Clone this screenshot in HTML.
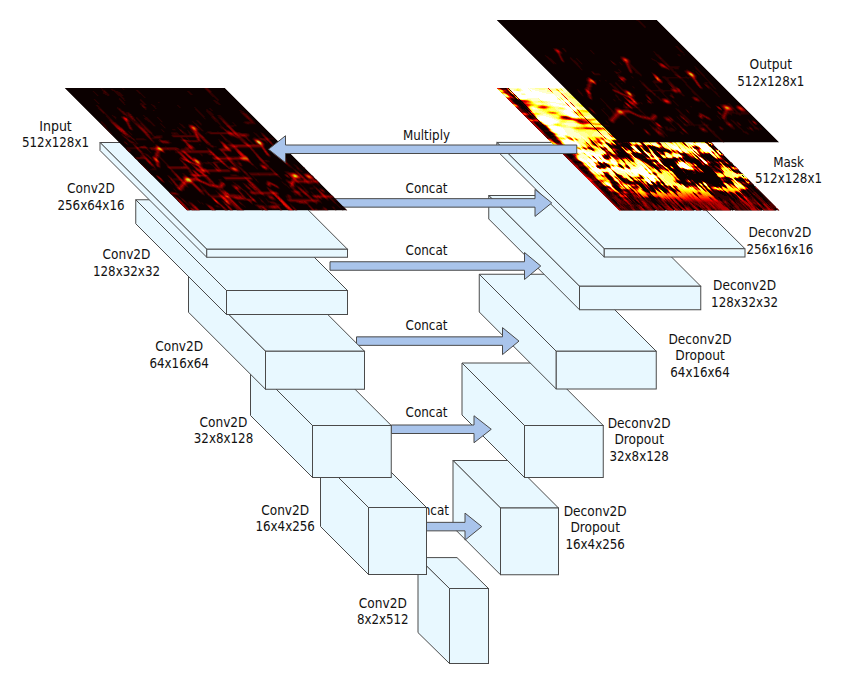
<!DOCTYPE html>
<html><head><meta charset="utf-8"><title>U-Net</title>
<style>
html,body{margin:0;padding:0;background:#fff;}
svg{display:block}
.t text{font-family:"DejaVu Sans Condensed","DejaVu Sans","Liberation Sans",sans-serif;font-size:14px;fill:#111;text-anchor:middle;}
</style></head><body>
<svg width="856" height="684" viewBox="0 0 856 684">
<defs><clipPath id="cp"><rect x="0" y="0" width="160" height="122"/></clipPath></defs>
<g fill="#e8f8ff" stroke="#4a4a4a" stroke-width="1" stroke-linejoin="miter">
<polygon points="453.0,460.5 511.0,460.5 558.5,508 500.5,508"/>
<polygon points="453.0,460.5 500.5,508 500.5,574.75 453.0,527.25"/>
<rect x="500.5" y="508" width="58.0" height="66.75"/>
<polygon points="462.0,363.0 540.75,363.0 603.25,425.5 524.5,425.5"/>
<polygon points="462.0,363.0 524.5,425.5 524.5,477.5 462.0,415.0"/>
<rect x="524.5" y="425.5" width="78.75" height="52.0"/>
<polygon points="479.25,274.25 579.25,274.25 656.25,351.25 556.25,351.25"/>
<polygon points="479.25,274.25 556.25,351.25 556.25,389 479.25,312"/>
<rect x="556.25" y="351.25" width="100.0" height="37.75"/>
<polygon points="488.75,195.5 610.0,195.5 700.75,286.25 579.5,286.25"/>
<polygon points="488.75,195.5 579.5,286.25 579.5,309.75 488.75,219.0"/>
<rect x="579.5" y="286.25" width="121.25" height="23.5"/>
<polygon points="496.85,142.4 637.6,142.4 745,248.75 604.25,248.75"/>
<polygon points="496.85,142.4 604.25,248.75 604.25,257 496.85,150.65"/>
<rect x="604.25" y="248.75" width="140.75" height="8.25"/>
</g>
<g transform="matrix(1.00313 0 1.00410 1.00410 496.5 88)" clip-path="url(#cp)"><rect x="0" y="0" width="160" height="122" fill="#0b0000"/><g fill="none" stroke-width="2" transform="scale(.5)" shape-rendering="crispEdges"><path stroke="#2c0000" d="M7 26V32M7 56V62M7 70V84M7 88V100M7 128V142M7 146V152M7 158V172M7 198V238M7 240V244M9 0V2M9 22V24M9 32V48M9 54V56M9 60V62M9 68V70M9 100V108M9 126V128M9 142V146M9 150V158M9 162V164M9 172V180M9 186V200M9 204V222M9 232V236M11 0V2M11 22V24M11 32V38M11 42V48M11 54V56M11 60V62M11 68V70M11 84V88M11 100V108M11 126V128M11 140V146M11 150V154M11 156V158M11 162V164M11 172V180M11 186V192M11 196V198M11 216V222M11 230V236M11 242V244M13 0V2M13 22V24M13 50V54M13 60V62M13 68V74M13 84V88M13 100V110M13 116V118M13 140V146M13 150V152M13 156V158M13 162V166M13 170V178M13 186V192M13 196V198M13 214V218M15 0V2M15 12V16M15 20V22M15 42V48M15 56V60M15 68V74M15 84V88M15 94V96M15 98V110M15 116V118M15 128V130M15 138V140M15 146V148M15 150V152M15 156V158M15 160V176M15 186V190M15 196V198M15 204V206M15 212V218M17 2V14M17 16V18M17 20V22M17 46V48M17 54V58M17 70V74M17 84V88M17 94V96M17 98V102M17 104V108M17 130V138M17 146V148M17 150V152M17 156V158M17 162V164M17 166V168M17 172V178M17 184V186M17 190V196M17 202V208M17 210V214M17 232V238M19 14V18M19 20V22M19 58V62M19 66V72M19 84V88M19 94V100M19 146V148M19 150V152M19 156V162M19 196V198M19 200V204M19 206V212M21 24V26M21 28V40M21 90V92M21 198V200M21 232V244M23 0V2M23 14V16M23 22V24M23 38V40M23 210V214M23 232V244M25 208V210M25 214V218M25 220V224M25 234V244M27 208V210M27 214V218M27 222V226M27 234V244M29 208V224M29 226V236M31 234V236M35 240V244M37 196V198M37 204V206M37 238V244M39 194V196M39 206V214M39 218V224M39 230V232M39 236V244M41 188V194M41 206V208M41 226V230M41 232V238M41 240V244M43 176V184M43 186V188M43 206V208M43 228V244M45 156V160M45 172V174M45 184V188M45 204V206M45 216V220M45 232V234M47 158V160M47 170V172M47 184V188M47 190V192M47 218V234M49 156V158M49 172V174M49 184V186M49 216V224M49 228V232M51 156V158M51 174V180M51 188V192M51 212V216M51 232V234M53 158V160M53 204V206M53 212V224M53 232V236M53 238V240M55 158V160M55 204V212M55 214V220M55 230V238M55 242V244M57 148V150M57 204V216M57 236V244M59 150V152M59 226V234M61 154V156M61 220V230M65 150V152M65 156V158M67 120V124M67 150V152M67 188V190M67 202V204M67 206V214M69 120V124M69 156V158M69 172V174M69 188V190M71 174V180M71 186V190M71 240V244M73 182V192M73 214V218M73 222V236M75 182V188M75 190V192M75 198V200M75 220V222M75 228V242M77 138V140M77 184V186M77 190V192M79 138V140M79 182V186M79 190V192M79 220V226M81 136V142M81 188V192M81 220V228M83 110V114M83 134V136M83 188V192M83 220V230M83 242V244M85 108V114M85 136V138M85 190V192M85 220V224M85 234V238M87 136V138M87 234V236M89 134V136M89 178V182M89 186V192M89 214V216M89 230V232M91 120V124M91 154V156M91 180V182M91 184V186M91 192V202M91 206V208M91 232V234M93 158V160M93 186V188M93 206V208M93 214V218M95 188V190M95 208V210M95 216V218M95 222V234M97 128V136M97 190V192M97 216V218M97 224V232M99 134V136M99 186V202M99 204V206M99 220V224M103 200V206M103 220V232M105 156V160M105 180V182M105 186V188M105 200V206M105 220V224M107 134V136M107 138V142M107 200V204M109 110V122M109 126V130M109 132V134M109 138V140M109 194V198M109 208V210M111 110V112M111 118V120M111 132V134M111 138V140M111 178V180M111 190V192M111 228V230M113 112V114M113 118V120M113 126V128M113 138V140M113 176V180M113 228V232M113 238V242M115 116V120M115 124V126M115 138V140M115 196V198M115 226V232M117 64V72M117 78V80M117 84V86M117 116V120M117 124V126M117 196V202M119 114V116M119 120V122M119 124V128M119 138V140M119 196V206M121 122V128M121 136V138M121 192V194M121 198V202M123 138V140M125 144V146M125 190V192M125 196V198M125 238V244M127 106V112M127 144V146M127 194V202M127 206V208M127 222V228M127 230V236M129 106V108M129 136V138M131 108V114M131 116V118M131 132V134M131 190V192M133 106V110M133 114V116M133 188V190M133 206V208M135 106V110M135 112V114M135 116V118M135 188V192M135 194V196M135 206V208M135 224V230M135 240V242M137 110V112M137 118V122M137 202V206M137 222V228M137 238V240M139 108V112M139 116V118M139 230V236M141 106V108M141 118V120M141 132V136M141 138V140M141 190V192M141 194V198M143 106V108M143 122V124M143 138V140M143 186V188M143 192V194M143 198V200M143 232V234M145 108V110M145 124V128M145 140V142M145 170V174M145 230V236M147 86V88M147 90V92M147 98V100M147 108V110M147 140V142M147 200V202M147 210V214M147 228V232M147 234V236M149 120V122M149 130V132M149 146V148M149 198V200M149 228V244M151 96V98M151 108V110M151 116V120M151 148V150M151 200V202M151 204V206M151 230V234M153 96V98M153 130V132M153 140V142M153 150V156M153 232V242M155 96V98M155 108V112M155 132V134M155 140V142M155 150V156M157 96V98M157 132V134M157 160V162M157 202V206M159 134V136M159 138V142M159 166V168M159 198V208M161 30V42M161 48V52M161 56V66M161 72V74M161 78V80M161 82V88M161 94V96M161 98V100M161 122V126M161 130V134M161 144V146M161 148V150M161 152V154M161 162V166M161 230V234M163 0V34M163 118V120M163 136V138M163 144V148M163 154V158M163 160V162M163 236V244M165 128V130M165 138V140M165 144V146M165 234V238M167 114V116M167 136V138M167 236V238M169 74V76M169 144V148M169 154V160M171 76V78M171 144V148M173 76V78M173 122V126M173 144V148M175 120V126M175 154V156M175 190V192M177 118V120M177 128V130M177 162V164M177 184V186M179 112V114M179 126V128M181 104V112M181 122V124M181 186V188M181 192V194M183 104V108M183 116V118M183 144V146M183 184V186M183 194V196M185 144V146M185 170V174M185 194V196M185 210V218M187 54V58M187 116V128M187 136V138M187 146V148M187 192V194M189 0V2M189 56V58M189 158V160M189 192V194M189 240V244M191 56V58M191 154V156M191 162V164M191 194V196M191 242V244M193 56V58M193 116V118M193 126V128M193 134V136M193 162V164M193 184V186M193 188V194M195 44V46M195 56V58M195 122V124M195 156V160M195 182V184M195 190V194M197 44V48M197 116V118M197 182V184M197 190V194M199 42V48M199 126V128M199 180V182M199 190V194M201 42V44M201 48V50M201 128V130M201 140V142M201 182V184M201 188V190M201 194V196M203 42V44M203 48V50M203 154V156M203 184V188M203 194V198M205 48V50M205 188V192M207 40V42M207 48V50M207 122V124M207 152V154M207 162V166M207 170V172M207 174V176M207 182V184M209 8V10M209 32V36M209 38V40M209 52V58M209 120V122M209 146V148M209 162V168M209 190V192M211 6V8M211 40V42M211 48V50M211 98V100M211 122V124M211 144V146M211 162V164M211 196V200M213 10V12M213 32V34M213 38V40M213 50V58M213 120V124M213 126V128M213 140V142M213 146V148M215 6V8M215 42V50M215 100V102M215 110V112M215 120V122M215 144V146M217 8V10M217 40V50M217 52V58M217 100V102M217 128V130M217 204V212M219 8V10M219 40V44M219 52V58M219 90V92M219 128V130M219 140V142M219 190V196M219 198V202M219 214V222M221 40V44M221 50V54M221 58V60M221 90V92M221 126V128M221 190V198M221 204V206M221 216V224M223 40V44M223 50V54M223 58V60M223 90V92M223 100V102M223 168V172M223 210V226M223 232V238M225 40V44M225 50V52M225 58V60M225 90V92M225 142V144M225 170V172M225 184V186M225 212V218M225 226V242M227 40V44M227 50V52M227 58V60M227 90V92M227 146V148M227 168V172M227 202V218M227 224V226M227 240V244M229 40V44M229 66V72M229 86V88M229 140V146M229 168V170M229 188V190M229 194V196M229 198V200M229 202V224M229 236V242M231 0V2M231 10V16M231 22V24M231 40V44M231 58V60M231 66V70M231 166V168M231 188V190M231 206V222M231 232V236M233 22V26M233 42V44M233 52V54M233 58V60M233 66V70M233 140V146M233 190V196M233 206V224M233 234V244M235 22V28M235 52V54M235 58V60M235 66V70M235 100V104M235 138V140M235 166V168M235 192V196M235 206V238M237 22V28M237 52V56M237 58V60M237 66V70M237 100V104M237 130V134M237 138V140M237 192V196M237 212V226M237 236V244M239 22V24M239 26V28M239 52V60M239 66V72M239 132V138M239 148V150M239 168V170M239 206V208M239 214V236M241 22V24M241 26V28M241 68V70M241 158V160M241 168V170M241 196V198M241 206V208M241 216V228M243 22V24M243 28V30M243 148V150M243 168V170M243 206V208M243 216V222M245 22V24M245 28V30M245 130V132M245 148V150M245 196V198M245 216V220M247 2V10M247 22V24M247 28V34M247 134V136M247 152V154M247 164V168M247 210V224M247 238V244M249 22V24M249 28V34M249 140V142M249 206V208M249 230V244M251 22V24M251 28V36M251 140V142M251 226V228M253 22V24M253 28V36M253 140V142M253 214V220M253 224V230M255 22V24M255 28V36M255 140V142M255 190V194M255 216V232M257 22V24M257 28V36M257 140V142M257 210V214M257 224V244M259 44V46M259 144V150M259 154V156M259 208V210M259 222V228M261 0V8M261 10V12M261 22V24M261 28V36M261 210V224M263 6V12M263 22V24M263 28V36M263 134V144M263 146V148M263 152V154M263 188V190M263 212V222M263 236V244M265 6V16M265 22V24M265 28V36M265 78V80M265 152V154M265 174V178M265 182V184M267 4V8M267 10V16M267 22V24M267 30V32M267 38V44M267 168V172M269 4V6M269 10V16M269 22V24M269 28V36M269 158V164M269 186V188M269 210V216M271 4V6M271 10V18M271 22V24M271 28V30M271 32V36M271 158V160M271 184V186M271 208V210M271 220V224M273 2V6M273 10V18M273 22V24M273 32V36M273 92V94M273 138V144M273 152V156M273 158V160M273 190V192M273 208V210M273 224V228M275 2V6M275 8V18M275 22V24M275 26V28M275 34V36M275 88V94M275 132V134M275 144V146M275 160V166M275 180V182M275 184V186M275 210V214M277 2V16M277 22V24M277 26V28M277 34V36M277 86V96M277 118V122M277 132V134M277 138V142M277 164V166M277 184V186M279 2V16M279 22V28M279 70V72M279 86V94M279 144V146M279 156V164M279 178V180M279 192V194M281 4V6M281 12V16M281 22V26M281 56V58M281 68V72M281 80V82M281 86V94M281 120V122M281 132V134M281 146V150M281 154V156M281 162V164M281 192V194M283 12V14M283 24V26M283 56V58M283 66V72M283 80V92M283 118V120M283 132V134M283 146V152M283 154V156M283 166V168M283 188V190M283 208V216M283 232V242M285 12V14M285 54V58M285 66V72M285 78V92M285 104V106M285 158V160M285 180V182M285 210V222M285 234V236M285 242V244M287 54V58M287 66V72M287 78V92M287 102V104M287 180V182M287 204V206M287 218V224M287 234V238M289 2V4M289 12V16M289 22V26M289 54V58M289 68V72M289 78V84M289 88V92M289 146V150M289 156V158M289 218V222M289 234V240M289 242V244M291 4V6M291 12V14M291 54V56M291 66V70M291 76V84M291 88V92M291 132V134M291 140V142M291 144V146M291 152V154M291 214V220M293 0V2M293 36V38M293 54V56M293 66V70M293 74V82M293 204V216M295 34V38M295 54V56M295 66V70M295 72V82M295 96V98M295 132V134M295 150V154M295 182V184M295 206V212M295 214V232M297 34V38M297 54V56M297 66V70M297 72V76M297 78V82M297 96V100M297 146V148M297 184V186M297 238V240M299 34V40M299 54V56M299 68V74M299 78V80M299 94V96M299 98V100M299 144V146M299 180V182M299 186V188M299 202V204M299 236V240M301 8V16M301 18V26M301 28V30M301 38V40M301 54V56M301 68V74M301 78V80M301 94V96M301 100V102M301 142V146M301 186V190M301 192V196M301 204V210M301 214V230M303 32V34M303 36V40M303 54V56M303 68V72M303 78V80M303 94V96M303 100V102M303 148V152M303 154V158M303 194V210M305 30V32M305 36V40M305 54V56M305 58V60M305 68V72M305 78V80M305 102V104M305 144V148M305 150V152M305 154V156M305 180V182M305 186V188M305 194V196M305 208V214M307 30V32M307 36V42M307 58V60M307 68V72M307 78V80M307 102V106M307 144V150M307 158V160M307 162V166M307 188V190M307 194V208M309 30V32M309 36V44M309 58V60M309 68V72M309 78V82M309 158V160M309 162V164M309 188V194M309 198V208M311 30V32M311 34V44M311 54V56M311 58V60M311 68V72M311 80V82M311 92V94M311 110V114M311 118V128M311 154V156M311 168V170M311 180V182M311 184V186M311 192V194M311 218V236M313 2V6M313 30V32M313 34V36M313 38V46M313 54V56M313 58V60M313 68V72M313 80V82M313 92V94M313 108V110M313 124V126M313 136V142M313 146V148M313 152V156M313 166V168M313 228V232M313 242V244M315 2V6M315 14V20M315 24V36M315 38V42M315 44V48M315 54V60M315 68V70M315 80V82M315 92V94M315 104V106M315 116V120M315 136V138M315 156V158M315 164V166M315 168V170M315 192V194M315 228V232M315 238V242M317 8V12M317 22V34M317 44V48M317 54V60M317 68V70M317 80V82M317 88V94M317 106V108M317 118V122M317 164V166M317 192V194M317 196V198M317 204V230M317 240V242M319 0V2M319 20V26M319 28V34M319 46V48M319 54V60M319 68V70M319 80V82M319 86V92M319 108V110M319 112V114M319 124V126M319 132V134M319 148V152M319 156V158M319 184V186M319 190V194M319 196V198M319 202V216"/>
<path stroke="#4e0000" d="M3 98V100M5 46V48M5 56V60M5 90V100M5 128V142M5 160V170M5 214V244M7 0V2M7 22V26M7 38V48M7 68V70M7 84V88M7 100V102M7 142V146M7 152V154M7 156V158M7 172V178M7 188V198M7 238V240M9 2V4M9 20V22M9 48V50M9 108V110M9 180V184M9 236V238M9 240V244M11 2V4M11 20V22M11 48V50M11 108V110M11 116V120M11 154V156M11 180V184M11 192V196M11 236V242M13 2V4M13 114V116M13 118V120M13 126V128M13 152V156M13 178V182M13 192V196M13 218V228M13 240V244M15 2V4M15 6V12M15 16V20M15 54V56M15 60V62M15 114V116M15 118V120M15 126V128M15 140V146M15 152V154M15 176V180M15 190V196M15 218V236M15 242V244M17 18V20M17 48V54M17 58V60M17 68V70M17 102V104M17 108V110M17 114V118M17 128V130M17 138V140M17 144V146M17 152V156M17 164V166M17 168V172M17 178V184M17 214V218M17 228V232M17 238V244M19 0V2M19 12V14M19 18V20M19 62V66M19 106V108M19 132V138M19 152V156M19 162V164M19 172V174M19 186V190M19 194V196M19 204V206M19 212V218M19 230V244M21 40V42M21 76V82M21 88V90M21 92V94M21 148V150M21 196V198M21 208V216M21 228V232M23 2V6M23 12V14M23 16V18M23 40V42M23 208V210M23 214V222M23 226V232M25 198V200M25 224V234M27 226V234M29 224V226M29 236V240M31 210V212M31 218V222M31 228V234M31 236V238M35 236V240M37 206V208M37 220V224M37 228V238M39 224V230M39 232V236M41 220V226M43 174V176M43 184V186M43 208V210M43 226V228M45 170V172M45 206V208M45 212V216M45 234V240M47 192V198M47 202V206M47 214V218M47 234V238M49 158V160M49 170V172M49 192V194M49 212V216M49 224V228M49 232V234M51 158V160M51 172V174M51 180V182M51 204V206M53 154V156M53 206V208M53 210V212M53 236V238M53 240V244M55 148V150M55 220V224M55 226V230M57 158V160M57 202V204M57 216V218M57 230V236M59 204V208M59 210V212M59 220V226M59 234V244M61 152V154M61 156V158M61 230V232M63 152V156M63 218V226M65 120V122M65 176V184M67 118V120M67 168V172M67 200V202M67 214V216M69 152V154M69 232V244M71 120V122M71 220V240M73 180V182M73 212V214M75 196V198M75 200V202M75 218V220M75 222V228M77 58V60M77 136V138M77 140V142M77 182V184M77 222V236M79 58V60M79 136V138M79 140V142M79 226V232M81 58V60M81 186V188M81 198V200M81 228V230M83 108V110M83 114V116M83 140V142M83 192V194M83 196V198M83 230V242M85 106V108M85 114V116M85 134V136M85 188V190M85 192V194M85 196V198M85 238V244M87 134V136M87 188V192M87 216V218M87 236V244M89 120V122M89 132V134M89 136V138M89 232V234M91 124V126M91 158V160M91 178V180M91 214V216M91 234V236M93 122V124M93 152V154M95 134V136M95 156V158M95 210V216M97 120V124M97 126V128M97 136V138M97 188V190M97 210V216M97 232V244M99 132V134M99 136V138M99 206V208M99 218V220M99 224V232M101 220V236M103 66V68M103 156V160M103 198V200M103 206V208M103 232V236M105 136V138M105 154V156M105 184V186M105 198V200M105 206V208M105 218V220M105 224V232M107 132V134M107 142V148M107 208V210M107 218V222M109 124V126M109 130V132M109 140V142M109 228V240M111 206V208M111 226V228M113 190V192M113 202V204M113 226V228M113 242V244M115 114V116M115 194V196M115 198V200M115 222V226M115 232V236M117 62V64M117 72V74M117 76V78M117 86V88M117 120V122M117 138V140M117 194V196M117 202V204M117 228V232M119 122V124M119 140V142M119 194V196M119 206V208M119 228V240M121 112V114M121 190V192M121 202V206M121 232V244M123 114V116M123 140V142M123 238V240M125 114V116M125 188V190M125 232V238M127 228V230M129 138V142M129 192V194M129 210V212M131 134V136M131 208V210M133 112V114M133 232V238M135 110V112M135 192V194M135 222V224M135 242V244M137 104V106M137 122V124M137 200V202M137 240V242M139 134V138M139 228V230M139 236V238M141 188V190M141 192V194M141 198V200M143 94V98M143 124V126M143 128V130M143 184V186M143 230V232M143 234V238M145 94V96M145 142V144M145 202V204M145 228V230M145 236V238M147 88V90M147 122V124M147 128V130M147 142V146M147 198V200M147 214V216M147 222V224M147 226V228M147 236V238M149 94V98M149 108V110M149 196V198M149 208V210M149 226V228M151 94V96M151 120V122M151 150V152M151 198V200M151 206V208M151 228V230M153 94V96M153 98V100M153 110V114M153 204V206M153 228V232M155 94V96M155 98V100M155 106V108M155 112V114M155 228V236M155 242V244M157 200V202M159 96V98M159 132V134M159 196V198M161 28V30M161 42V48M161 80V82M161 88V94M161 120V122M161 126V128M161 134V138M161 150V152M161 166V168M161 228V230M161 234V238M163 96V98M163 116V118M163 152V154M163 230V236M165 76V78M165 96V98M165 114V116M165 158V160M165 232V234M167 76V78M167 126V128M167 134V136M167 144V146M167 234V236M169 14V16M169 52V54M169 78V80M169 96V98M169 152V154M169 160V162M169 228V230M169 240V244M171 74V76M171 154V156M171 228V232M173 74V76M173 120V122M173 154V156M173 228V234M173 240V244M175 76V78M175 118V120M175 126V128M175 144V148M175 156V162M175 184V186M177 116V118M177 160V162M177 164V166M177 190V192M177 240V242M179 52V54M179 104V110M179 234V242M181 52V54M181 152V156M181 194V196M183 50V58M183 114V116M183 118V120M183 196V198M185 50V58M185 132V136M185 166V168M185 196V198M187 52V54M187 144V146M187 194V196M187 242V244M189 2V16M189 52V56M189 232V240M191 52V56M191 238V242M193 44V48M193 54V56M193 136V140M193 154V156M193 186V188M193 242V244M195 46V48M195 54V56M195 116V118M195 124V126M195 194V196M197 42V44M197 48V50M197 56V58M197 64V66M197 126V128M197 194V196M199 48V50M199 56V58M199 64V68M199 242V244M201 56V58M201 64V68M201 118V120M201 132V134M201 184V186M203 64V68M203 132V134M203 140V142M205 40V42M205 120V122M205 184V188M205 192V194M207 6V8M207 126V128M207 160V162M207 168V170M207 188V190M209 10V12M209 14V18M209 30V32M209 36V38M209 58V64M209 126V128M209 192V194M211 4V6M211 50V52M211 88V92M211 96V98M211 100V102M211 120V122M211 200V204M213 14V18M213 34V38M213 58V60M213 88V90M213 98V100M213 190V192M215 4V6M215 8V10M215 38V40M215 50V58M215 88V92M215 98V100M215 108V110M215 112V114M215 128V130M215 162V164M215 188V190M217 4V8M217 38V40M217 50V52M217 88V92M217 98V100M217 102V104M217 122V124M217 188V190M217 202V204M217 212V214M219 6V8M219 38V40M219 44V52M219 58V60M219 88V90M219 144V146M219 164V166M219 222V224M221 8V12M221 38V40M221 44V50M221 88V90M221 124V126M221 164V166M221 232V234M223 8V12M223 22V24M223 38V40M223 44V50M223 88V90M223 164V166M223 208V210M223 226V232M223 238V244M225 10V12M225 14V18M225 20V24M225 38V40M225 44V50M225 88V90M225 100V102M225 140V142M225 164V166M225 208V212M227 14V16M227 20V24M227 38V40M227 44V46M227 88V90M227 166V168M227 186V188M227 198V200M227 226V228M227 230V240M229 14V16M229 20V26M229 38V40M229 44V46M229 50V52M229 82V86M229 92V94M229 166V168M229 190V194M229 200V202M229 224V226M229 232V236M231 2V4M231 8V10M231 16V22M231 24V26M231 38V40M231 44V46M231 50V52M231 88V92M231 190V198M231 204V206M231 222V226M231 230V232M233 18V22M233 26V28M233 38V42M233 44V46M233 50V52M233 60V62M233 64V66M233 70V72M233 88V92M233 204V206M233 224V234M235 20V22M235 38V46M235 50V52M235 60V62M235 64V66M235 70V72M235 90V92M235 130V132M235 146V148M235 164V166M235 204V206M235 238V244M237 20V22M237 28V30M237 38V44M237 60V66M237 70V72M237 98V100M237 104V106M237 146V148M237 168V170M237 204V206M239 20V22M239 28V34M239 38V44M239 60V62M239 64V66M239 102V104M239 158V160M239 166V168M239 236V244M241 20V22M241 28V34M241 36V44M241 52V62M241 66V68M241 70V72M241 150V152M241 156V158M241 228V236M243 20V22M243 30V34M243 36V44M243 52V56M243 66V72M243 130V132M243 222V226M245 20V22M245 30V44M245 52V54M245 68V72M245 90V92M245 206V208M245 220V222M245 240V244M247 0V2M247 34V44M247 90V92M247 130V132M247 196V198M247 208V210M247 224V238M249 34V38M249 40V44M249 88V92M249 138V140M249 198V200M251 36V38M251 40V44M251 88V92M251 138V140M251 198V200M251 206V208M251 228V244M253 8V10M253 36V38M253 40V44M253 54V56M253 88V92M253 196V198M253 212V214M253 230V244M255 8V10M255 36V38M255 40V44M255 54V56M255 88V94M255 194V196M255 214V216M255 232V244M257 8V10M257 36V38M257 40V44M257 54V56M257 90V94M257 196V198M259 46V48M259 52V56M259 150V152M259 198V200M259 228V244M261 36V38M261 40V44M261 54V56M261 78V80M261 154V156M261 198V200M261 208V210M261 224V226M263 12V14M263 36V38M263 40V42M263 78V80M263 148V152M263 210V212M263 222V226M263 228V236M265 0V6M265 36V42M265 80V82M265 84V88M265 94V96M265 110V114M265 184V188M265 214V216M265 232V244M267 0V4M267 16V18M267 52V58M267 78V80M267 86V88M267 92V98M267 154V156M267 172V174M267 180V182M269 0V4M269 16V18M269 36V42M269 78V80M269 86V90M269 92V98M269 156V158M269 216V218M271 0V4M271 30V32M271 36V40M271 78V80M271 86V96M271 154V158M271 160V166M271 180V184M271 190V192M271 224V226M273 0V2M273 18V22M273 28V32M273 36V40M273 70V72M273 80V82M273 86V92M273 94V96M273 134V136M273 144V146M273 156V158M273 160V166M273 180V182M273 184V186M273 228V230M275 0V2M275 18V22M275 28V34M275 36V38M275 70V72M275 80V82M275 84V88M275 94V96M275 150V152M275 182V184M275 214V224M277 0V2M277 16V22M277 32V34M277 36V38M277 56V58M277 70V72M277 80V82M277 84V86M277 96V98M277 130V132M277 142V144M277 150V152M277 166V168M277 190V192M277 212V216M279 0V2M279 16V22M279 32V36M279 56V58M279 68V70M279 80V86M279 94V96M279 118V122M279 130V132M279 146V150M279 168V170M279 238V244M281 0V4M281 6V8M281 10V12M281 16V22M281 26V28M281 34V36M281 66V68M281 78V80M281 82V86M281 160V162M281 170V172M281 208V216M281 232V238M283 0V4M283 14V16M283 22V24M283 34V36M283 54V56M283 72V74M283 78V80M283 92V94M283 120V122M283 164V166M283 178V180M283 206V208M283 216V232M283 242V244M285 0V4M285 14V16M285 22V26M285 34V36M285 64V66M285 72V74M285 92V94M285 102V104M285 182V184M285 204V206M285 222V228M285 232V234M287 0V2M287 12V16M287 22V26M287 34V36M287 64V66M287 72V74M287 76V78M287 92V94M287 96V102M287 106V108M287 130V132M287 160V162M287 182V184M287 224V228M287 232V234M289 10V12M289 16V22M289 34V38M289 52V54M289 64V66M289 72V78M289 84V88M289 98V100M289 104V106M289 222V234M291 6V8M291 10V12M291 34V38M291 52V54M291 64V66M291 70V76M291 84V88M291 146V148M291 150V152M291 154V156M291 220V224M293 2V4M293 34V36M293 52V54M293 64V66M293 70V74M293 82V84M293 88V92M293 146V148M293 216V222M293 238V240M295 58V60M295 70V72M295 82V84M295 88V92M295 98V100M295 148V150M295 184V186M295 204V206M295 212V214M295 232V242M297 38V40M297 58V60M297 70V72M297 82V84M297 90V92M297 94V96M297 140V142M297 180V182M297 202V204M297 240V242M299 32V34M299 58V60M299 66V68M299 80V82M299 92V94M299 100V102M299 188V190M299 192V194M299 240V242M301 16V18M301 26V28M301 40V42M301 58V60M301 66V68M301 80V82M301 92V94M301 146V148M301 152V154M301 180V182M301 190V192M301 202V204M301 210V214M301 230V232M303 30V32M303 40V42M303 58V60M303 66V68M303 80V84M303 92V94M303 140V142M303 180V182M303 186V188M303 192V194M303 210V212M303 214V230M305 40V42M305 66V68M305 80V84M305 92V94M305 104V106M305 148V150M305 192V194M305 214V220M307 42V44M307 52V54M307 66V68M307 80V84M307 92V94M307 192V194M307 208V232M307 234V242M309 2V6M309 44V46M309 52V54M309 66V68M309 82V84M309 92V94M309 108V110M309 144V146M309 150V152M309 160V162M309 168V170M309 178V180M309 208V230M311 2V6M311 44V48M311 52V54M311 60V62M311 82V84M311 128V130M311 134V138M311 140V144M311 152V154M311 236V244M313 24V30M313 36V38M313 46V50M313 52V54M313 60V62M313 82V84M313 90V92M313 110V114M313 164V166M313 168V170M313 192V194M313 232V242M315 0V2M315 20V24M315 36V38M315 48V54M315 60V62M315 66V68M315 82V84M315 86V92M315 120V122M315 232V238M317 34V36M317 38V40M317 48V54M317 60V62M317 66V68M317 86V88M317 114V116M317 134V136M317 148V152M317 156V158M317 190V192M317 202V204M317 230V240M319 6V8M319 12V14M319 34V36M319 38V40M319 48V54M319 60V62M319 66V68M319 110V112M319 126V132M319 170V172M319 186V190M319 216V232"/>
<path stroke="#6f0000" d="M1 40V48M1 54V58M1 68V82M1 94V102M1 138V142M3 40V48M3 94V98M3 100V102M3 128V140M3 214V232M5 26V32M5 40V46M5 60V62M5 86V90M5 100V102M5 142V144M5 146V154M5 158V160M5 170V178M5 210V214M7 32V34M7 48V50M7 54V56M7 126V128M7 154V156M7 178V180M7 186V188M9 8V10M9 62V64M9 66V68M9 116V120M9 184V186M9 238V240M11 8V10M11 66V68M11 184V186M13 8V10M13 20V22M13 110V112M13 182V186M13 228V240M15 4V6M15 48V50M15 110V114M15 154V156M15 180V186M15 236V242M17 60V62M17 110V112M17 140V144M17 218V228M19 100V102M19 104V106M19 114V118M19 130V132M19 164V172M19 174V176M19 184V186M19 190V194M19 218V230M21 42V44M21 74V76M21 82V84M21 150V152M21 200V202M21 206V208M21 216V228M23 6V8M23 42V44M23 198V200M23 222V226M25 26V28M25 196V198M27 198V200M29 240V244M31 212V214M31 222V224M31 226V228M31 238V242M33 236V244M35 232V236M37 194V196M37 208V212M37 218V220M37 224V228M39 192V194M39 214V216M41 208V212M43 210V212M43 220V226M45 210V212M45 240V244M47 154V156M47 212V214M47 238V242M49 234V238M51 170V172M51 186V188M51 192V194M51 210V212M51 234V236M53 202V204M53 208V210M55 120V122M55 224V226M57 138V140M57 218V224M57 228V230M59 158V160M59 202V204M59 208V210M59 212V214M59 218V220M61 218V220M61 232V234M61 238V244M63 210V218M63 226V230M63 240V244M65 174V176M65 184V186M65 210V214M65 220V226M65 240V242M67 158V160M67 216V226M67 234V244M69 170V172M69 220V232M71 122V124M71 190V192M71 218V220M73 174V178M75 58V60M75 180V182M75 192V194M75 216V218M77 198V200M77 220V222M77 236V244M79 60V62M79 198V200M79 218V220M79 232V234M79 238V244M81 60V62M81 196V198M81 218V220M81 230V232M81 240V244M83 58V62M83 106V108M83 194V196M85 104V106M85 138V140M85 194V196M87 138V140M89 176V178M89 184V186M89 204V206M89 234V236M89 240V244M91 118V120M91 126V134M91 182V184M91 236V244M93 120V122M93 128V130M93 208V210M93 212V214M95 130V134M95 154V156M95 186V188M97 108V110M99 64V68M99 138V140M99 232V244M101 64V68M101 134V140M101 204V206M101 236V240M103 64V66M103 68V70M103 136V138M103 218V220M103 236V240M105 66V68M105 134V136M105 178V180M105 182V184M105 188V190M105 192V198M105 232V236M107 128V132M107 156V158M107 198V200M107 222V224M109 122V124M109 226V228M109 240V242M111 120V122M111 130V132M111 176V178M111 180V182M111 224V226M113 110V112M113 124V126M113 174V176M115 120V122M115 236V238M117 74V76M117 114V116M117 122V124M117 224V228M117 232V234M119 112V114M119 144V146M119 226V228M119 240V242M121 138V140M121 206V208M121 222V232M123 186V188M123 198V200M123 232V238M123 240V244M125 198V200M125 226V232M127 146V148M127 208V210M127 220V222M129 142V144M129 234V244M131 104V106M131 130V132M133 104V106M133 110V112M133 228V232M133 238V240M135 104V106M135 118V122M135 208V210M137 198V200M137 206V208M137 220V222M139 96V98M139 104V106M139 132V134M139 226V228M141 96V98M141 120V122M141 130V132M141 232V238M143 170V172M143 182V184M143 200V202M143 228V230M143 238V240M145 96V98M145 144V146M145 180V182M145 188V190M145 196V198M145 200V202M145 204V206M145 226V228M145 238V244M147 84V86M147 106V108M147 170V172M147 220V222M147 224V226M147 238V244M149 148V150M149 210V212M149 222V226M151 128V130M151 196V198M151 226V228M153 108V110M153 156V158M153 202V204M153 226V228M155 130V132M155 226V228M155 236V242M157 94V96M157 98V100M159 98V100M159 168V170M159 228V230M161 66V68M161 70V72M161 128V130M161 226V228M161 238V244M163 34V36M163 98V100M163 148V150M163 228V230M165 74V76M165 146V148M165 160V162M165 228V232M167 74V76M167 132V134M167 226V234M169 16V18M169 54V56M169 94V96M169 148V150M169 226V228M169 230V240M171 148V150M171 152V154M171 156V158M171 226V228M171 232V236M171 238V244M173 126V128M173 152V154M173 226V228M173 234V240M175 52V54M175 74V76M175 136V138M175 152V154M175 162V164M175 240V244M177 52V54M177 76V78M177 130V132M177 232V240M177 242V244M179 54V56M179 110V112M179 128V130M179 184V186M179 190V192M179 230V234M179 242V244M181 50V52M181 54V58M181 102V104M183 102V104M183 108V110M183 158V160M183 162V164M183 178V180M185 130V132M185 136V138M185 142V144M185 168V170M185 218V220M185 228V234M187 50V52M187 58V60M187 138V140M187 228V242M189 24V26M189 50V52M189 58V60M189 194V196M189 228V232M191 44V48M191 50V52M191 58V60M191 114V116M191 234V238M193 48V50M193 52V54M193 58V60M193 234V242M195 42V44M195 48V50M195 58V60M195 64V66M195 140V142M195 184V186M195 188V190M195 210V212M197 54V56M197 58V60M197 66V68M197 188V190M197 242V244M199 30V32M199 54V56M199 58V60M199 62V64M199 116V118M199 128V132M199 140V142M199 194V196M199 232V242M201 54V56M201 58V60M201 62V64M201 186V188M201 196V198M201 234V244M203 0V2M203 40V42M203 56V58M203 62V64M203 198V202M203 242V244M205 0V2M205 50V52M205 62V68M205 128V130M205 242V244M207 0V2M207 4V6M207 50V52M207 54V56M207 120V122M207 154V156M207 166V168M207 186V188M207 220V222M209 64V66M209 88V90M209 148V150M211 0V4M211 8V10M211 38V40M211 52V56M211 86V88M211 126V128M211 140V142M211 146V148M213 12V14M213 18V22M213 60V62M213 86V88M213 90V92M213 100V102M213 118V120M213 148V150M213 196V198M215 86V88M215 102V104M215 118V120M215 138V140M217 58V60M217 86V88M219 4V6M219 10V12M219 16V18M219 100V102M219 224V226M219 230V236M221 6V8M221 14V18M221 20V24M221 92V94M221 100V102M221 142V144M221 198V200M221 202V204M221 224V226M221 230V232M221 234V238M223 12V18M223 20V22M223 92V94M223 102V104M223 188V190M223 206V208M225 8V10M225 12V14M225 18V20M225 92V94M225 102V104M225 144V146M225 206V208M227 10V14M227 16V20M227 24V26M227 46V50M227 68V70M227 92V94M227 102V104M227 126V128M227 138V140M227 196V198M227 200V202M227 228V230M229 10V14M229 16V20M229 46V50M229 60V62M229 64V66M229 78V82M229 146V148M229 226V228M229 230V232M231 4V6M231 26V28M231 32V34M231 46V48M231 60V62M231 64V66M231 70V72M231 228V230M233 14V18M233 32V34M233 100V104M233 162V164M233 196V198M235 18V20M235 28V34M235 62V64M235 88V90M235 98V100M235 104V106M235 128V130M235 132V134M237 18V20M237 30V34M237 36V38M237 44V46M237 50V52M237 88V92M237 128V130M237 134V138M239 34V38M239 44V46M239 50V52M239 62V64M239 88V92M239 100V102M239 104V106M239 130V132M239 150V152M239 156V158M239 160V166M239 196V198M241 34V36M241 44V46M241 62V66M241 72V74M241 88V92M241 130V132M241 160V164M241 166V168M241 236V244M243 34V36M243 56V62M243 72V74M243 88V92M243 226V244M245 54V56M245 66V68M245 72V74M245 82V84M245 88V90M245 158V160M245 168V170M245 222V226M245 230V240M247 10V12M247 20V22M247 52V56M247 66V76M247 82V84M247 88V90M249 6V10M249 20V22M249 38V40M249 52V56M249 68V76M249 82V84M249 86V88M249 136V138M251 6V10M251 20V22M251 38V40M251 52V56M251 72V76M251 86V88M251 92V94M251 136V138M253 6V8M253 38V40M253 52V54M253 72V76M253 86V88M253 92V94M253 138V140M253 210V212M255 6V8M255 52V54M255 72V74M255 76V78M255 84V88M255 212V214M257 6V8M257 52V54M257 72V74M257 76V80M257 84V90M257 208V210M259 50V52M259 70V74M259 76V80M259 84V94M261 12V14M261 38V40M261 52V54M261 70V74M261 76V78M261 84V90M261 92V94M261 226V232M261 234V244M263 0V6M263 14V16M263 38V40M263 42V44M263 52V56M263 70V74M263 76V78M263 84V90M263 92V94M263 132V134M263 226V228M265 16V18M265 42V44M265 54V56M265 70V74M265 76V78M265 88V90M265 92V94M265 96V98M265 104V110M265 136V138M265 150V152M265 212V214M265 216V218M265 228V232M267 20V22M267 44V46M267 50V52M267 58V60M267 70V74M267 80V82M267 84V86M267 88V90M267 98V100M267 236V240M269 20V22M269 70V72M269 80V82M269 84V86M269 90V92M269 164V166M269 188V190M269 218V220M271 18V22M271 40V42M271 70V72M271 80V82M271 84V86M271 96V98M271 134V138M273 56V58M273 78V80M273 82V86M273 96V98M273 150V152M273 166V168M273 182V184M273 192V194M273 230V236M275 38V40M275 56V60M275 78V80M275 82V84M275 96V98M275 118V120M275 166V168M275 190V192M275 208V210M275 224V226M277 28V32M277 58V60M277 68V70M277 78V80M277 82V84M277 128V130M277 178V180M277 210V212M277 240V244M279 28V30M279 36V38M279 58V60M279 66V68M279 72V74M279 78V80M279 96V98M279 128V130M279 234V238M281 8V10M281 32V34M281 36V38M281 54V56M281 58V60M281 72V74M281 116V118M281 122V124M281 156V160M281 194V196M281 206V208M281 216V218M281 222V232M281 238V240M283 4V6M283 10V12M283 16V22M283 26V28M283 36V38M283 58V60M283 64V66M283 116V118M283 156V158M283 168V170M285 16V22M285 26V28M285 36V38M285 58V60M285 76V78M285 96V100M285 130V132M285 160V162M285 228V232M287 2V4M287 20V22M287 36V38M287 52V54M287 58V60M287 74V76M287 162V164M287 228V232M289 4V6M289 26V28M289 58V60M289 92V94M289 96V98M289 102V104M291 8V10M291 14V16M291 22V26M291 58V60M291 96V98M291 202V204M291 224V230M291 236V242M293 38V40M293 58V60M293 84V88M293 96V98M293 130V132M293 152V154M293 222V228M293 236V238M293 240V242M295 0V2M295 38V40M295 52V54M295 64V66M295 84V86M295 92V96M295 180V182M295 242V244M297 0V2M297 32V34M297 52V54M297 88V90M297 92V94M297 242V244M299 52V54M299 82V84M299 90V92M299 142V144M299 190V192M299 242V244M301 52V54M301 82V84M301 90V92M301 102V106M301 150V152M301 196V198M301 232V240M303 2V4M303 52V54M303 90V92M303 102V104M303 212V214M303 230V232M305 2V6M305 42V44M305 52V54M305 90V92M305 142V144M305 156V158M305 220V230M307 2V6M307 44V50M307 84V86M307 90V92M307 106V108M307 142V144M307 160V162M307 166V168M307 178V180M307 190V192M307 232V234M309 46V52M309 60V62M309 84V86M309 90V92M309 142V144M309 146V148M309 230V242M311 0V2M311 24V30M311 48V52M311 62V64M311 66V68M311 84V86M311 88V92M311 130V132M311 138V140M311 144V146M311 156V158M311 162V164M311 186V188M311 190V192M313 0V2M313 12V20M313 22V24M313 50V52M313 62V68M313 84V90M313 134V136M313 148V152M315 6V8M315 12V14M315 62V66M315 84V86M315 106V108M315 182V186M315 190V192M317 36V38M317 62V66M317 82V86M317 108V110M317 170V172M319 82V86M319 158V160M319 162V164M319 182V184M319 200V202M319 232V236M319 240V244"/>
<path stroke="#910000" d="M1 48V50M1 58V62M1 66V68M1 82V84M1 92V94M1 128V138M1 142V144M1 146V150M1 212V214M3 48V50M3 54V60M3 90V94M3 140V144M3 146V154M3 210V214M3 232V238M5 22V26M5 38V40M5 48V50M5 54V56M5 68V86M5 126V128M5 144V146M5 154V158M5 186V210M7 20V22M7 36V38M7 102V108M7 180V182M9 10V12M9 50V54M9 120V122M11 6V8M11 10V12M11 50V54M11 62V64M11 110V112M11 114V116M11 120V122M13 6V8M13 10V16M13 62V64M13 66V68M13 112V114M13 120V122M15 50V54M15 66V68M17 66V68M17 112V114M17 118V120M17 126V128M19 2V4M19 102V104M19 108V110M19 128V130M19 138V140M19 144V146M21 44V46M21 94V98M21 134V136M21 146V148M21 158V162M21 202V204M23 18V22M23 44V46M23 90V92M25 28V30M25 32V34M25 206V208M27 206V208M29 206V208M31 224V226M31 242V244M33 232V236M35 220V222M35 228V232M37 212V214M39 216V218M41 186V188M41 212V214M41 218V220M45 208V210M47 168V170M47 198V202M47 242V244M49 154V156M49 194V196M49 204V206M49 210V212M49 238V242M51 182V184M51 202V204M51 206V208M51 236V238M55 202V204M57 120V122M57 224V228M59 214V218M61 212V214M61 216V218M61 234V238M63 120V122M63 150V152M63 230V234M63 236V240M65 118V120M65 186V188M65 204V206M65 214V216M65 236V240M65 242V244M67 166V168M67 190V192M67 198V200M67 226V228M67 232V234M69 118V120M69 124V126M69 190V192M71 110V112M71 118V120M73 192V194M73 198V200M73 210V212M75 212V216M77 60V62M79 234V238M81 110V114M81 232V240M83 132V134M83 198V200M83 218V220M85 60V62M85 218V220M89 118V120M89 122V124M89 182V184M89 212V214M89 236V240M91 208V210M91 212V214M93 130V132M93 184V186M95 128V130M95 136V138M95 158V160M97 64V68M97 118V120M97 124V126M97 138V140M97 186V188M99 68V70M99 128V132M99 140V142M99 184V186M101 68V70M101 140V142M101 202V204M101 218V220M101 240V244M103 134V136M103 196V198M103 240V244M105 64V66M105 68V70M105 138V140M105 190V192M105 236V244M107 66V70M107 154V156M107 224V236M109 68V70M109 224V226M109 242V244M111 108V110M111 126V130M111 188V190M113 120V122M113 140V142M113 180V182M113 224V226M115 122V124M115 200V202M115 238V242M117 60V62M117 88V90M117 204V206M117 222V224M117 234V238M119 142V144M119 224V226M119 242V244M121 188V190M123 226V232M125 146V148M125 224V226M129 104V106M129 222V224M129 230V234M131 122V124M131 136V138M131 188V190M131 232V238M133 116V118M133 134V136M133 208V210M133 222V228M133 240V242M135 122V124M135 186V188M137 96V98M137 188V190M137 242V244M139 94V96M139 118V120M139 224V226M139 238V240M141 94V96M141 104V106M141 228V232M141 238V240M143 104V106M143 126V128M143 140V142M143 172V174M143 180V182M143 202V204M143 226V228M143 240V244M145 106V108M145 182V184M145 186V188M145 198V200M149 92V94M151 98V100M151 152V154M151 224V226M153 106V108M155 156V158M157 198V200M157 226V244M159 94V96M159 226V228M159 230V236M161 118V120M161 142V144M163 36V40M163 76V78M163 138V140M163 150V152M163 226V228M165 98V100M165 142V144M165 156V158M165 226V228M167 138V140M167 146V148M167 158V160M167 224V226M169 0V4M169 72V74M169 84V88M169 114V118M169 224V226M171 158V160M171 224V226M171 236V238M173 52V54M173 116V120M173 148V150M173 156V158M173 186V188M173 224V226M175 116V118M175 226V240M177 54V56M177 104V106M177 182V184M177 228V232M179 50V52M179 102V104M179 228V230M181 150V152M181 196V198M181 228V242M183 58V60M183 160V162M183 180V184M183 212V214M183 228V236M185 58V60M185 104V106M185 208V210M185 220V222M185 226V228M185 234V244M187 104V106M187 142V144M187 226V228M189 16V18M189 22V24M189 44V48M189 114V116M189 226V228M191 48V50M191 228V234M193 42V44M193 50V52M193 64V66M193 194V196M193 228V234M195 50V54M195 66V68M195 240V244M197 30V32M197 50V52M197 62V64M197 140V142M197 196V198M197 210V212M197 240V242M199 50V52M199 60V62M199 68V70M199 182V184M199 228V232M201 0V2M201 30V32M201 40V42M201 50V52M201 60V62M201 68V70M201 98V102M201 228V234M203 30V32M203 50V52M203 54V56M203 58V62M203 68V70M203 98V100M203 118V120M203 232V242M205 6V8M205 54V58M205 60V62M205 68V70M205 140V142M205 230V242M207 52V54M207 56V58M207 62V68M207 88V90M207 140V142M207 184V186M207 218V220M207 222V224M207 240V244M209 12V14M209 66V68M209 86V88M209 98V100M209 194V196M209 220V224M211 56V58M211 92V96M211 204V206M211 228V232M213 22V24M213 30V32M213 84V86M213 110V112M213 160V162M215 2V4M215 58V60M215 146V148M217 2V4M217 10V12M217 16V18M217 92V94M217 130V132M217 138V140M217 144V146M217 162V164M217 218V222M219 14V16M219 20V24M219 86V88M219 92V94M219 122V124M219 226V230M219 236V238M221 4V6M221 12V14M221 18V20M221 86V88M221 226V230M221 238V240M223 6V8M223 18V20M225 34V36M225 68V70M225 186V188M227 8V10M227 32V36M227 66V68M227 100V102M227 124V126M227 164V166M229 32V36M229 62V64M229 72V74M229 76V78M229 126V128M229 228V230M231 6V8M231 34V36M231 48V50M231 92V94M231 164V166M231 202V204M231 226V228M233 12V14M233 28V32M233 34V38M233 46V50M233 62V64M233 92V94M233 146V148M235 12V18M235 34V38M235 92V94M235 162V164M235 196V198M237 34V36M237 72V74M237 92V94M237 96V98M239 18V20M239 72V74M239 98V100M241 50V52M241 82V84M241 152V154M241 164V166M243 44V46M243 50V52M243 64V66M243 74V76M243 80V84M245 6V10M245 44V46M245 56V60M245 74V76M245 80V82M245 84V88M245 128V130M245 150V152M245 156V158M245 226V230M247 44V46M247 80V82M247 84V88M249 4V6M249 66V68M249 76V78M249 80V82M249 84V86M249 92V94M249 132V136M251 4V6M251 68V72M251 76V78M251 80V86M253 4V6M253 20V22M253 68V72M253 76V86M255 20V22M255 38V40M255 70V72M255 74V76M255 78V84M255 138V140M255 210V212M257 2V4M257 10V12M257 20V22M257 38V40M257 70V72M257 74V76M257 80V82M257 94V96M257 138V140M259 48V50M259 74V76M259 80V82M259 142V144M259 152V154M261 14V16M261 20V22M261 80V82M261 90V92M261 232V234M263 20V22M263 56V58M263 80V82M263 90V92M263 94V96M263 110V114M265 20V22M265 52V54M265 56V58M265 82V84M265 90V92M265 98V100M265 114V116M265 138V140M265 142V146M265 218V220M265 224V228M267 46V50M267 76V78M267 90V92M267 178V180M267 186V188M267 234V236M267 240V242M269 18V20M269 56V60M269 72V74M269 82V84M269 126V130M269 184V186M269 208V210M269 220V222M271 56V60M271 72V74M271 82V84M271 152V154M271 166V168M271 226V228M271 236V240M273 40V42M273 58V60M273 72V74M273 194V196M273 236V240M275 68V70M275 72V74M275 130V132M275 226V228M277 38V40M277 72V74M277 122V124M277 126V128M277 216V218M277 234V240M279 30V32M279 54V56M279 194V196M279 232V234M281 64V66M281 94V96M281 104V106M281 130V132M281 176V178M281 220V222M281 240V242M283 6V10M283 32V34M283 76V78M283 158V160M283 162V164M285 4V6M285 10V12M285 48V50M285 52V54M285 74V76M285 94V96M285 100V102M285 118V120M285 178V180M287 16V20M287 26V28M287 48V52M287 94V96M287 164V166M287 202V204M289 48V52M289 100V102M289 106V108M289 130V132M289 182V184M289 202V204M291 48V52M291 92V94M291 98V100M291 148V150M291 156V158M291 230V236M291 242V244M293 12V14M293 22V26M293 48V52M293 92V94M293 98V100M293 150V152M293 228V230M293 234V236M293 242V244M295 2V4M295 32V34M295 48V52M295 86V88M295 154V156M297 2V4M297 48V50M297 64V66M297 84V86M297 186V188M299 0V4M299 30V32M299 40V42M299 88V90M299 194V196M301 48V50M301 240V242M303 0V2M303 4V6M303 42V44M303 46V50M303 84V86M303 104V106M303 188V192M305 0V2M305 44V52M305 84V86M305 188V192M305 230V240M307 0V2M307 50V52M307 60V62M307 242V244M309 0V2M309 24V26M309 28V30M309 62V66M309 88V90M309 148V150M309 242V244M311 6V8M311 12V14M311 64V66M311 86V88M311 132V134M313 6V8M313 20V22M313 126V128M315 134V136M317 122V124M317 184V190M317 198V202M319 36V38M319 62V66M319 198V200M319 236V240"/>
<path stroke="#b20000" d="M1 20V30M1 38V40M1 84V92M1 126V128M1 144V146M1 150V168M1 206V212M1 214V224M1 226V238M3 28V32M3 38V40M3 60V62M3 66V90M3 126V128M3 144V146M3 154V178M3 206V210M3 238V242M5 0V2M5 20V22M5 66V68M5 178V180M7 34V36M7 66V68M7 182V186M9 6V8M9 18V20M9 110V112M11 12V14M13 4V6M13 122V126M15 62V64M15 120V122M19 10V12M19 176V178M21 22V24M21 86V88M21 98V100M21 132V134M21 156V158M21 204V206M23 8V10M23 92V94M23 132V134M23 196V198M25 24V26M25 30V32M25 34V36M25 200V202M27 26V28M27 196V198M27 200V202M29 26V28M31 208V210M31 214V218M33 218V222M33 226V232M35 218V220M35 222V224M35 226V228M39 190V192M41 180V184M43 158V160M43 212V214M43 218V220M45 168V170M47 206V208M47 210V212M49 242V244M51 154V156M51 238V244M53 150V152M53 188V192M57 140V142M57 200V202M61 180V182M61 204V206M61 210V212M61 214V216M63 156V158M63 234V236M65 206V208M65 216V220M65 226V236M67 228V232M69 204V208M69 210V214M69 218V220M71 112V114M71 154V156M71 216V218M73 58V60M73 178V180M73 196V198M75 60V62M75 194V196M75 202V204M77 56V58M77 196V198M77 200V202M79 56V58M79 180V182M79 196V198M79 200V202M81 56V58M81 134V136M81 200V202M83 186V188M85 58V60M85 198V200M87 60V62M87 214V216M89 202V204M91 152V154M93 124V128M93 132V134M93 210V212M95 64V66M95 120V124M97 106V108M97 110V112M97 140V142M99 108V110M101 190V196M103 62V64M103 138V140M103 194V196M107 64V66M107 126V128M107 148V150M107 178V182M107 196V198M107 216V218M107 236V244M109 48V52M109 66V68M109 142V144M109 178V180M109 192V194M109 210V212M109 220V224M111 66V70M111 140V142M111 222V224M113 188V190M113 204V206M115 112V114M115 220V222M115 242V244M117 238V244M119 30V34M119 146V148M119 222V224M121 110V112M121 220V222M123 142V144M123 224V226M125 200V202M125 222V224M127 104V106M127 192V194M129 144V146M129 224V230M131 118V122M131 124V126M131 226V232M131 238V244M133 132V134M133 242V244M135 220V222M137 196V198M139 130V132M139 196V204M139 222V224M139 240V244M141 0V2M141 226V228M141 240V244M145 92V94M145 168V170M145 174V176M145 206V208M145 224V226M147 146V148M147 172V174M147 196V198M149 122V124M149 212V214M149 220V222M151 92V94M151 106V108M151 122V124M153 128V130M153 158V160M153 206V208M153 224V226M155 100V102M155 104V106M155 224V226M157 162V164M157 206V208M157 224V226M159 208V210M159 224V226M159 236V244M161 68V70M161 116V118M161 168V170M161 224V226M163 74V76M163 94V96M163 114V116M163 142V144M163 224V226M165 224V226M167 130V132M167 160V162M167 222V224M169 4V8M169 12V14M169 50V52M169 88V94M169 98V100M169 150V152M169 222V224M171 52V54M171 78V80M171 160V162M173 78V80M173 136V138M173 158V160M173 188V190M173 222V224M175 54V56M175 224V226M177 50V52M177 74V76M177 106V108M177 114V116M177 132V136M177 158V160M177 226V228M179 56V58M179 76V78M179 226V228M181 184V186M181 226V228M181 242V244M183 112V114M183 214V216M183 226V228M183 236V244M185 48V50M185 222V226M187 48V50M187 224V226M189 48V50M189 224V226M191 226V228M193 66V68M193 210V212M193 226V228M195 30V32M195 62V64M195 186V188M195 212V214M195 226V240M197 52V54M197 60V62M197 68V70M197 128V132M197 184V186M197 208V210M197 226V240M199 0V2M199 52V54M199 76V78M199 226V228M201 52V54M201 76V80M201 102V104M201 138V140M201 226V228M203 32V34M203 52V54M203 76V80M203 100V102M203 228V232M205 4V6M205 30V34M205 52V54M205 58V60M205 88V90M205 98V100M205 194V196M205 228V230M207 2V4M207 8V10M207 32V34M207 38V40M207 60V62M207 68V70M207 86V88M207 156V160M207 190V192M207 224V240M209 20V22M209 68V70M209 84V86M209 90V92M209 118V120M209 140V142M209 218V220M209 224V244M211 32V34M211 84V86M211 118V120M211 160V162M211 226V228M211 232V244M213 194V196M213 198V204M213 228V244M215 10V12M215 16V18M215 32V34M215 84V86M215 92V94M215 114V118M215 228V244M217 14V16M217 20V24M217 32V34M217 84V86M217 110V112M217 200V202M217 214V216M217 222V224M217 226V244M219 2V4M219 18V20M219 32V36M219 84V86M219 238V244M221 32V36M221 128V130M221 140V142M221 200V202M221 240V244M223 4V6M223 32V36M223 86V88M225 24V26M225 32V34M225 86V88M225 204V206M227 36V38M227 60V62M227 86V88M229 26V28M229 36V38M229 74V76M231 30V32M231 36V38M231 62V64M231 86V88M233 10V12M233 86V88M235 46V50M235 86V88M235 96V98M235 126V128M237 12V18M237 86V88M237 166V168M237 196V198M239 12V14M239 82V88M239 92V94M239 204V206M241 18V20M241 74V76M241 80V82M241 84V88M241 92V94M241 154V156M243 8V10M243 62V64M243 84V88M243 92V94M243 198V200M243 204V206M245 4V6M245 50V52M245 60V62M245 64V66M247 56V58M247 76V78M247 92V94M249 2V4M249 44V46M249 78V80M249 204V206M251 2V4M251 44V46M251 66V68M251 78V80M251 134V136M253 2V4M253 10V12M255 2V6M255 10V12M255 68V70M255 94V96M257 0V2M257 4V6M257 56V58M257 68V70M257 82V84M259 56V58M259 68V70M259 82V84M259 94V96M261 56V58M261 74V76M261 82V84M261 94V96M261 144V148M263 16V18M263 74V76M263 82V84M263 108V110M263 190V192M263 194V196M265 74V76M265 102V104M265 140V142M265 220V224M267 18V20M267 82V84M267 102V106M267 182V184M267 226V234M267 242V244M269 42V44M269 76V78M269 98V100M269 130V136M269 166V168M269 180V182M269 222V244M271 228V236M271 240V244M273 68V70M273 206V208M273 240V244M275 40V42M275 146V150M275 178V180M275 228V244M277 54V56M277 66V68M277 98V100M277 124V126M277 144V146M277 226V234M279 38V40M279 98V100M279 102V104M279 122V124M279 126V128M279 214V216M279 226V232M281 28V30M281 48V50M281 96V98M281 102V104M281 218V220M281 242V244M283 48V50M283 52V54M283 74V76M283 94V98M283 102V106M283 160V162M283 190V192M285 32V34M285 50V52M285 106V108M287 10V12M289 6V10M289 32V34M289 94V96M289 158V160M291 20V22M291 38V40M291 94V96M293 14V16M293 94V96M293 230V234M295 22V26M295 130V132M297 50V52M297 148V154M299 48V52M299 84V86M299 146V148M301 46V48M301 50V52M301 84V86M301 88V90M301 106V108M301 148V150M301 154V156M301 242V244M303 50V52M303 88V90M303 158V160M303 232V244M305 60V62M305 88V90M305 106V108M305 240V244M307 6V8M307 28V30M307 62V66M307 88V90M309 6V8M309 26V28M309 86V88M311 14V16M311 18V20M311 22V24M311 170V172M311 188V190M313 156V158M313 182V184M315 114V116M315 122V124M315 162V164M315 170V172M317 162V164"/>
<path stroke="#d30000" d="M1 30V32M1 52V54M1 62V64M1 168V176M1 188V206M1 224V226M1 238V244M3 20V28M3 186V206M3 242V244M5 102V104M5 180V182M7 2V4M7 8V10M7 62V64M9 4V6M9 64V66M9 114V116M9 122V126M11 4V6M11 14V16M11 18V20M11 112V114M11 122V126M13 16V20M15 122V126M17 62V64M17 120V122M19 4V10M19 110V114M19 118V120M19 140V144M19 182V184M21 0V2M21 72V74M21 84V86M23 10V12M23 76V78M23 80V82M23 134V136M23 206V208M27 32V34M29 204V206M31 26V28M33 210V212M33 222V226M35 196V200M35 224V226M37 174V176M41 176V180M49 196V198M49 202V204M51 168V170M51 194V196M51 208V210M53 38V40M53 152V154M53 178V180M55 38V40M55 118V120M55 160V162M57 38V40M57 136V138M57 146V148M57 196V198M59 148V150M61 150V152M61 178V180M61 186V188M61 206V208M63 204V210M65 148V150M65 188V190M65 208V210M67 148V150M69 150V152M69 214V218M71 114V116M71 172V174M73 60V62M75 56V58M77 180V182M77 192V194M77 218V220M79 134V136M79 192V194M81 192V194M85 102V104M85 116V118M89 138V140M89 192V194M89 206V208M91 62V64M91 134V136M91 210V212M93 62V64M95 62V64M97 62V64M97 68V70M99 62V64M99 102V108M99 180V182M101 62V64M101 70V72M101 80V82M101 196V198M103 70V72M103 80V82M103 178V182M103 192V194M105 80V82M105 160V162M107 80V82M107 158V160M107 210V212M109 64V66M109 108V110M109 144V146M109 180V182M109 218V220M113 66V70M113 122V124M113 222V224M115 80V82M117 52V56M117 98V100M117 220V222M119 18V22M119 34V36M119 44V46M119 80V82M121 80V82M123 80V82M123 222V224M125 80V82M127 218V220M129 190V192M129 220V222M131 222V226M133 80V82M133 136V138M133 220V222M137 94V96M137 208V210M139 120V122M141 122V124M141 140V142M141 200V202M141 224V226M143 92V94M143 98V100M143 224V226M145 146V148M145 178V180M145 184V186M145 190V192M145 222V224M147 216V220M149 86V88M151 84V88M151 154V156M151 222V224M153 84V88M153 92V94M153 222V224M155 84V88M155 204V206M155 222V224M157 110V114M159 130V132M159 222V224M161 26V28M161 100V102M161 138V140M161 222V224M163 162V164M163 222V224M165 140V142M165 154V156M165 222V224M167 78V80M167 96V98M167 128V130M167 156V158M167 218V222M169 18V20M169 24V26M169 56V58M169 80V82M169 218V222M171 150V152M171 222V224M173 54V56M173 150V152M173 160V162M175 50V52M175 78V80M175 134V136M175 222V224M177 156V158M177 180V182M177 224V226M179 224V226M181 58V60M181 124V126M181 224V226M183 48V50M183 110V112M183 120V122M183 142V144M183 164V166M183 176V178M183 210V212M183 224V226M185 106V108M187 44V48M187 102V104M187 114V116M187 140V142M187 196V198M187 212V216M187 222V224M189 102V106M191 42V44M191 64V66M191 104V106M191 196V198M191 224V226M193 114V116M193 160V162M193 224V226M195 28V30M195 60V62M195 68V70M195 196V198M195 208V210M195 224V226M197 0V2M197 28V30M197 76V78M197 200V204M197 212V214M197 224V226M199 28V30M199 40V42M199 78V80M199 132V134M199 188V190M199 224V226M201 32V34M201 198V200M201 224V226M203 6V8M203 96V98M203 202V204M203 226V228M205 78V80M205 86V88M205 226V228M207 30V32M207 58V60M207 84V86M207 98V100M209 18V20M209 96V98M211 58V62M211 222V226M213 96V98M213 112V114M213 204V206M213 226V228M215 0V2M215 34V36M215 96V98M215 226V228M217 18V20M217 34V36M217 108V110M217 196V198M217 216V218M217 224V226M219 12V14M221 2V4M221 36V38M221 84V86M223 36V38M223 60V62M223 98V100M223 142V144M223 204V206M225 6V8M225 36V38M225 60V62M227 70V72M227 148V150M229 8V10M229 128V130M231 28V30M231 100V102M231 142V144M231 198V200M233 98V100M233 202V204M235 10V12M235 72V74M235 84V86M237 10V12M237 46V48M237 82V86M237 94V96M237 126V128M237 158V160M239 10V12M239 74V76M239 80V82M239 152V154M241 8V14M241 102V104M243 4V8M243 10V12M243 18V20M243 150V152M243 166V168M245 2V4M245 10V12M245 76V80M245 92V94M245 198V200M247 50V52M247 78V80M249 10V12M249 56V58M251 10V12M251 56V58M251 132V134M253 44V46M253 56V58M253 136V138M255 0V2M255 44V46M255 56V58M257 44V46M257 136V138M261 44V46M261 68V70M263 68V70M263 96V98M263 104V108M263 130V132M263 208V210M265 18V20M265 58V60M265 68V70M265 100V102M265 116V118M265 146V148M265 210V212M267 60V62M267 68V70M267 100V102M267 184V186M267 224V226M269 52V56M269 68V70M269 154V156M269 182V184M271 54V56M271 68V70M271 76V78M271 98V100M271 138V140M273 146V148M273 178V180M273 196V198M275 54V56M275 120V122M277 116V118M277 208V210M277 224V226M279 48V50M279 64V66M279 104V106M279 124V126M279 212V214M279 222V226M281 30V32M281 38V40M281 74V78M281 172V174M283 28V30M283 50V52M285 6V8M285 120V122M285 162V168M287 4V6M287 32V34M289 38V40M291 26V28M291 104V106M291 130V132M293 4V6M293 20V22M293 32V34M293 148V150M295 12V14M295 156V158M297 22V26M297 40V42M297 46V48M297 86V88M297 100V102M297 138V140M299 4V6M299 46V48M299 64V66M299 196V198M299 200V202M301 42V44M301 64V66M301 198V200M303 44V46M303 60V62M303 64V66M303 106V108M303 138V140M305 6V8M305 24V26M305 64V66M305 86V88M305 128V130M307 24V26M307 86V88M309 12V14M309 22V24M309 140V142M311 16V18M311 20V22M311 146V148M311 178V180M315 158V160M315 186V190M319 160V162"/>
<path stroke="#f50000" d="M1 50V52M1 176V178M1 182V184M1 186V188M3 0V2M3 62V64M3 102V104M3 178V184M5 32V34M5 36V38M5 104V106M5 182V186M7 50V54M7 108V110M9 12V14M11 16V18M11 64V66M19 126V128M19 178V180M21 46V48M21 50V54M21 100V102M21 116V118M21 130V132M21 136V138M21 152V156M21 162V164M21 186V188M21 194V196M23 74V76M23 78V80M23 88V90M23 200V202M25 36V38M25 184V188M27 24V26M27 28V30M27 34V36M27 202V206M29 28V30M29 32V34M29 198V200M33 26V28M33 212V214M35 174V176M35 200V204M37 176V178M37 214V218M39 188V190M41 214V218M43 156V158M45 160V162M47 100V104M47 160V162M49 102V104M49 206V208M51 38V40M51 184V186M53 176V178M55 36V38M57 36V38M57 192V194M57 198V200M59 36V40M59 188V192M61 184V186M61 208V210M65 202V204M67 124V126M69 168V170M69 202V204M69 208V210M71 58V60M71 108V110M71 116V118M71 152V154M71 214V216M73 200V202M75 174V178M75 204V206M75 210V212M77 134V136M81 108V110M81 142V144M83 56V58M83 62V64M83 104V106M83 116V118M85 62V64M87 58V60M87 62V64M87 186V188M87 192V194M89 60V64M89 130V132M89 156V158M91 176V178M93 64V66M93 134V136M93 160V162M95 66V68M95 108V110M95 126V128M95 138V140M97 80V82M99 70V72M99 80V82M99 110V112M99 120V122M99 178V180M99 216V218M101 102V104M101 132V134M101 188V190M101 198V202M103 0V4M103 140V142M103 186V188M105 62V64M105 70V72M105 140V142M105 216V218M107 62V64M107 70V72M107 194V196M109 80V82M109 100V102M109 146V148M111 64V66M111 80V82M111 100V104M111 124V126M111 174V176M111 220V222M113 80V82M115 68V70M115 140V142M117 50V52M117 90V92M117 100V102M119 16V18M119 46V48M119 110V112M119 208V210M121 140V142M121 218V220M127 80V82M129 212V214M131 126V130M133 82V84M133 186V188M137 72V74M137 218V220M139 138V140M139 220V222M141 2V4M141 8V10M141 92V94M141 186V188M141 222V224M143 222V224M145 160V162M145 194V196M145 220V222M147 100V102M147 124V126M147 168V170M149 84V86M149 218V220M151 208V210M151 220V222M153 100V102M153 114V116M155 92V94M155 158V160M155 202V204M157 84V88M157 108V110M157 130V132M157 196V198M157 222V224M159 220V222M161 114V116M161 196V198M161 220V222M163 196V198M163 220V222M165 94V96M165 220V222M167 52V54M167 112V114M167 154V156M167 216V218M169 32V34M169 38V40M169 82V84M169 216V218M171 54V56M171 220V222M173 142V144M173 220V222M175 148V152M175 192V194M175 216V222M177 56V58M177 102V104M177 136V138M177 154V156M177 222V224M179 74V76M179 222V224M181 48V50M181 222V224M183 216V218M183 220V224M185 44V48M185 102V104M185 116V118M185 128V130M187 106V108M187 216V218M187 220V222M189 26V28M189 42V44M189 222V224M191 66V68M191 102V104M191 160V162M191 222V224M193 28V32M193 60V64M193 68V70M193 102V106M193 212V214M193 222V224M195 0V2M195 130V132M195 222V224M197 78V80M197 104V106M197 114V116M197 198V200M197 222V224M199 32V34M199 196V198M199 222V224M201 28V30M201 96V98M201 104V106M201 200V202M201 222V224M203 88V90M203 222V226M205 2V4M205 8V10M205 76V78M205 84V86M205 96V98M205 100V102M205 130V132M205 222V226M207 90V92M209 22V24M209 100V102M209 150V152M209 160V162M211 34V36M211 102V104M211 220V222M213 62V64M213 92V94M213 192V194M213 224V226M215 14V16M215 20V24M215 36V38M215 60V62M215 82V84M215 224V226M217 36V38M217 60V62M217 82V84M217 198V200M219 36V38M219 60V62M219 82V84M219 98V100M219 138V140M221 60V62M221 82V84M221 98V100M221 102V104M223 2V4M223 24V26M223 68V70M223 84V86M223 140V142M225 2V6M225 66V68M225 84V86M227 128V130M229 30V32M229 94V96M229 100V104M229 124V126M229 138V140M229 164V166M231 84V86M231 102V104M231 140V142M231 200V202M233 72V74M233 82V86M233 94V96M233 138V140M235 82V84M235 94V96M235 136V138M235 148V150M235 156V160M235 202V204M237 48V50M237 80V82M237 148V150M237 156V158M237 164V166M239 14V16M239 46V48M239 96V98M239 106V108M239 154V156M241 100V102M241 104V106M243 2V4M243 12V14M243 76V80M243 158V160M245 62V64M245 160V162M247 12V14M247 58V60M247 64V66M247 206V208M249 50V52M249 200V202M253 0V2M253 66V68M257 12V14M257 96V98M257 130V132M259 206V208M261 16V18M261 50V52M261 148V150M263 18V20M263 44V46M263 50V52M263 58V60M263 114V116M263 192V194M265 50V52M265 134V136M265 148V150M265 188V190M267 74V76M267 152V154M267 212V216M267 222V224M269 50V52M269 60V62M269 74V76M271 42V44M271 60V62M271 132V134M271 192V194M271 206V208M273 54V56M273 60V62M273 76V78M273 148V150M273 168V170M275 48V50M275 76V78M275 98V100M277 40V42M277 48V50M277 76V78M277 168V170M277 192V194M277 218V224M279 74V78M279 100V102M279 176V178M281 50V54M281 98V100M281 196V200M281 204V206M283 38V40M283 98V100M283 130V132M283 204V206M285 8V10M285 38V40M287 38V40M287 62V64M287 128V130M287 166V168M289 62V64M289 180V182M291 16V20M291 32V34M291 62V64M293 26V28M293 46V48M293 62V64M293 154V156M295 14V16M295 40V42M295 46V48M295 186V188M297 30V32M299 22V26M299 86V88M299 102V106M301 44V46M301 86V88M301 140V142M301 156V158M301 200V202M303 6V8M303 22V26M303 86V88M303 128V130M305 28V30M305 62V64M307 22V24M307 140V142M311 158V160M313 128V130M317 112V114M317 158V160M317 182V184"/>
<path stroke="#ff1700" d="M1 64V66M1 178V182M1 184V186M3 50V54M3 184V186M5 62V64M9 14V16M9 112V114M13 64V66M15 64V66M17 64V66M17 122V126M19 120V122M19 180V182M21 14V16M21 54V56M21 104V108M21 114V116M21 128V130M21 172V174M21 188V190M23 46V48M23 82V84M23 130V132M23 148V150M25 132V134M25 202V206M27 30V32M29 24V26M29 34V36M29 200V204M31 24V26M31 28V30M31 32V34M33 216V218M35 26V28M35 176V178M35 210V212M35 216V218M41 184V186M43 214V218M47 208V210M49 38V40M49 100V102M49 168V170M49 208V210M51 196V198M53 36V38M53 160V162M53 168V172M53 192V194M57 102V104M57 194V196M59 178V180M59 186V188M59 192V194M61 182V184M61 188V190M65 122V124M67 116V118M67 164V166M67 192V194M71 60V62M71 212V214M73 56V58M73 194V196M75 138V142M77 154V156M79 142V144M79 216V218M81 62V64M81 114V116M81 184V186M81 194V196M81 216V218M85 100V102M85 132V134M87 132V134M87 140V142M87 212V214M89 116V118M89 174V176M89 210V212M91 106V110M93 180V182M95 68V70M95 106V108M95 140V142M95 152V154M97 70V72M97 104V106M97 142V144M99 100V102M99 142V144M101 104V106M101 108V110M101 186V188M101 206V208M103 4V6M103 154V156M103 160V162M103 216V218M105 132V134M105 208V210M109 32V36M109 46V48M109 52V54M109 62V64M109 70V72M109 102V104M111 62V64M111 122V124M111 208V210M113 64V66M113 220V222M115 66V68M117 48V50M117 140V142M119 12V16M119 28V30M119 220V222M121 208V210M121 216V218M123 112V114M123 200V202M123 220V222M125 202V204M125 220V222M127 210V212M127 216V218M129 80V82M129 218V220M131 138V140M131 220V222M133 92V98M133 218V220M135 210V212M135 218V220M137 124V126M137 186V188M137 210V212M139 98V100M139 122V124M139 204V206M139 218V220M141 6V8M141 10V12M141 98V100M141 220V222M143 142V144M143 204V206M143 220V222M145 208V212M147 126V128M149 98V100M149 106V108M149 128V130M149 150V152M149 214V216M153 220V222M155 114V116M155 220V222M157 166V168M157 220V222M159 84V88M159 218V220M161 198V200M161 204V206M161 218V220M163 40V42M163 54V56M163 218V220M165 52V56M165 78V80M165 218V220M167 54V56M167 98V100M169 8V10M169 22V24M169 26V28M169 34V38M169 142V144M169 162V164M169 214V216M171 72V74M171 218V220M173 50V52M173 72V74M173 114V116M173 218V220M175 128V130M175 138V140M175 164V166M175 182V184M175 214V216M177 78V80M177 166V168M177 178V180M177 212V222M179 48V50M179 58V60M179 162V166M179 220V222M181 76V78M181 148V150M181 220V222M183 46V48M183 198V200M183 218V220M185 118V120M185 138V140M187 24V26M187 210V212M187 218V220M189 220V222M191 24V26M191 68V70M191 156V158M191 220V222M193 0V2M193 220V222M195 76V78M195 126V128M195 220V222M197 32V34M197 40V42M197 102V104M197 186V188M197 220V222M199 100V104M199 220V222M201 134V136M201 220V222M203 2V6M203 84V88M203 102V104M203 220V222M205 38V40M205 90V92M205 220V222M207 34V36M207 76V80M207 96V98M207 216V218M209 28V30M211 16V18M211 36V38M211 62V64M211 148V150M211 206V208M211 218V220M213 82V84M213 108V110M213 116V118M213 220V224M215 18V20M215 94V96M215 104V108M215 130V132M215 220V224M217 0V2M217 12V14M217 96V98M217 120V122M219 102V104M219 130V132M219 146V148M221 144V146M223 82V84M223 126V128M225 70V72M225 82V84M225 98V100M227 2V4M227 26V28M227 64V66M227 82V86M229 2V4M231 82V84M231 144V146M233 0V2M233 96V98M233 104V106M235 0V2M235 80V82M235 160V162M237 74V76M237 106V108M237 162V164M237 202V204M239 8V10M239 16V18M239 48V50M239 78V80M241 2V8M241 46V48M241 76V80M241 204V206M245 18V20M247 60V62M247 128V130M251 0V2M251 50V52M253 50V52M253 94V96M253 208V210M255 50V52M255 66V68M255 136V138M255 196V198M255 208V210M257 50V52M257 98V100M257 132V136M259 96V98M261 142V144M261 152V154M265 44V46M267 188V190M267 216V222M269 48V50M269 102V104M269 136V138M271 48V54M271 74V76M271 178V180M273 48V52M273 98V100M273 198V200M275 50V52M275 60V62M275 66V68M275 116V118M275 128V130M275 192V194M275 206V208M277 50V52M277 60V62M277 64V66M277 74V76M277 148V150M279 50V52M279 170V172M279 196V198M279 216V222M281 46V48M281 100V102M281 124V126M281 128V130M283 30V32M283 46V48M283 62V64M283 122V124M285 28V30M285 46V48M285 62V64M287 46V48M287 178V180M289 28V30M289 46V48M291 46V48M291 100V102M291 106V108M293 40V42M293 104V106M293 202V204M295 20V22M295 62V64M295 100V102M295 202V204M297 4V6M297 12V14M299 42V44M299 178V180M299 198V200M301 60V62M303 28V30M303 130V132M305 22V24M305 140V142M305 178V180M307 12V14M307 26V28M309 14V16M309 18V22M311 150V152M311 160V162M313 132V134M313 184V186M313 190V192M315 10V12"/>
<path stroke="#ff3900" d="M1 0V2M1 102V104M1 122V124M3 36V38M3 64V66M5 8V10M5 50V54M5 106V108M7 10V12M7 18V20M7 118V122M9 16V18M19 122V124M21 102V104M21 170V172M21 174V176M21 184V186M23 98V100M25 90V92M29 30V32M31 34V36M33 24V26M33 32V34M33 214V216M35 212V216M37 26V28M43 172V174M45 100V102M45 154V156M47 38V40M51 36V38M53 174V176M53 180V182M55 138V140M57 118V120M57 122V124M57 142V144M57 190V192M59 120V122M59 180V182M59 200V202M61 36V40M61 202V204M63 48V50M63 118V120M63 202V204M65 172V174M65 190V192M67 196V198M69 158V160M73 208V210M75 178V180M75 206V210M77 62V64M77 142V144M77 202V204M79 62V64M79 202V204M83 216V218M85 140V142M85 216V218M87 196V198M87 204V206M89 208V210M91 60V62M91 64V66M93 118V120M93 150V152M95 80V82M95 124V126M95 146V148M99 118V120M99 126V128M99 182V184M101 78V80M101 100V102M101 142V144M101 216V218M103 132V134M103 188V192M103 208V210M105 152V154M107 150V154M107 212V216M109 216V218M111 70V72M111 218V220M113 62V64M113 82V84M115 64V66M115 82V84M115 202V204M115 218V220M117 56V60M117 92V94M117 112V114M117 206V208M117 218V220M119 48V50M119 82V84M119 218V220M121 82V84M123 144V146M123 218V220M125 218V220M129 214V218M131 140V142M131 210V212M131 218V220M135 96V98M135 134V136M135 170V172M135 216V218M137 70V72M137 98V100M137 190V192M137 212V214M137 216V218M139 92V94M139 188V190M139 194V196M141 4V6M141 202V204M141 218V220M143 178V180M143 218V220M145 98V100M145 148V150M145 158V160M145 176V178M145 212V214M145 218V220M149 216V218M151 218V220M153 104V106M153 200V202M153 218V220M155 102V104M155 218V220M157 92V94M157 106V108M157 164V166M157 218V220M159 194V196M159 210V212M159 216V218M161 24V26M161 206V208M161 216V218M163 52V54M163 216V218M165 112V114M165 162V164M165 216V218M167 72V74M167 142V144M167 214V216M169 10V12M169 30V32M169 58V60M169 112V114M169 118V120M169 186V188M169 212V214M171 142V144M171 162V164M171 216V218M173 162V164M173 216V218M175 56V58M175 72V74M175 114V116M175 212V214M177 172V174M179 100V102M179 178V180M179 182V184M179 218V220M181 100V102M181 156V158M181 218V220M183 44V46M183 100V102M185 24V26M185 140V142M185 198V200M187 42V44M189 64V70M189 218V220M191 26V28M191 30V32M191 60V62M191 218V220M193 24V28M193 214V220M195 26V28M195 32V34M195 78V80M195 102V106M195 128V130M195 214V220M197 74V76M197 106V108M197 214V220M199 70V72M199 74V76M199 98V100M199 200V202M199 218V220M201 6V8M201 70V72M201 74V76M201 84V86M201 88V90M201 202V204M201 218V220M203 8V10M203 28V30M203 70V72M203 90V92M203 218V220M205 34V36M205 70V72M205 218V220M207 70V72M207 100V102M209 70V72M209 82V84M209 196V198M209 216V218M211 10V12M211 14V16M211 30V32M211 68V70M211 82V84M211 110V112M213 94V96M213 128V130M213 138V140M213 218V220M215 218V220M217 104V106M219 0V2M221 122V124M227 0V2M227 4V8M227 30V32M227 194V196M229 0V2M229 28V30M229 148V150M231 72V74M231 94V96M233 2V4M233 8V10M233 160V162M233 198V200M235 74V76M235 134V136M237 0V4M237 8V10M237 78V80M237 160V162M239 0V6M239 76V78M239 94V96M241 0V2M241 48V50M241 98V100M241 106V108M241 198V200M243 156V158M245 0V2M245 12V14M245 166V168M249 0V2M249 58V60M249 64V66M249 130V132M249 202V204M251 200V202M253 134V136M255 12V14M255 96V100M257 66V68M257 198V200M259 200V202M261 18V20M261 58V60M261 96V98M261 150V152M261 200V202M261 206V208M263 196V198M265 60V62M267 106V108M267 210V212M269 100V102M269 104V106M269 120V122M271 102V104M271 168V170M271 194V196M273 42V44M273 52V54M273 74V76M273 132V134M275 74V76M275 102V104M275 168V170M277 46V48M277 52V54M277 102V104M279 40V42M279 46V48M279 52V54M279 60V62M279 116V118M279 210V212M281 60V64M281 174V176M281 200V202M283 100V102M285 60V62M285 184V186M285 202V204M287 6V10M287 60V62M287 108V110M287 118V120M289 60V62M289 184V186M291 60V62M291 102V104M293 10V12M293 16V20M293 60V62M293 106V108M295 4V6M295 26V28M295 30V32M295 60V62M297 14V16M297 20V22M297 60V64M297 188V190M299 44V46M299 60V62M299 106V108M303 62V64M303 136V138M303 164V166M305 26V28M305 158V160M309 170V172M311 10V12M313 10V12M313 130V132M313 162V164M315 8V10M315 180V182M317 110V112M317 132V134M319 8V12"/>
<path stroke="#ff5a00" d="M1 18V20M1 36V38M1 120V122M1 124V126M3 32V34M3 104V106M5 2V4M5 34V36M7 6V8M7 64V66M7 116V118M7 124V126M19 124V126M21 48V50M21 56V58M21 68V72M21 138V140M21 164V170M21 190V192M23 50V52M23 94V98M23 100V102M23 128V130M23 150V152M23 184V188M23 202V206M25 38V40M25 194V196M27 184V186M29 130V134M31 30V32M31 206V208M33 28V30M33 208V210M35 24V26M35 28V30M35 204V206M37 192V194M41 174V176M45 98V100M45 120V122M47 150V154M49 150V154M53 40V42M53 120V122M53 186V188M53 200V202M55 40V42M55 122V124M55 136V138M59 48V50M61 48V50M63 36V38M63 186V188M65 48V50M65 158V160M69 60V62M69 200V202M71 124V126M71 192V194M71 210V212M73 120V124M75 62V64M77 194V196M77 216V218M79 112V114M79 214V216M85 56V58M85 186V188M87 156V158M87 202V204M89 106V110M91 116V118M93 60V62M93 66V68M93 80V82M93 182V184M95 142V144M97 78V80M97 102V104M97 112V114M99 78V80M99 122V124M99 208V210M99 214V216M101 106V108M101 156V160M103 6V8M103 78V80M103 184V186M103 214V216M105 78V80M105 214V216M107 192V194M109 30V32M109 212V216M111 82V84M111 186V188M111 216V218M113 70V72M113 172V174M113 218V220M115 62V64M115 70V72M115 192V194M117 96V98M117 216V218M119 22V24M119 36V38M119 216V218M121 108V110M121 214V216M123 78V80M123 82V84M123 216V218M125 78V80M125 82V84M125 112V114M125 216V218M127 190V192M127 212V216M131 80V82M131 216V218M133 90V92M133 130V132M133 138V140M133 210V212M133 216V218M135 124V126M135 132V134M135 136V138M135 212V216M137 194V196M137 214V216M139 216V218M145 86V88M145 156V158M145 162V164M145 214V218M147 148V150M149 90V92M151 90V92M151 126V128M151 156V158M151 216V218M153 160V162M153 208V210M153 216V218M155 216V218M157 100V102M157 168V170M157 214V218M159 54V56M159 74V76M159 212V216M161 200V204M161 214V216M163 78V80M163 198V200M163 214V216M165 72V74M165 214V216M167 212V214M169 20V22M169 28V30M169 40V42M169 188V190M169 210V212M171 50V52M171 116V118M171 186V188M171 214V216M173 96V98M173 134V136M173 138V140M173 184V186M173 214V216M175 142V144M177 58V60M177 72V74M177 108V110M177 170V172M179 78V80M179 86V88M179 96V100M179 180V182M179 214V218M181 46V48M181 74V76M181 86V88M181 216V218M183 24V26M183 86V88M183 174V176M187 68V70M189 20V22M189 60V62M189 196V198M189 216V218M191 0V2M191 28V30M191 62V64M191 210V218M193 76V78M193 100V102M193 156V158M193 196V198M193 208V210M195 24V26M195 40V42M195 74V76M195 132V134M195 198V202M197 26V28M197 70V72M197 204V208M199 104V106M199 198V200M199 202V204M199 216V218M201 2V4M201 80V82M201 86V88M201 90V92M201 116V118M201 216V218M203 34V36M203 38V40M203 80V82M203 216V218M205 14V16M205 82V84M205 118V120M205 216V218M207 14V16M207 36V38M207 82V84M209 78V80M209 92V96M211 64V68M211 216V218M213 102V104M213 114V116M213 150V152M213 206V208M215 12V14M215 216V218M217 94V96M217 112V114M221 0V2M221 24V26M221 68V70M223 0V2M223 66V68M223 70V72M223 94V96M225 0V2M225 94V96M225 126V128M225 146V148M225 202V204M227 62V64M227 104V106M227 122V124M227 188V190M229 4V6M231 80V82M231 126V130M233 80V82M233 126V132M233 148V150M233 156V160M235 2V4M235 8V10M235 78V80M235 124V126M237 76V78M237 150V152M239 6V8M239 108V110M241 14V18M241 108V110M243 0V2M243 46V48M243 160V162M243 164V166M245 126V128M245 162V164M245 204V206M247 18V20M247 62V64M249 104V106M251 94V96M251 204V206M253 132V134M255 100V102M257 100V106M257 206V208M259 66V68M259 98V100M263 98V100M263 102V104M265 48V50M265 118V120M265 208V210M267 62V64M267 174V176M269 44V48M269 118V120M269 124V126M269 168V170M271 46V48M271 100V102M271 104V106M273 46V48M273 66V68M273 102V106M275 46V48M275 52V54M275 64V66M277 100V102M277 146V148M279 62V64M279 198V200M281 40V42M281 126V128M283 60V62M285 30V32M285 116V118M287 28V30M287 120V122M289 30V32M291 40V42M291 158V160M293 6V8M293 100V102M295 104V108M297 26V28M297 42V46M297 104V106M297 200V202M299 6V8M299 12V14M299 20V22M299 28V30M299 62V64M299 140V142M301 62V64M303 26V28M303 132V136M303 162V164M305 12V14M305 130V132M307 20V22M307 168V170M309 10V12M309 16V18M309 110V112M309 138V140M311 8V10M313 8V10M315 108V110M319 180V182"/>
<path stroke="#ff7c00" d="M3 2V4M3 8V10M3 18V20M3 106V108M3 120V126M5 18V20M5 64V66M5 120V122M7 110V112M7 122V124M21 2V4M21 12V14M21 108V110M21 122V124M21 126V128M21 144V146M21 176V178M21 192V194M23 52V54M23 114V116M23 136V138M23 158V162M25 92V94M25 134V136M25 188V190M27 36V38M27 132V134M29 184V186M29 196V198M31 130V132M33 30V32M33 34V36M33 184V186M35 32V34M35 208V210M37 24V26M37 28V30M37 178V180M39 26V28M39 176V178M43 98V102M43 120V122M45 38V40M45 102V104M47 98V100M47 138V140M49 36V38M51 40V42M53 148V150M53 172V174M53 194V198M57 40V42M57 48V50M59 194V200M61 50V52M61 120V122M61 158V160M61 176V178M63 38V40M63 50V52M63 122V124M63 188V190M65 50V52M65 116V118M67 48V52M67 160V162M69 58V60M69 116V118M69 166V168M71 56V58M71 156V158M73 62V64M73 202V208M77 214V216M79 154V156M79 194V196M81 80V82M81 202V204M81 214V216M83 80V82M83 102V104M83 200V202M83 214V216M85 118V120M85 214V216M87 194V196M87 198V200M87 210V212M89 58V60M89 80V82M89 110V112M89 124V126M89 154V156M89 194V198M89 200V202M91 80V82M91 104V106M91 110V112M93 68V70M93 106V108M93 178V180M95 60V62M95 70V72M95 78V80M95 118V120M95 144V146M95 184V186M97 144V146M97 184V186M99 212V214M101 72V74M101 110V112M101 214V216M103 60V62M103 100V104M105 212V214M107 78V80M107 100V102M107 124V126M107 186V188M109 54V56M109 60V62M109 78V80M109 82V84M109 190V192M111 98V100M111 104V108M111 214V216M113 108V110M113 216V218M115 110V112M115 216V218M117 46V48M117 214V216M119 4V6M119 10V12M119 62V72M119 78V80M119 148V150M119 154V156M119 210V216M121 62V64M121 78V80M121 142V146M121 154V156M121 210V214M123 214V216M125 186V188M125 214V216M127 78V80M127 82V84M127 148V150M131 142V144M131 212V216M133 72V74M133 78V80M133 84V86M133 212V216M137 92V94M137 162V164M137 170V172M139 214V216M141 216V218M143 144V146M143 168V170M143 174V176M143 214V218M145 84V86M145 90V92M145 150V152M145 154V156M147 82V84M147 104V106M149 88V90M149 170V172M151 88V90M151 124V126M151 210V216M153 88V92M153 212V216M155 206V208M155 212V216M157 208V210M157 212V214M159 52V54M159 92V94M159 100V102M159 170V172M161 16V18M161 112V114M161 140V142M161 208V214M163 72V74M163 84V86M163 100V102M163 140V142M163 212V214M165 152V154M165 212V214M167 94V96M169 48V50M169 120V124M169 208V210M171 114V116M171 122V124M171 188V190M171 212V214M173 56V58M173 128V130M173 212V214M175 96V98M175 210V212M177 48V50M177 86V88M177 96V100M177 174V178M177 192V194M177 210V212M179 72V74M179 84V86M179 172V174M179 176V178M179 192V194M179 212V214M181 24V26M181 84V86M181 146V148M181 198V200M181 214V216M183 76V78M183 84V86M183 172V174M183 208V210M185 42V44M185 70V72M185 86V88M185 120V122M187 26V28M187 60V62M187 64V68M187 70V72M189 18V20M189 28V30M189 70V72M189 100V102M189 106V108M189 212V216M191 70V76M191 100V102M191 106V108M193 32V34M193 70V76M193 78V80M195 70V74M195 100V102M195 202V204M197 72V74M197 100V102M197 132V134M199 72V74M199 80V82M199 84V92M199 208V216M201 4V6M201 8V10M201 14V16M201 34V36M201 72V74M201 82V84M201 214V216M203 14V16M203 74V76M203 82V84M203 94V96M203 104V106M203 214V216M205 80V82M205 102V104M205 196V198M207 16V18M207 128V130M207 214V216M209 76V78M209 214V216M211 108V110M211 214V216M213 64V70M213 216V218M215 30V32M215 204V206M215 214V216M217 106V108M217 132V134M217 190V192M221 70V72M221 94V96M221 162V164M223 128V130M223 196V198M223 202V204M225 30V32M225 162V164M227 80V82M229 6V8M231 78V80M231 98V100M233 74V80M233 200V202M235 76V78M235 106V108M235 150V152M235 154V156M235 198V200M237 4V6M241 94V96M243 48V50M243 102V104M243 162V164M245 46V48M245 152V156M247 198V200M249 12V14M249 102V104M251 12V14M251 58V60M251 64V66M251 130V132M253 12V14M255 102V104M257 14V16M257 18V20M259 58V60M259 104V106M261 66V68M263 46V50M263 60V62M263 66V68M263 128V130M265 46V48M267 176V178M267 208V210M269 62V64M269 178V180M269 206V208M271 62V64M271 66V68M271 140V142M271 196V198M273 62V64M275 42V44M275 62V64M275 100V102M275 104V106M277 62V64M277 194V196M277 206V208M279 208V210M281 114V116M281 202V204M283 40V42M283 170V172M285 128V130M285 168V170M285 186V188M287 184V186M289 40V42M289 186V190M291 28V30M293 28V32M293 156V158M295 16V20M295 28V30M295 158V160M297 6V8M297 28V30M297 102V104M297 106V108M297 136V138M297 154V156M299 26V28M303 12V14M303 20V22M305 20V22M305 126V128M307 14V16M307 18V20M309 8V10M309 114V116M309 136V138M309 176V178M311 148V150M313 170V172M313 180V182M315 160V162M317 160V162"/>
<path stroke="#ff9d00" d="M1 8V10M1 32V34M1 104V106M3 34V36M5 108V110M5 122V126M7 4V6M21 16V18M21 112V114M21 118V122M21 124V126M23 48V50M23 84V88M23 102V106M23 116V118M23 146V148M23 156V158M25 40V42M25 182V184M27 156V160M27 186V188M29 174V176M31 132V134M31 184V186M33 182V184M35 30V32M35 206V208M37 32V34M37 180V182M39 28V30M39 174V176M39 186V188M43 118V120M47 36V38M47 148V150M49 40V42M49 98V100M49 198V200M51 160V162M51 198V202M53 118V120M53 198V200M55 34V36M57 34V36M57 100V102M57 160V162M59 40V42M59 50V52M59 176V178M59 184V186M61 190V192M63 180V182M63 184V186M65 36V40M65 200V202M67 60V62M67 114V116M67 140V142M67 162V164M67 194V196M69 48V50M69 110V112M71 62V64M71 198V200M71 208V210M73 172V174M75 136V138M77 204V206M77 212V214M79 80V82M79 110V112M79 212V214M81 106V108M81 182V184M81 212V214M83 118V120M83 142V144M83 212V214M85 80V82M85 200V202M85 212V214M87 80V82M87 108V112M87 206V208M89 64V66M89 112V116M89 128V130M89 198V200M91 78V80M93 78V80M93 108V110M95 104V106M95 110V112M95 148V150M97 60V62M97 116V118M97 146V148M97 178V180M99 72V74M99 98V100M99 144V146M99 210V212M101 130V132M101 178V180M101 212V214M103 72V74M103 182V184M103 210V214M105 82V84M105 100V102M105 142V144M105 210V212M107 82V84M107 182V186M109 36V38M109 98V100M109 104V106M109 176V178M111 78V80M111 142V144M111 210V214M113 78V80M113 214V216M115 78V80M115 176V178M115 214V216M117 94V96M117 192V194M117 212V214M119 42V44M119 50V52M119 192V194M121 64V66M121 70V72M123 62V66M123 70V72M123 180V182M123 212V214M125 62V64M125 72V74M127 62V64M127 72V74M129 62V64M129 72V74M129 78V80M129 82V84M129 146V148M129 188V190M131 62V64M131 72V74M135 72V74M135 94V96M135 138V140M137 62V64M137 80V82M137 102V104M137 160V162M139 190V192M139 206V208M139 212V214M141 128V130M141 142V144M141 212V216M143 90V92M143 212V214M145 152V154M145 166V168M145 192V194M147 160V162M149 152V154M149 194V196M151 100V102M151 158V160M151 194V196M153 102V104M153 210V212M155 88V92M155 210V212M157 52V56M157 104V106M157 114V116M157 210V212M159 76V78M161 22V24M161 102V104M163 86V88M163 164V166M163 210V212M165 100V102M165 210V212M167 140V142M167 210V212M169 60V62M169 70V72M169 108V110M171 56V58M171 210V212M173 98V100M173 210V212M175 58V60M175 132V134M177 84V86M177 100V102M177 112V114M177 168V170M179 14V16M179 46V48M179 174V176M179 210V212M181 14V16M181 44V46M181 72V74M181 78V80M181 96V100M181 210V214M183 14V16M183 70V76M183 98V100M185 22V24M185 60V62M185 66V70M185 72V74M185 84V86M185 206V208M187 22V24M187 72V74M187 84V88M187 100V102M189 30V32M189 62V64M189 72V76M189 210V212M191 22V24M191 76V78M193 22V24M193 40V42M195 84V86M195 206V208M197 24V26M197 80V82M197 84V92M197 108V110M199 2V4M199 6V8M199 14V16M199 26V28M199 34V36M199 82V84M199 96V98M199 184V186M201 38V40M201 94V96M201 106V108M201 136V138M201 212V214M203 16V18M203 72V74M203 134V136M203 138V140M203 204V206M203 212V214M205 16V18M205 28V30M205 36V38M205 74V76M205 94V96M205 214V216M207 10V12M207 80V82M207 92V96M207 118V120M207 212V214M209 80V82M209 212V214M211 20V22M211 70V72M211 78V80M211 116V118M211 212V214M213 28V30M213 214V216M215 160V162M215 190V192M215 196V198M215 202V204M215 206V208M215 212V214M217 30V32M217 194V196M219 30V32M219 80V82M219 94V96M219 120V122M219 162V164M221 30V32M221 80V82M221 146V148M223 30V32M223 80V82M223 144V146M223 190V192M225 26V28M225 62V66M225 80V82M225 104V106M225 138V140M227 28V30M227 72V74M227 78V80M227 94V96M227 98V100M229 130V132M229 150V154M231 74V78M231 96V98M231 146V148M231 162V164M233 4V6M235 4V6M235 152V154M237 6V8M237 124V126M237 154V156M241 96V98M243 14V16M243 98V102M243 104V106M243 202V204M245 48V50M245 164V166M247 46V48M247 104V106M247 118V120M249 18V20M249 60V62M249 106V108M251 18V20M251 202V204M253 58V60M253 206V208M255 18V20M255 58V60M255 104V106M255 134V136M257 58V60M257 128V130M259 100V104M259 140V142M259 204V206M261 46V50M261 98V100M263 100V102M263 116V118M263 206V208M265 62V64M265 66V68M267 66V68M269 66V68M269 190V192M271 44V46M271 130V132M271 150V152M273 64V66M273 100V102M273 200V202M273 204V206M275 126V128M275 194V196M281 106V108M283 106V108M283 114V116M285 40V42M287 30V32M287 40V42M287 200V202M289 160V162M289 190V192M289 200V202M291 30V32M291 200V202M293 8V10M295 6V8M295 10V12M295 42V46M295 102V104M295 188V190M297 190V192M299 14V16M303 160V162M305 8V10M305 164V166M307 8V12M309 116V118M311 176V178M317 124V126"/>
<path stroke="#ffbf00" d="M1 2V4M1 106V112M3 108V110M5 10V12M21 110V112M21 140V142M23 72V74M23 106V108M23 122V124M23 126V128M23 174V176M25 74V78M25 130V132M29 36V38M29 122V124M31 204V206M33 206V208M35 34V36M35 172V174M35 178V184M37 30V32M37 34V36M37 172V174M37 182V184M39 24V26M39 32V34M39 178V184M41 26V28M45 96V98M45 130V132M47 40V42M47 104V106M49 104V106M49 148V150M49 160V162M49 200V202M51 150V154M53 34V36M55 48V50M55 102V104M55 116V118M55 146V148M55 168V170M55 200V202M57 50V52M57 104V106M57 144V146M57 188V190M59 34V36M59 102V104M59 182V184M63 178V180M63 182V184M63 190V192M65 60V62M65 114V116M65 192V194M67 58V60M67 112V114M69 50V52M69 62V64M69 112V116M69 192V194M69 198V200M71 200V208M75 54V56M75 122V124M77 80V82M77 112V114M77 156V158M77 208V212M79 114V116M79 204V206M79 210V212M81 78V80M81 210V212M83 78V80M83 100V102M83 210V212M85 78V80M85 98V100M85 210V212M87 56V58M87 78V80M87 106V108M87 112V114M87 180V182M87 200V202M87 208V210M89 78V80M89 104V106M89 172V174M91 66V68M93 104V106M93 136V138M95 150V152M97 82V84M97 100V102M97 180V182M99 60V62M99 82V84M99 112V114M99 124V126M101 60V62M101 82V84M101 98V100M101 128V130M101 180V182M101 184V186M101 208V212M103 82V84M103 142V144M105 60V62M105 72V74M105 102V104M107 60V62M107 102V104M107 110V112M107 118V120M107 188V192M109 28V30M109 44V46M109 106V108M109 148V150M109 188V190M111 60V62M111 182V184M113 50V52M113 100V102M113 142V144M113 186V188M113 206V208M113 210V214M115 52V54M115 174V176M115 212V214M117 44V46M117 102V104M117 142V146M117 208V212M119 2V4M119 52V54M119 152V154M121 66V70M121 72V74M121 106V108M123 72V74M123 184V186M123 202V204M123 210V212M125 64V66M125 70V72M125 204V206M125 210V214M127 70V72M131 46V48M131 82V84M133 46V48M133 62V64M133 86V90M133 102V104M133 140V142M135 130V132M135 162V164M135 184V186M137 82V84M139 72V74M139 102V104M139 210V212M141 12V14M141 90V92M141 124V126M141 204V206M141 210V212M143 36V38M143 84V88M143 102V104M143 206V208M143 210V212M145 36V38M145 164V166M147 36V38M147 162V164M147 166V168M147 174V176M149 36V38M149 168V170M151 36V38M151 104V106M151 160V162M153 36V38M155 52V54M155 160V162M155 200V202M155 208V210M157 74V76M157 88V90M159 112V114M161 104V106M163 56V58M163 112V114M163 166V168M163 194V196M163 206V210M165 56V58M165 84V86M165 148V150M165 164V168M165 208V210M167 50V52M167 56V58M167 152V154M167 162V164M167 208V210M169 100V102M169 106V108M169 110V112M169 184V186M169 206V208M171 120V122M171 124V126M171 164V166M171 208V210M173 164V166M173 190V192M173 208V210M175 48V50M175 84V88M175 98V100M175 104V106M175 180V182M175 194V196M175 208V210M177 14V16M177 208V210M179 24V26M179 130V132M179 170V172M181 70V72M181 126V128M181 162V164M181 178V180M181 182V184M183 22V24M183 42V44M183 60V62M183 68V70M183 96V98M185 14V16M185 26V28M185 64V66M185 74V78M185 100V102M185 108V110M185 114V116M185 126V128M187 0V2M187 14V16M187 74V78M187 108V110M187 208V210M189 76V78M189 84V88M191 32V34M191 40V42M191 78V80M191 84V88M191 208V210M193 84V88M193 90V92M193 98V100M193 106V108M195 22V24M195 80V82M195 86V92M195 114V116M195 204V206M197 2V4M197 14V16M197 34V36M197 82V84M199 8V10M199 186V188M199 204V208M201 16V18M201 92V94M201 204V206M201 208V212M203 36V38M203 92V94M203 210V212M205 10V12M205 72V74M205 92V94M205 210V214M207 74V76M207 192V194M207 210V212M209 128V130M209 210V212M211 12V14M211 18V20M211 22V24M211 76V78M211 80V82M211 112V114M211 208V212M213 24V26M213 70V72M213 80V82M213 208V214M215 62V64M215 68V72M215 80V82M215 136V138M215 198V200M215 208V212M217 70V72M217 80V82M217 136V138M219 24V26M219 68V72M223 96V98M223 104V106M223 124V126M223 162V164M225 72V74M225 78V80M225 124V126M227 76V78M229 98V100M233 6V8M233 150V152M233 154V156M235 6V8M235 200V202M237 108V110M237 152V154M243 16V18M243 94V96M243 128V130M243 152V154M243 200V202M247 48V50M247 102V104M247 106V108M247 120V122M247 204V206M249 46V48M249 62V64M249 94V96M249 108V110M253 18V20M253 64V66M253 96V98M253 130V132M253 198V200M255 132V134M255 206V208M257 46V50M257 204V206M259 106V114M259 130V132M259 202V204M261 60V62M261 104V108M261 130V138M261 202V206M265 132V134M265 206V208M267 206V208M269 152V154M269 170V172M271 64V66M271 118V120M271 142V144M271 204V206M273 44V46M273 170V172M275 196V200M275 204V206M277 42V44M277 104V106M277 196V200M279 206V208M283 176V178M293 42V46M293 102V104M297 10V12M297 18V20M297 178V180M297 192V194M299 148V150M301 158V160M303 8V10M303 14V16M303 126V128M305 10V12M305 14V16M305 18V20M307 16V18M309 134V136M313 158V160M313 186V188"/>
<path stroke="#ffe000" d="M1 10V12M1 34V36M3 10V12M3 110V112M5 6V8M5 110V112M5 118V120M7 12V14M7 112V116M21 4V6M21 20V22M21 66V68M21 142V144M21 178V180M21 182V184M23 124V126M23 152V156M23 172V174M23 176V178M23 182V184M23 188V190M23 194V196M25 22V24M25 42V44M25 80V84M25 88V90M25 98V102M25 156V160M25 190V194M27 130V132M27 154V156M27 160V162M27 182V184M27 194V196M29 100V102M29 120V122M29 128V130M29 172V174M29 176V178M29 182V184M29 186V188M31 174V176M31 182V184M33 100V102M33 174V176M33 186V188M35 184V186M35 194V196M37 186V192M39 30V32M39 34V36M41 28V30M41 32V34M43 38V40M43 96V98M43 102V104M45 36V38M45 118V120M45 122V124M47 140V142M49 34V36M49 72V74M51 34V36M51 120V122M53 48V50M53 182V184M55 50V52M55 140V142M57 46V48M59 46V48M59 118V120M61 34V36M61 40V42M61 46V48M63 200V202M65 110V114M65 170V172M65 198V200M67 36V40M67 62V64M67 110V112M67 138V140M69 56V58M69 126V128M71 48V52M71 54V56M71 106V108M71 150V152M73 54V56M73 118V120M73 152V156M75 80V82M75 120V122M75 154V156M77 54V56M77 78V80M77 110V112M77 114V116M77 152V154M77 206V208M79 54V56M79 78V80M79 206V210M81 82V84M81 144V146M81 180V182M81 208V210M83 82V84M83 208V210M85 82V84M85 208V210M87 64V66M87 82V84M87 104V106M87 114V120M87 154V156M87 178V180M89 82V84M89 126V128M89 140V142M89 158V160M91 68V70M91 82V84M91 112V114M91 136V138M91 160V162M93 70V72M93 82V84M95 82V84M95 102V104M95 160V162M95 178V180M97 72V74M97 76V78M99 76V78M99 146V148M99 156V158M101 74V78M101 144V146M103 8V10M103 76V78M103 98V100M103 104V106M103 108V110M103 130V132M105 98V100M105 130V132M105 176V178M107 72V74M107 98V100M107 112V114M111 48V52M111 144V146M113 48V50M113 52V54M113 60V62M113 208V210M115 48V52M115 54V56M115 60V62M115 84V86M115 142V144M115 178V180M115 204V206M115 208V212M117 2V6M117 110V112M117 146V148M119 72V74M119 84V86M119 108V110M119 150V152M121 84V86M121 104V106M121 146V148M121 152V154M123 110V112M123 146V148M123 208V210M125 44V46M125 106V108M125 148V150M125 208V210M127 44V48M127 64V66M127 150V152M127 188V190M129 44V48M129 64V66M129 70V72M131 44V46M131 70V72M131 78V80M133 70V72M133 98V100M133 118V120M135 46V48M135 62V64M135 70V72M135 80V82M135 92V94M135 98V100M135 102V104M135 140V142M135 168V170M135 172V174M137 60V62M137 74V76M137 84V86M137 180V182M137 184V186M137 192V194M139 36V38M139 70V72M139 124V126M139 128V130M139 208V210M141 36V38M141 70V74M141 102V104M141 208V210M143 72V74M143 100V102M143 176V178M143 208V210M145 88V90M145 104V106M147 150V152M147 158V160M147 164V166M149 154V156M149 160V162M153 126V128M153 198V200M155 30V32M155 36V38M155 54V56M155 128V130M157 30V32M157 38V40M157 90V92M159 30V32M159 38V40M159 50V52M159 56V58M159 72V74M159 88V90M159 114V116M161 14V16M161 18V20M161 106V108M161 194V196M163 50V52M163 92V94M163 200V202M163 204V206M165 50V52M165 86V88M165 206V208M167 84V86M167 110V112M167 206V208M169 62V66M169 164V166M169 204V206M171 84V86M171 96V98M171 118V120M171 184V186M171 206V208M173 58V60M173 84V88M173 206V208M175 14V18M175 106V108M175 130V132M175 206V208M177 16V18M177 24V26M177 46V48M177 110V112M177 152V154M177 206V208M179 16V18M179 44V46M179 70V72M179 88V90M179 94V96M179 160V162M179 208V210M181 16V18M181 22V24M181 60V62M181 88V90M181 94V96M181 164V166M181 180V182M181 206V210M183 26V28M183 66V68M183 78V80M183 88V90M183 94V96M183 122V124M183 170V172M183 200V202M183 206V208M185 0V2M185 88V90M185 92V94M187 28V32M187 40V42M187 62V64M187 88V90M187 92V94M187 98V100M187 206V208M189 40V42M189 78V80M189 88V94M189 98V100M189 208V210M191 88V94M191 112V114M191 158V160M191 198V200M191 206V208M193 80V82M193 88V90M193 92V94M193 158V160M193 206V208M195 2V4M195 14V16M195 34V36M195 82V84M195 92V94M195 98V100M195 106V108M197 22V24M197 92V94M197 98V100M197 110V112M199 4V6M199 16V18M199 24V26M199 38V40M199 92V96M199 106V108M201 10V14M201 26V28M201 36V38M201 206V208M203 10V14M203 206V210M205 12V14M205 104V106M205 208V210M207 12V14M207 28V30M207 72V74M207 102V104M207 208V210M209 24V26M209 72V74M209 102V104M209 208V210M211 104V106M211 128V130M213 78V80M215 132V134M215 200V202M217 62V64M217 68V70M217 118V120M217 146V148M219 96V98M221 66V68M221 78V80M221 96V98M223 62V64M223 72V74M223 78V80M223 198V200M225 76V78M225 96V98M225 128V130M227 74V76M227 110V112M227 150V152M227 162V164M229 96V98M229 154V156M231 124V126M231 130V132M233 124V126M233 152V154M237 198V200M239 128V130M239 202V204M241 110V112M243 96V98M245 14V16M245 94V96M245 102V104M245 200V202M247 108V110M247 116V118M249 48V50M249 100V102M249 110V112M251 46V50M251 60V62M251 102V104M253 46V50M253 98V102M253 204V206M255 14V16M255 46V50M255 64V66M255 130V132M255 204V206M257 16V18M257 106V108M257 200V204M259 60V62M261 108V112M261 140V142M263 62V64M263 202V206M265 204V206M267 64V66M267 108V110M267 204V206M269 64V66M269 122V124M269 204V206M271 128V130M271 170V172M271 198V200M273 202V204M275 44V46M275 200V204M277 44V46M277 176V178M277 204V206M279 42V44M279 172V176M279 200V202M279 204V206M283 192V194M283 202V204M285 122V124M285 176V178M285 188V190M285 200V202M287 44V46M287 116V118M287 168V170M287 186V188M289 44V46M291 42V46M293 128V130M293 158V160M295 8V10M295 164V166M297 8V10M297 16V18M297 134V136M297 156V158M299 8V12M299 18V20M299 150V154M301 178V180M303 10V12M303 18V20M305 162V164M307 108V110M307 138V140M309 112V114M309 128V130M313 188V190M315 124V126"/>
<path stroke="#ffff04" d="M1 6V8M3 6V8M3 118V120M5 4V6M7 16V18M21 58V60M21 180V182M23 54V56M23 108V110M23 112V114M23 120V122M23 138V140M23 162V164M23 178V180M25 44V46M25 50V54M25 78V80M25 160V162M25 174V178M27 38V40M27 50V52M27 90V94M27 100V102M27 134V136M27 150V154M27 174V176M29 50V52M29 116V118M31 36V38M31 50V52M31 100V102M31 176V178M31 202V204M33 176V178M33 180V182M33 204V206M35 156V158M35 186V188M37 116V118M37 184V186M39 184V186M41 24V26M41 30V32M41 34V36M41 120V122M43 26V30M43 32V38M45 34V36M45 40V42M45 72V74M45 132V134M45 166V168M47 34V36M47 72V76M47 96V98M47 120V122M47 136V138M49 74V76M51 42V44M51 72V76M51 118V120M53 42V44M53 50V52M53 184V186M55 42V44M55 46V48M55 100V102M55 198V200M57 42V44M61 192V194M61 200V202M63 26V28M63 34V36M63 40V42M63 46V48M63 52V54M63 60V62M63 116V118M63 148V150M63 176V178M63 192V194M65 46V48M65 52V54M65 58V60M65 168V170M67 46V48M67 52V54M67 142V144M69 36V40M69 52V56M69 108V110M69 164V166M71 52V54M71 170V172M71 194V198M73 48V50M73 110V114M73 124V126M75 78V80M75 142V144M77 82V84M77 120V124M77 132V134M77 178V180M79 82V84M79 108V110M79 132V134M79 144V146M79 152V154M79 178V180M81 54V56M81 104V106M81 116V118M81 154V156M81 204V208M83 120V122M83 130V132M83 184V186M83 206V208M85 64V66M85 120V122M85 156V158M85 202V208M87 100V102M87 176V178M87 184V186M91 58V60M91 100V104M91 114V116M91 174V176M93 76V78M93 98V104M93 148V150M95 76V78M95 100V102M95 180V182M97 98V100M97 114V116M97 156V158M99 74V76M101 154V156M103 74V76M103 110V112M103 176V178M105 76V78M105 144V152M107 116V118M107 120V124M107 160V162M107 176V178M109 20V24M109 56V60M109 72V74M109 182V184M109 186V188M111 52V54M111 84V86M111 172V174M113 54V56M113 84V86M113 98V100M113 102V104M113 182V184M115 72V74M115 206V208M117 176V178M119 6V10M119 26V28M119 54V56M121 156V158M121 186V188M123 44V48M123 66V70M123 84V86M123 178V180M123 204V208M125 46V48M125 84V86M125 104V106M125 108V112M125 206V208M127 2V4M127 102V104M127 152V154M131 48V50M131 64V66M131 102V104M131 144V146M133 44V46M133 48V50M133 74V76M133 120V124M133 142V144M135 34V36M135 44V46M135 82V84M135 164V166M137 34V38M137 46V48M137 64V66M137 68V70M137 78V80M137 100V102M137 164V166M137 168V170M137 182V184M139 34V36M139 62V64M139 90V92M139 100V102M139 140V142M139 192V194M141 18V22M141 34V36M141 84V88M141 170V172M141 184V186M141 206V208M143 34V36M143 70V72M143 88V90M143 146V148M145 34V36M145 72V74M147 34V36M147 72V74M147 102V104M147 180V182M149 34V36M149 124V126M149 158V160M149 162V164M149 166V168M153 30V32M153 38V40M153 52V56M153 82V84M155 38V40M155 50V52M155 74V76M155 82V84M157 36V38M157 50V52M157 56V58M157 62V64M157 82V84M157 102V104M157 170V172M159 36V38M159 58V64M159 82V84M159 90V92M159 106V108M159 110V112M161 20V22M161 108V112M161 170V172M163 42V44M163 58V64M163 168V170M163 202V204M165 38V40M165 58V60M165 92V94M165 168V170M165 202V206M167 38V40M167 58V60M167 80V82M167 86V88M167 148V150M167 202V206M169 42V44M169 46V48M169 104V106M169 124V126M169 190V192M169 202V204M171 14V18M171 58V60M171 80V82M171 86V88M171 166V168M171 170V176M171 204V206M173 14V18M173 48V50M173 80V82M173 94V96M173 104V108M173 132V134M173 140V142M173 182V184M173 204V206M175 24V26M175 70V72M175 94V96M175 102V104M175 140V142M175 166V168M175 178V180M175 204V206M177 70V72M177 88V90M177 94V96M177 204V206M179 60V62M179 166V168M179 204V208M181 12V14M181 26V28M181 42V44M181 66V70M181 92V94M181 144V146M181 160V162M181 176V178M181 204V206M183 12V14M183 16V18M183 40V42M183 64V66M183 92V94M183 140V142M183 166V168M183 204V206M185 12V14M185 16V18M185 28V30M185 40V42M185 62V64M185 78V80M185 90V92M185 94V100M185 122V124M185 200V206M187 12V14M187 78V80M187 90V92M187 94V98M187 112V114M187 198V200M187 204V206M189 32V34M189 206V208M191 14V16M191 80V84M191 98V100M191 204V206M193 2V4M193 14V16M193 34V36M193 82V84M193 96V98M193 204V206M195 16V18M195 96V98M195 138V140M197 6V10M197 12V14M197 16V18M197 38V40M197 96V98M197 112V114M199 10V14M199 22V24M199 36V38M199 114V116M199 138V140M203 26V28M203 106V108M203 116V118M205 132V134M205 198V204M205 206V208M207 206V208M209 26V28M209 74V76M209 116V118M209 198V200M209 204V208M211 72V74M211 106V108M211 114V116M211 150V152M213 76V78M213 106V108M215 66V68M215 78V80M215 194V196M217 24V26M217 78V80M217 134V136M219 62V64M219 66V68M219 72V74M219 78V80M221 62V64M221 72V74M221 130V132M223 26V28M223 64V66M223 76V78M223 194V196M223 200V202M225 28V30M225 74V76M225 188V190M225 200V202M227 112V114M227 130V132M229 104V106M229 122V124M229 162V164M231 104V106M237 200V202M239 110V112M239 198V200M241 202V204M243 106V108M243 154V156M245 100V102M245 104V106M245 202V204M247 14V16M247 94V96M247 126V128M247 200V204M251 96V102M251 104V106M253 14V16M253 102V104M253 200V204M255 106V108M255 198V204M257 64V66M257 108V112M257 126V128M259 64V66M259 114V116M259 128V130M259 132V134M261 62V66M261 100V104M261 112V114M261 128V130M261 138V140M263 64V66M263 126V128M263 198V202M265 64V66M265 190V192M265 200V204M267 110V112M267 200V204M269 116V118M269 202V204M271 116V118M271 200V204M275 114V116M275 122V124M275 170V172M275 176V178M277 170V172M277 200V204M279 44V46M279 106V108M279 202V204M281 42V46M283 42V46M283 124V126M283 128V130M285 42V46M285 108V110M287 42V44M287 126V128M287 188V190M289 42V44M289 108V110M289 128V130M289 162V164M289 192V194M291 160V162M293 200V202M295 128V130M295 160V164M295 178V180M295 190V192M295 200V202M297 194V196M297 198V200M299 16V18M301 164V166M303 16V18M303 166V168M303 178V180M305 16V18M305 132V134M305 138V140M305 160V162M307 176V178M313 160V162M315 112V114M315 132V134M315 178V180M317 180V182M319 172V174M319 178V180"/>
<path stroke="#ffff36" d="M1 4V6M1 112V114M1 118V120M3 4V6M5 116V118M7 14V16M21 6V8M21 18V20M23 70V72M23 110V112M23 118V120M23 170V172M23 180V182M25 94V98M25 102V104M25 136V138M25 148V152M25 172V174M25 178V182M27 22V24M27 52V54M27 74V76M27 98V100M27 162V164M27 172V174M27 176V178M29 52V54M29 98V100M29 118V120M29 124V126M29 168V172M29 178V182M31 52V54M31 128V130M31 180V182M31 186V188M33 36V38M33 50V52M33 178V180M33 202V204M35 100V102M35 150V152M37 4V6M37 118V120M39 2V6M39 36V38M41 36V40M41 98V100M41 118V120M43 30V32M43 40V42M43 72V74M43 116V118M43 170V172M45 32V34M45 74V76M45 138V140M47 166V168M49 42V46M49 96V98M51 44V52M51 100V104M53 44V48M53 72V76M53 166V168M55 44V46M55 72V76M55 104V106M55 114V116M55 170V172M55 190V192M55 196V198M57 44V46M57 52V54M57 116V118M57 134V136M57 178V180M59 42V46M59 52V54M59 100V102M59 104V106M59 122V124M59 160V162M61 42V46M61 52V54M61 58V62M61 118V120M61 122V124M61 174V176M61 198V200M63 28V30M63 58V60M63 66V68M63 198V200M65 34V36M65 40V42M65 62V64M65 66V68M65 194V198M67 40V42M67 54V58M67 64V68M69 46V48M69 64V68M71 36V40M71 46V48M71 64V66M71 104V106M73 38V40M73 50V54M73 64V66M73 78V82M73 114V118M73 150V152M75 48V50M75 52V54M75 64V66M75 82V84M75 118V120M75 124V126M75 152V154M75 172V174M77 64V66M77 116V120M79 64V66M79 84V86M79 116V118M79 120V124M79 146V148M81 64V66M81 84V86M81 132V134M83 54V56M83 64V66M83 84V86M83 98V100M83 122V124M83 202V206M85 84V86M85 154V156M87 40V42M87 84V86M87 98V100M87 102V104M87 120V122M87 158V160M87 182V184M89 40V42M89 66V70M89 76V78M89 84V86M89 98V104M89 170V172M91 40V42M91 70V72M91 76V78M91 84V86M91 98V100M91 150V152M93 84V86M93 110V112M93 146V148M95 72V76M95 98V100M95 182V184M97 74V76M97 148V150M97 154V156M97 182V184M99 96V98M99 116V118M99 148V150M99 154V156M99 176V178M101 126V128M101 146V148M101 182V184M103 22V24M103 106V108M103 128V130M103 144V146M103 152V154M105 74V76M105 128V130M107 48V50M107 74V78M107 84V86M107 114V116M109 38V40M109 76V78M109 84V86M109 184V186M111 54V56M111 72V74M111 146V148M111 184V186M113 72V74M113 144V146M115 144V146M117 148V150M117 178V180M119 24V26M119 38V40M119 60V62M119 100V108M119 156V158M121 44V56M121 102V104M121 148V152M123 48V50M123 74V78M123 106V110M123 182V184M125 48V50M125 66V70M125 74V78M125 150V152M127 4V6M127 48V50M127 68V70M127 74V78M127 84V86M129 48V50M129 60V62M129 74V76M129 84V86M129 102V104M131 34V36M131 60V62M131 74V76M131 84V86M133 18V20M133 34V38M133 60V62M133 64V66M133 76V78M135 18V22M135 36V38M135 48V50M135 60V62M135 78V80M135 90V92M135 126V128M135 142V144M135 160V162M135 180V184M137 18V22M137 44V46M137 48V50M137 86V88M137 90V92M137 126V128M137 130V132M137 154V156M137 158V160M137 172V174M139 20V22M139 46V48M139 60V62M139 84V88M139 186V188M141 14V18M141 22V24M141 46V48M141 60V64M141 88V90M141 100V102M141 126V128M141 144V146M141 172V174M143 8V10M143 60V62M145 8V10M145 60V62M145 70V72M147 8V10M147 152V158M147 178V180M147 182V184M147 194V196M149 8V10M149 30V32M149 38V40M149 72V74M149 82V84M149 126V128M149 156V158M149 164V166M149 172V174M151 8V10M151 30V36M151 38V40M151 50V56M151 60V62M151 72V74M151 82V84M151 162V164M151 170V172M151 186V190M153 8V10M153 32V36M153 48V52M153 60V64M153 72V74M153 116V118M153 122V124M153 162V164M153 170V172M155 32V36M155 48V50M155 56V58M155 60V64M155 72V74M155 168V172M155 198V200M157 32V36M157 48V50M157 58V62M157 72V74M157 76V78M157 194V196M159 32V36M159 40V42M159 48V50M159 78V80M159 102V106M159 108V110M159 192V194M161 12V14M163 48V50M163 80V84M163 88V90M163 192V194M165 30V34M165 36V38M165 40V42M165 60V64M165 80V84M165 150V152M165 200V202M167 36V38M167 40V42M167 60V62M167 164V166M167 186V188M167 200V202M169 44V46M169 136V140M169 182V184M169 198V202M171 36V40M171 48V50M171 70V72M171 112V114M171 168V170M171 176V178M171 182V184M171 190V192M171 198V204M173 24V26M173 36V40M173 70V72M173 100V102M173 112V114M173 130V132M173 166V168M173 170V176M173 180V182M173 202V204M175 36V40M175 46V48M175 60V62M175 80V82M175 88V90M175 100V102M175 172V174M175 176V178M175 196V198M175 202V204M177 36V40M177 44V46M177 60V62M177 80V82M177 138V140M177 202V204M179 6V8M179 12V14M179 22V24M179 26V28M179 36V44M179 66V70M179 90V94M179 168V170M179 194V196M179 202V204M181 0V2M181 6V8M181 36V42M181 64V66M181 90V92M181 158V160M181 172V176M181 200V204M183 0V2M183 6V8M183 28V30M183 36V40M183 62V64M183 90V92M183 168V170M183 202V204M185 30V34M185 36V40M185 124V126M187 2V4M187 16V18M187 20V22M187 32V40M187 82V84M187 202V204M189 34V40M189 80V84M189 94V98M189 112V114M189 204V206M191 2V4M191 8V14M191 16V18M191 20V22M191 34V40M191 94V98M191 108V110M191 202V204M193 8V10M193 12V14M193 16V18M193 20V22M193 36V40M193 94V96M193 198V204M195 6V14M195 20V22M195 36V40M195 94V96M195 134V136M197 4V6M197 10V12M197 36V38M197 94V96M197 138V140M199 134V136M201 22V26M201 108V110M203 22V24M205 106V108M205 204V206M207 18V20M207 204V206M209 152V154M209 200V204M211 74V76M213 72V74M213 104V106M213 130V132M213 158V160M215 64V66M215 72V74M215 76V78M215 134V136M215 148V150M217 66V68M217 72V74M217 76V78M217 114V118M217 192V194M219 76V78M219 132V134M221 76V78M221 120V122M223 28V30M223 74V76M223 146V148M225 196V200M227 96V98M227 108V110M227 114V118M227 120V122M227 136V138M227 192V194M229 156V158M231 138V140M231 154V158M233 106V108M233 132V134M235 108V110M241 128V130M241 200V202M245 16V18M245 98V100M245 124V126M247 100V102M247 110V116M249 14V16M249 98V100M249 112V114M251 14V16M251 62V64M253 60V62M253 104V106M255 16V18M255 60V62M257 60V62M257 112V116M257 118V122M259 62V64M259 116V118M259 126V128M259 134V138M263 118V120M265 120V122M265 198V200M267 112V114M267 190V192M267 198V200M269 106V108M269 172V174M269 176V178M269 192V196M269 198V202M271 106V108M271 120V122M271 126V128M271 172V174M271 176V178M273 172V174M273 176V178M281 112V114M283 172V176M283 200V202M285 170V172M287 122V124M287 176V178M287 198V200M289 164V166M289 178V180M289 198V200M291 162V164M291 198V200M293 160V166M293 182V184M295 166V168M297 158V160M297 196V198M299 154V156M301 108V110M301 138V140M301 160V164M303 108V110M305 108V110M305 134V136M305 166V168M307 136V138M309 122V124M309 126V128M309 130V134M311 172V174M313 178V180M315 172V174M317 130V132M317 172V174"/>
<path stroke="#ffff68" d="M1 16V18M3 16V18M3 112V114M5 12V14M5 16V18M5 112V116M21 8V12M21 64V66M23 56V58M23 68V70M23 168V170M23 190V194M25 0V2M25 46V50M25 72V74M25 84V88M25 104V106M25 114V116M25 128V130M25 152V156M27 40V46M27 102V104M27 128V130M27 148V150M27 168V172M27 178V182M27 188V190M29 22V24M29 38V40M29 48V50M29 90V94M29 102V104M29 114V116M29 126V128M29 134V136M31 22V24M31 48V50M31 98V100M31 172V174M31 178V180M31 200V202M33 22V24M33 52V54M33 98V100M33 102V104M33 130V134M33 200V202M35 4V6M35 22V24M35 36V38M35 50V52M35 116V118M35 148V150M35 158V160M35 170V172M35 188V190M37 2V4M37 22V24M37 36V38M37 50V52M39 22V24M39 38V40M41 2V6M41 40V42M41 44V46M41 96V98M41 100V102M41 172V174M43 2V4M43 24V26M43 44V46M43 74V76M43 94V96M43 122V124M43 130V132M43 160V162M45 26V32M45 42V48M45 94V96M45 104V106M45 136V138M47 32V34M47 42V50M47 118V120M47 142V144M49 46V52M51 70V72M51 148V150M51 166V168M53 52V54M53 70V72M53 76V78M53 116V118M53 122V124M55 52V54M55 70V72M55 76V78M55 134V136M55 162V164M55 166V168M55 188V190M55 192V196M57 26V28M57 54V60M57 70V78M57 98V100M57 106V108M57 176V178M57 186V188M59 26V30M59 32V34M59 54V62M59 68V72M59 74V78M59 174V176M61 26V30M61 32V34M61 54V58M61 62V64M61 66V70M61 74V78M61 102V104M63 24V26M63 42V46M63 54V58M63 62V66M63 68V70M63 74V76M63 108V116M63 158V160M63 174V176M63 194V198M65 26V30M65 42V46M65 54V58M65 64V66M65 68V70M65 108V110M65 124V126M65 166V168M67 26V30M67 34V36M67 42V46M67 68V70M67 108V110M67 126V128M67 146V148M69 40V46M69 68V70M69 78V80M69 106V108M69 196V198M71 40V46M71 66V68M71 78V82M71 102V104M71 126V128M73 36V38M73 40V48M73 66V68M73 82V84M73 108V110M75 38V48M75 50V52M75 84V86M75 110V118M77 38V40M77 46V54M77 84V88M77 108V110M77 124V126M77 144V146M77 174V178M79 52V54M79 86V88M79 106V108M79 118V120M79 156V158M79 174V178M81 86V88M81 100V104M81 118V120M81 146V148M81 178V180M83 40V42M83 76V78M83 86V88M83 180V184M85 40V42M85 54V56M85 76V78M85 86V88M85 96V98M85 122V124M85 130V132M85 184V186M87 38V40M87 66V70M87 76V78M87 86V88M87 96V98M87 122V124M87 130V132M87 174V176M89 38V40M89 56V58M89 86V90M89 96V98M91 86V98M93 40V42M93 58V60M93 72V76M93 86V98M93 116V118M93 138V140M93 162V164M93 176V178M95 84V98M95 112V114M95 116V118M97 84V94M97 96V98M97 158V160M97 176V178M99 84V92M99 114V116M99 158V160M101 84V92M101 96V98M101 112V114M101 120V122M101 124V126M101 148V150M101 160V162M101 170V172M101 176V178M103 20V22M103 84V90M103 96V98M103 124V128M103 146V150M103 162V164M105 84V90M105 96V98M105 104V106M105 110V112M105 124V128M105 162V164M107 50V52M107 86V88M107 96V98M107 104V106M107 108V110M109 18V20M109 24V26M109 42V44M109 74V76M109 86V88M109 96V98M109 150V158M109 174V176M111 58V60M111 74V78M111 86V88M111 96V98M111 148V152M113 46V48M113 56V60M113 76V78M113 86V88M113 104V108M113 146V152M115 4V6M115 46V48M115 56V58M115 74V78M115 86V88M115 100V102M115 146V152M117 6V8M117 12V14M117 18V20M117 104V106M117 150V154M117 174V176M119 40V42M119 74V78M119 86V88M119 98V100M121 60V62M121 74V78M121 86V88M121 100V102M123 50V56M123 60V62M123 86V88M123 104V106M123 148V156M125 50V56M125 60V62M125 152V154M127 0V2M127 10V20M127 32V36M127 50V54M127 60V62M127 66V68M129 16V20M129 32V38M129 42V44M129 50V54M129 66V70M129 76V78M129 92V94M129 148V150M131 16V22M131 30V34M131 36V38M131 50V54M131 66V70M131 76V78M131 90V98M131 186V188M133 14V18M133 20V22M133 30V34M133 50V54M133 68V70M133 100V102M133 124V126M133 128V130M135 10V12M135 14V18M135 22V24M135 32V34M135 50V52M135 64V66M135 68V70M135 74V76M135 84V86M135 128V130M135 166V168M137 10V14M137 16V18M137 22V24M137 32V34M137 50V52M137 66V68M137 76V78M137 88V90M137 132V136M137 152V154M137 156V158M137 166V168M139 8V14M139 16V20M139 22V24M139 32V34M139 44V46M139 48V52M139 68V70M139 80V84M139 88V90M139 126V128M141 32V34M141 38V40M141 44V46M141 48V52M141 82V84M141 180V184M143 0V2M143 6V8M143 10V12M143 20V24M143 32V34M143 38V40M143 44V50M143 62V64M143 82V84M143 148V150M143 160V164M143 166V168M145 0V2M145 6V8M145 10V12M145 30V34M145 38V40M145 46V50M145 62V64M145 82V84M145 100V102M147 0V2M147 6V8M147 10V12M147 30V34M147 38V40M147 46V54M147 60V64M147 70V72M147 176V178M147 184V190M149 0V2M149 6V8M149 10V12M149 32V34M149 46V56M149 60V64M149 100V102M149 104V106M149 186V190M151 0V2M151 6V8M151 10V12M151 46V50M151 56V60M151 62V64M151 102V104M151 164V170M151 182V186M151 190V194M153 6V8M153 10V12M153 28V30M153 40V42M153 44V48M153 56V60M153 74V76M153 120V122M153 124V126M153 168V170M153 172V174M153 196V198M155 8V12M155 28V30M155 40V42M155 44V48M155 58V60M155 162V164M155 166V168M155 172V174M155 180V186M155 196V198M157 8V10M157 28V30M157 40V42M157 44V48M157 64V66M157 172V174M157 178V190M159 28V30M159 42V48M159 64V66M159 122V124M159 128V130M159 172V192M161 172V194M163 44V48M163 64V66M163 90V92M163 102V104M163 170V192M165 14V16M165 34V36M165 42V44M165 48V50M165 64V66M165 70V72M165 88V90M165 110V112M165 170V192M165 196V200M167 14V18M167 30V36M167 42V44M167 48V50M167 62V66M167 70V72M167 82V84M167 88V90M167 92V94M167 100V102M167 108V110M167 150V152M167 166V186M167 188V192M167 198V200M169 66V70M169 102V104M169 140V142M169 166V182M169 192V198M171 24V26M171 32V36M171 40V42M171 46V48M171 60V62M171 82V84M171 88V90M171 94V96M171 98V100M171 106V110M171 136V138M171 140V142M171 178V182M171 192V194M171 196V198M173 34V36M173 40V48M173 60V62M173 82V84M173 88V90M173 102V104M173 108V110M173 168V170M173 176V180M173 192V194M173 198V202M175 4V6M175 12V14M175 22V24M175 26V28M175 34V36M175 40V46M175 82V84M175 108V110M175 112V114M175 168V172M175 174V176M175 198V202M177 2V8M177 12V14M177 22V24M177 26V28M177 34V36M177 40V44M177 64V70M177 82V84M177 90V94M177 194V196M177 200V202M179 0V6M179 34V36M179 62V66M179 80V84M179 132V134M179 154V160M179 200V202M181 2V6M181 8V10M181 28V36M181 62V64M181 80V84M181 128V130M181 166V172M183 2V6M183 8V12M183 20V22M183 30V36M183 82V84M183 124V126M183 136V140M185 2V12M185 20V22M185 34V36M185 80V84M187 4V12M187 18V20M187 80V82M187 110V112M187 200V202M189 108V110M189 198V204M191 4V8M191 18V20M191 200V202M193 4V8M193 10V12M193 18V20M193 112V114M195 4V6M195 18V20M195 136V138M197 18V22M197 134V136M199 18V22M199 108V110M201 18V22M203 18V22M203 24V26M203 108V110M203 136V138M205 18V24M205 26V28M205 108V110M205 138V140M207 20V24M207 104V106M207 130V132M207 138V140M207 194V196M207 202V204M209 108V112M209 138V140M209 158V160M211 28V30M211 138V140M211 158V160M213 26V28M213 74V76M215 24V26M215 74V76M215 192V194M217 64V66M217 74V76M219 64V66M219 74V76M219 104V106M219 110V112M219 116V120M219 136V138M221 26V28M221 64V66M221 74V76M221 104V106M221 118V120M221 138V140M223 122V124M223 130V132M223 138V140M223 192V194M225 122V124M227 106V108M227 118V120M227 190V192M231 148V154M239 200V202M241 112V114M243 108V110M245 96V98M245 106V108M245 120V122M247 16V18M247 98V100M247 122V124M249 96V98M249 114V118M251 106V108M253 16V18M253 62V64M253 106V108M255 62V64M255 108V114M257 62V64M257 116V118M257 124V126M259 118V122M259 138V140M261 114V116M261 126V128M263 120V122M265 130V132M265 192V198M267 114V120M267 150V152M267 192V198M269 138V140M269 174V176M269 196V198M271 112V116M271 144V146M271 174V176M273 106V108M273 118V120M273 130V132M273 174V176M275 124V126M275 172V176M277 114V116M277 172V176M283 126V128M283 194V196M283 198V200M285 114V116M285 124V128M285 172V176M285 190V192M285 198V200M287 110V112M287 124V126M287 170V176M287 190V192M289 166V178M289 194V198M291 108V110M291 128V130M291 164V186M293 108V110M293 166V182M293 184V186M293 198V200M295 168V178M295 192V194M295 198V200M297 132V134M297 160V178M299 138V140M299 156V172M299 176V178M301 166V170M303 168V170M305 124V126M305 136V138M305 168V170M305 176V178M307 128V132M307 134V136M307 170V172M309 118V122M309 124V126M309 172V176M311 174V176M313 172V174M315 110V112M315 176V178M317 126V130M319 176V178"/>
<path stroke="#ffff9b" d="M1 12V14M3 12V14M3 114V118M5 14V16M21 60V64M23 66V68M23 140V142M23 144V146M23 164V168M25 14V16M25 54V56M25 106V110M25 116V118M25 138V140M25 162V164M25 170V172M27 46V50M27 54V56M27 76V78M27 80V84M27 88V90M27 94V98M27 114V118M27 122V124M27 136V138M27 164V168M27 190V194M29 40V48M29 74V76M29 166V168M29 188V190M31 4V6M31 38V40M31 44V48M31 102V104M31 134V136M31 198V200M33 2V6M33 44V50M33 156V158M33 172V174M33 188V190M33 198V200M35 2V4M35 44V50M35 52V54M35 98V100M35 102V104M35 118V120M35 130V134M35 138V140M35 152V156M35 168V170M35 190V194M37 38V40M37 44V50M37 52V54M37 100V102M37 114V116M37 120V122M37 156V158M37 170V172M39 12V14M39 44V54M39 74V76M39 98V102M39 116V122M39 172V174M41 0V2M41 12V14M41 22V24M41 42V44M41 46V52M41 72V76M41 116V118M41 130V132M43 0V2M43 4V6M43 12V14M43 22V24M43 42V44M43 46V52M43 132V134M43 154V156M43 168V170M45 2V4M45 22V26M45 48V52M45 116V118M45 128V130M45 134V136M45 140V142M45 152V154M45 162V164M47 26V32M47 50V54M47 70V72M47 94V96M47 106V108M47 122V124M47 146V148M47 162V164M49 26V30M49 32V34M49 52V54M49 70V72M49 76V78M49 106V108M49 118V122M49 138V140M49 166V168M51 26V30M51 32V34M51 52V56M51 76V78M51 98V100M51 116V118M53 26V30M53 32V34M53 54V60M53 100V104M53 114V116M53 162V164M55 26V30M55 32V34M55 54V62M55 78V80M55 98V100M55 106V114M55 124V126M55 142V144M55 172V184M55 186V188M57 28V30M57 32V34M57 60V62M57 68V70M57 78V80M57 96V98M57 108V116M57 124V126M57 168V176M57 180V186M59 30V32M59 62V64M59 66V68M59 72V74M59 78V80M59 98V100M59 106V118M59 146V148M59 172V174M61 30V32M61 64V66M61 70V74M61 78V80M61 100V102M61 104V118M61 124V126M61 148V150M61 172V174M61 194V198M63 4V6M63 20V24M63 30V34M63 70V74M63 76V80M63 100V108M63 124V126M63 172V174M65 30V34M65 74V80M65 100V108M65 146V148M65 160V162M67 30V34M67 74V80M67 102V108M67 136V138M69 26V36M69 76V78M69 80V82M69 86V88M69 100V106M69 128V130M69 148V150M69 160V164M69 194V196M71 26V30M71 34V36M71 68V70M71 76V78M71 82V90M71 98V102M71 168V170M73 26V30M73 34V36M73 68V70M73 76V78M73 84V90M73 102V108M73 126V128M73 170V172M75 36V38M75 66V70M75 76V78M75 86V96M75 104V110M75 126V128M75 134V136M75 150V152M75 156V158M75 170V172M77 0V2M77 36V38M77 40V46M77 66V70M77 76V78M77 88V108M77 126V128M77 150V152M77 170V174M79 0V2M79 38V52M79 66V70M79 76V78M79 88V106M79 124V126M79 148V152M79 170V174M81 0V2M81 38V44M81 46V54M81 66V70M81 76V78M81 88V100M81 120V124M81 152V154M81 156V158M81 170V178M83 0V4M83 38V40M83 42V44M83 66V70M83 88V98M83 124V126M83 128V130M83 144V146M83 154V156M83 170V180M85 0V4M85 38V40M85 42V44M85 66V70M85 74V76M85 88V96M85 124V126M85 142V144M85 172V184M87 0V4M87 42V44M87 54V56M87 70V72M87 74V76M87 88V96M87 124V126M87 142V144M87 170V174M89 0V4M89 42V44M89 70V76M89 90V96M89 142V144M89 152V154M89 168V170M91 0V4M91 38V40M91 42V44M91 56V58M91 72V76M91 138V140M91 172V174M93 0V4M93 38V40M93 42V44M93 112V116M93 140V146M95 0V2M95 6V8M95 40V42M95 58V60M95 114V116M95 168V172M95 176V178M97 0V2M97 4V8M97 58V60M97 94V96M97 150V154M99 0V8M99 92V96M99 150V154M101 0V8M101 32V34M101 92V96M101 118V120M101 122V124M101 150V154M101 168V170M103 10V12M103 18V20M103 24V26M103 32V34M103 58V60M103 90V96M103 112V114M103 120V124M103 150V152M105 2V8M105 48V52M105 58V60M105 90V96M105 108V110M105 118V124M107 2V6M107 52V56M107 58V60M107 88V96M107 106V108M109 2V6M109 26V28M109 40V42M109 88V96M109 158V160M111 2V6M111 46V48M111 56V58M111 88V96M111 152V158M113 2V6M113 74V76M113 88V98M113 152V158M113 170V172M113 184V186M115 2V4M115 44V46M115 58V60M115 88V100M115 102V104M115 108V110M115 152V158M115 172V174M115 180V182M115 190V192M117 0V2M117 8V12M117 14V18M117 20V22M117 30V36M117 42V44M117 106V110M117 154V158M119 0V2M119 56V60M119 88V98M121 2V6M121 10V24M121 28V36M121 42V44M121 56V58M121 88V94M121 98V100M123 2V6M123 10V36M123 42V44M123 56V58M123 88V94M123 102V104M123 156V158M125 2V6M125 10V38M125 42V44M125 56V58M125 86V94M125 102V104M125 154V156M127 6V10M127 20V32M127 36V44M127 54V60M127 86V102M127 154V156M129 10V16M129 20V32M129 38V42M129 54V60M129 86V92M129 94V98M129 150V154M131 8V16M131 22V30M131 38V44M131 54V60M131 86V90M131 98V102M131 146V150M133 8V14M133 22V30M133 38V44M133 54V60M133 66V68M133 126V128M133 144V148M133 170V172M133 184V186M135 6V10M135 12V14M135 24V32M135 38V44M135 52V60M135 66V68M135 76V78M135 86V90M135 100V102M135 144V148M135 150V154M137 6V10M137 14V16M137 24V32M137 38V44M137 52V60M137 128V130M137 136V140M137 150V152M139 0V8M139 14V16M139 24V32M139 38V44M139 52V60M139 64V68M139 74V76M139 78V80M139 142V144M141 24V32M141 40V44M141 52V60M141 64V66M141 68V70M141 74V76M141 80V82M141 146V148M143 2V6M143 12V20M143 24V32M143 40V44M143 50V60M143 68V70M143 74V76M143 150V160M143 164V166M145 2V6M145 12V30M145 40V46M145 50V60M145 74V76M147 2V6M147 12V30M147 40V46M147 54V60M147 74V76M147 80V82M147 190V192M149 2V6M149 12V14M149 16V30M149 40V46M149 56V60M149 70V72M149 74V76M149 174V186M149 190V194M151 2V6M151 12V14M151 22V30M151 40V46M151 70V72M151 74V76M151 172V182M153 0V6M153 12V14M153 26V28M153 42V44M153 64V66M153 118V120M153 164V168M153 174V196M155 0V8M155 12V14M155 26V28M155 42V44M155 64V66M155 76V78M155 116V118M155 164V166M155 174V180M155 186V196M157 0V8M157 10V12M157 26V28M157 42V44M157 78V82M157 128V130M157 174V178M157 190V194M159 0V12M159 16V18M159 26V28M159 70V72M159 80V82M159 116V122M161 0V12M163 70V72M163 104V108M163 110V112M165 0V4M165 12V14M165 16V18M165 26V30M165 44V48M165 90V92M165 102V106M165 192V196M167 0V4M167 24V30M167 44V48M167 90V92M167 106V108M167 192V198M171 0V6M171 12V14M171 18V20M171 26V32M171 42V46M171 62V66M171 90V94M171 110V112M171 126V128M171 138V140M171 194V196M173 0V8M173 12V14M173 18V20M173 22V24M173 26V28M173 30V34M173 62V70M173 90V94M173 194V198M175 0V4M175 6V8M175 18V20M175 28V34M175 62V70M175 90V94M177 0V2M177 18V20M177 28V34M177 62V64M177 144V148M177 150V152M177 196V200M179 8V12M179 18V22M179 28V34M179 134V136M179 152V154M179 196V200M181 10V12M181 18V22M181 130V136M181 142V144M183 18V20M183 80V82M183 126V136M185 18V20M185 110V114M191 110V112M193 108V110M195 108V110M197 136V138M199 136V138M201 114V116M205 24V26M205 116V118M205 134V136M207 26V28M207 106V110M207 116V118M207 132V134M207 200V202M209 104V108M209 112V116M209 130V134M211 130V134M213 132V138M213 152V154M215 28V30M217 28V30M217 160V162M219 28V30M219 106V110M219 112V116M219 134V136M219 148V150M221 28V30M221 108V118M221 132V134M223 106V122M225 106V122M225 130V132M225 148V150M227 152V154M229 120V122M229 132V134M229 136V138M229 158V160M231 122V124M231 158V162M233 108V110M233 136V138M235 122V124M237 110V112M239 112V114M241 114V116M243 110V112M245 108V110M245 118V120M245 122V124M247 96V98M247 124V126M249 16V18M249 118V120M249 128V130M251 16V18M251 108V120M251 128V130M253 108V122M253 128V130M255 114V124M255 126V130M257 122V124M259 122V126M261 116V126M263 122V126M265 122V124M265 126V130M267 120V122M267 126V130M267 134V138M269 114V116M271 110V112M273 110V114M273 116V118M275 106V108M275 112V114M279 114V116M281 108V110M283 112V114M283 196V198M285 192V198M287 114V116M287 192V198M291 186V198M293 186V194M293 196V198M295 108V110M295 194V198M297 108V110M299 108V110M299 134V138M299 172V176M301 134V138M301 170V178M303 124V126M303 170V178M305 170V176M307 132V134M307 172V176M313 174V178M315 174V176M317 174V180M319 174V176"/>
<path stroke="#ffffcd" d="M1 14V16M1 114V118M3 14V16M23 58V60M23 142V144M25 2V6M25 12V14M25 20V22M25 56V58M25 68V72M25 110V114M25 120V128M25 140V142M25 146V148M25 164V170M27 0V4M27 56V58M27 72V74M27 78V80M27 84V88M27 104V106M27 120V122M27 124V128M27 138V140M27 146V148M29 0V6M29 54V58M29 72V74M29 76V78M29 82V84M29 88V90M29 94V98M29 104V106M29 136V140M29 150V152M29 156V162M29 164V166M29 194V196M31 0V4M31 40V44M31 54V56M31 74V76M31 90V94M31 96V98M31 120V124M31 126V128M31 136V142M31 170V172M31 188V190M31 196V198M33 0V2M33 38V40M33 42V44M33 54V56M33 74V76M33 92V94M33 96V98M33 128V130M33 134V144M33 148V156M33 158V160M33 170V172M33 190V192M33 196V198M35 0V2M35 38V40M35 42V44M35 54V56M35 74V76M35 114V116M35 120V122M35 128V130M35 134V138M35 140V148M37 0V2M37 6V8M37 12V14M37 40V44M37 54V56M37 72V76M37 98V100M37 130V144M37 148V152M37 158V160M37 168V170M39 0V2M39 6V8M39 10V12M39 40V44M39 54V56M39 72V74M39 94V98M39 130V142M39 170V172M41 6V8M41 10V12M41 20V22M41 52V56M41 94V96M41 102V104M41 122V124M41 128V130M41 132V142M41 168V172M43 10V12M43 20V22M43 52V58M43 70V72M43 104V106M43 128V130M43 134V140M43 166V168M45 0V2M45 4V6M45 10V14M45 20V22M45 52V58M45 70V72M45 76V78M45 124V126M45 148V152M45 164V166M47 0V6M47 20V26M47 54V60M47 76V78M47 116V118M47 130V136M47 144V146M47 164V166M49 20V26M49 30V32M49 54V60M49 92V96M49 116V118M49 122V124M49 136V138M49 140V142M49 146V148M49 162V166M51 20V26M51 30V32M51 56V62M51 78V80M51 86V98M51 104V106M51 114V116M51 122V126M51 162V166M53 20V26M53 30V32M53 60V64M53 68V70M53 78V100M53 104V114M53 124V128M53 146V148M53 164V166M55 20V26M55 30V32M55 62V66M55 68V70M55 80V98M55 126V128M55 130V134M55 144V146M55 164V166M55 184V186M57 20V26M57 30V32M57 62V68M57 80V96M57 126V128M57 162V168M59 20V26M59 64V66M59 80V98M59 124V130M59 162V172M61 20V26M61 80V100M61 126V130M61 160V162M61 166V172M63 0V4M63 6V8M63 80V100M63 126V130M63 166V172M65 24V26M65 70V74M65 80V100M65 126V130M65 140V144M65 162V166M67 0V2M67 24V26M67 70V74M67 80V102M67 128V132M67 144V146M69 0V4M69 70V76M69 82V86M69 88V100M69 130V132M69 136V142M71 0V4M71 30V34M71 70V76M71 90V98M71 128V132M71 158V160M71 164V168M73 0V6M73 30V34M73 70V76M73 90V102M73 128V132M73 156V158M73 162V170M75 0V6M75 26V36M75 70V76M75 96V104M75 128V134M75 144V146M75 148V150M75 162V170M77 2V6M77 26V30M77 34V36M77 70V76M77 128V132M77 146V150M77 158V160M77 162V170M79 2V8M79 26V30M79 36V38M79 70V76M79 126V132M79 162V170M81 2V8M81 28V30M81 36V38M81 44V46M81 70V76M81 124V132M81 148V152M81 164V170M83 4V10M83 28V30M83 36V38M83 44V54M83 70V76M83 126V128M83 156V158M83 164V170M85 4V10M85 28V30M85 36V38M85 44V54M85 70V74M85 126V130M85 152V154M85 158V160M85 166V172M87 4V10M87 28V30M87 36V38M87 44V46M87 52V54M87 72V74M87 126V130M87 144V146M87 152V154M87 166V170M89 4V12M89 28V32M89 44V46M89 54V56M89 144V148M89 160V162M89 166V168M91 4V12M91 30V32M91 140V150M91 162V164M91 168V172M93 4V12M93 30V34M93 56V58M93 170V176M95 2V6M95 8V12M95 30V34M95 38V40M95 42V44M95 162V168M95 172V176M97 2V4M97 8V12M97 30V36M97 38V44M97 168V176M99 8V12M99 22V24M99 30V36M99 58V60M99 170V176M101 8V12M101 20V24M101 30V32M101 34V36M101 58V60M101 114V118M101 166V168M101 172V176M103 12V18M103 26V32M103 34V36M103 46V56M103 114V120M103 164V166M103 168V176M105 0V2M105 8V16M105 20V24M105 32V36M105 46V48M105 52V56M105 106V108M105 112V118M105 174V176M107 0V2M107 6V24M107 30V36M107 46V48M107 56V58M107 162V164M107 174V176M109 0V2M109 6V18M109 160V162M109 172V174M111 0V2M111 6V24M111 30V34M111 158V162M111 170V172M113 0V2M113 6V24M113 44V46M113 158V162M115 0V2M115 6V24M115 28V34M115 104V108M115 158V162M117 22V30M117 36V38M117 158V162M117 180V182M117 190V192M119 158V162M119 190V192M121 0V2M121 6V10M121 24V28M121 36V42M121 58V60M121 94V98M121 158V164M121 178V182M123 0V2M123 6V10M123 36V42M123 58V60M123 94V102M123 158V160M123 176V178M125 0V2M125 6V10M125 38V42M125 58V60M125 94V102M125 156V160M125 184V186M127 156V158M129 0V10M129 98V102M129 154V158M131 0V8M131 150V156M133 0V8M133 148V156M135 0V6M135 148V150M135 154V160M137 0V6M137 140V150M137 178V180M139 76V78M139 144V164M139 170V174M139 180V182M139 184V186M141 66V68M141 76V80M141 148V160M141 168V170M141 174V180M143 64V68M143 76V82M145 64V70M145 76V82M145 102V104M147 64V70M147 76V80M147 192V194M149 14V16M149 64V70M149 76V78M149 80V82M151 14V22M151 64V70M151 76V78M151 80V82M153 14V26M153 66V72M153 76V82M155 14V26M155 66V72M155 78V82M155 126V128M157 12V26M157 66V72M157 116V118M159 12V16M159 18V26M159 66V70M159 124V128M163 66V70M163 108V110M165 4V12M165 18V26M165 66V70M165 106V110M167 4V14M167 18V20M167 22V24M167 66V70M167 102V106M169 126V136M171 6V8M171 20V24M171 66V70M171 100V102M171 104V106M171 128V136M173 20V22M173 28V30M173 110V112M175 8V12M175 20V22M175 110V112M177 8V12M177 20V22M177 140V144M177 148V150M179 136V152M181 136V142M189 110V112M193 110V112M195 112V114M199 110V114M201 110V112M203 110V112M203 114V116M205 110V116M205 136V138M207 24V26M207 110V116M207 134V138M207 196V200M209 134V138M209 154V158M211 24V26M211 134V138M211 152V154M213 156V158M217 26V28M219 26V28M221 106V108M221 134V138M221 148V150M223 132V138M225 132V138M225 160V162M227 132V136M227 154V156M227 160V162M229 106V120M229 134V136M229 160V162M231 106V122M231 132V134M233 110V124M233 134V136M235 110V114M237 112V116M237 122V124M239 114V116M239 126V128M241 116V118M243 112V118M243 126V128M245 110V118M249 120V128M251 120V128M253 122V128M255 124V126M265 124V126M267 122V126M267 130V134M267 138V140M269 108V114M271 108V110M271 124V126M271 146V150M273 108V110M273 114V116M273 128V130M275 110V112M277 106V108M281 110V112M283 108V112M285 110V114M287 112V114M289 126V128M291 126V128M293 126V128M293 194V196M295 126V128M297 128V132M299 110V112M299 128V134M301 110V112M301 128V134M303 110V112M303 122V124M305 110V112M305 122V124M307 110V112M307 126V128M315 126V132"/>
<path stroke="#ffffff" d="M23 60V66M25 6V12M25 16V20M25 58V68M25 118V120M25 142V146M27 4V22M27 58V72M27 106V114M27 118V120M27 140V146M29 6V22M29 58V72M29 78V82M29 84V88M29 106V114M29 140V150M29 152V156M29 162V164M29 190V194M31 6V22M31 56V74M31 76V90M31 94V96M31 104V120M31 124V126M31 142V170M31 190V196M33 6V22M33 40V42M33 56V74M33 76V92M33 94V96M33 104V128M33 144V148M33 160V170M33 192V196M35 6V22M35 40V42M35 56V74M35 76V98M35 104V114M35 122V128M35 160V168M37 8V12M37 14V22M37 56V72M37 76V98M37 102V114M37 122V130M37 144V148M37 152V156M37 160V168M39 8V10M39 14V22M39 56V72M39 76V94M39 102V116M39 122V130M39 142V170M41 8V10M41 14V20M41 56V72M41 76V94M41 104V116M41 124V128M41 142V168M43 6V10M43 14V20M43 58V70M43 76V94M43 106V116M43 124V128M43 140V154M43 162V166M45 6V10M45 14V20M45 58V70M45 78V94M45 106V116M45 126V128M45 142V148M47 6V20M47 60V70M47 78V94M47 108V116M47 124V130M49 0V20M49 60V70M49 78V92M49 108V116M49 124V136M49 142V146M51 0V20M51 62V70M51 80V86M51 106V114M51 126V148M53 0V20M53 64V68M53 128V146M55 0V20M55 66V68M55 128V130M57 0V20M57 128V134M59 0V20M59 130V146M61 0V20M61 130V148M61 162V166M63 8V20M63 130V148M63 160V166M65 0V24M65 130V140M65 144V146M67 2V24M67 132V136M69 4V26M69 132V136M69 142V148M71 4V26M71 132V150M71 160V164M73 6V26M73 132V150M73 158V162M75 6V26M75 146V148M75 158V162M77 6V26M77 30V34M77 160V162M79 8V26M79 30V36M79 158V162M81 8V28M81 30V36M81 158V164M83 10V28M83 30V36M83 146V154M83 158V164M85 10V28M85 30V36M85 144V152M85 160V166M87 10V28M87 30V36M87 46V52M87 146V152M87 160V166M89 12V28M89 32V38M89 46V54M89 148V152M89 162V166M91 12V30M91 32V38M91 44V56M91 164V168M93 12V30M93 34V38M93 44V56M93 164V170M95 12V30M95 34V38M95 44V58M97 12V30M97 36V38M97 44V58M97 160V168M99 12V22M99 24V30M99 36V58M99 160V170M101 12V20M101 24V30M101 36V58M101 162V166M103 36V46M103 56V58M103 166V168M105 16V20M105 24V32M105 36V46M105 56V58M105 164V174M107 24V30M107 36V46M107 164V174M109 162V172M111 24V30M111 34V46M111 162V170M113 24V44M113 162V170M115 24V28M115 34V44M115 162V172M115 182V190M117 38V42M117 162V174M117 182V190M119 162V190M121 164V178M121 182V186M123 160V176M125 160V184M127 158V188M129 158V188M131 156V186M133 156V170M133 172V184M135 174V180M137 174V178M139 164V170M139 174V180M139 182V184M141 160V168M149 78V80M149 102V104M151 78V80M155 118V126M157 118V128M167 20V22M171 8V12M171 102V104M173 8V12M195 110V112M201 112V114M203 112V114M211 26V28M211 154V158M213 154V156M215 26V28M215 150V160M217 148V160M219 150V162M221 150V162M223 148V162M225 150V160M225 190V196M227 156V160M231 134V138M235 114V122M237 116V122M239 116V126M241 118V128M243 118V126M267 140V150M269 140V152M271 122V124M273 120V128M275 108V110M277 108V114M279 108V114M289 110V126M291 110V126M293 110V126M295 110V126M297 110V128M299 112V128M301 112V128M303 112V122M305 112V122M307 112V126"/></g></g>
<g transform="matrix(1.00313 0 1.00410 1.00410 496.5 20)" clip-path="url(#cp)"><rect x="0" y="0" width="160" height="122" fill="#0b0000"/><g fill="none" stroke-width="2.6" transform="scale(.5)"><path stroke="#2c0000" d="M7 208V212M9 174V176M9 184V186M9 208V212M11 174V176M11 186V188M11 210V212M13 210V212M17 200V206M21 142V152M23 138V148M25 198V204M27 70V88M27 196V198M27 204V206M29 72V86M29 152V158M29 194V196M29 204V206M31 76V88M31 150V152M31 158V160M31 178V196M33 146V148M33 156V158M33 202V204M35 142V146M35 154V156M35 192V194M35 200V202M37 138V140M37 152V154M37 176V178M39 136V138M39 190V192M39 198V200M43 134V136M43 144V146M43 188V190M43 196V198M45 140V142M45 186V188M47 132V134M47 182V186M47 194V196M49 78V84M49 130V132M49 138V140M49 170V184M49 194V196M51 74V76M51 128V130M51 136V138M51 156V184M51 192V194M53 70V72M53 80V82M53 134V136M53 182V184M55 60V68M55 76V78M55 126V128M55 180V182M55 190V192M57 56V58M57 72V74M57 124V126M57 132V134M57 178V180M59 56V58M59 68V70M59 120V124M59 130V132M59 176V178M61 56V58M61 66V68M61 118V120M61 128V130M63 56V58M63 66V68M63 116V118M63 174V176M63 190V192M65 58V66M65 116V118M65 126V128M65 174V176M65 192V208M67 114V116M67 126V128M67 174V176M67 190V206M69 128V130M69 176V178M69 188V190M71 76V100M71 114V116M71 186V188M73 74V94M73 118V120M73 124V126M73 178V180M75 56V64M75 80V88M75 120V124M75 158V162M75 218V220M75 228V230M77 56V62M77 120V122M77 216V218M77 228V230M79 174V176M79 184V186M79 218V228M81 172V178M83 76V88M83 170V174M83 176V178M83 186V188M85 120V122M85 158V160M85 168V172M85 176V180M85 188V190M87 102V104M87 108V110M87 150V162M87 172V176M87 180V182M87 190V192M89 102V110M89 148V154M89 172V176M89 182V184M91 106V110M91 140V142M91 184V186M93 106V110M93 144V146M93 162V164M93 186V188M93 194V196M95 106V110M95 144V146M95 166V168M95 196V198M95 214V230M97 106V110M97 120V122M97 138V140M97 146V148M97 172V176M97 188V190M97 196V198M97 208V214M97 230V232M99 126V140M99 148V150M99 174V176M99 196V198M99 212V216M99 230V234M101 126V140M101 150V152M101 170V172M101 174V176M101 188V190M101 214V216M101 230V234M103 132V144M103 152V154M103 174V176M103 188V190M103 198V200M103 214V220M103 228V232M105 144V146M105 152V154M105 158V160M105 176V184M105 190V192M105 198V200M105 214V228M107 146V148M107 154V156M107 160V162M107 172V192M107 200V212M107 220V226M109 148V150M109 156V160M109 168V170M109 174V176M109 190V192M109 200V212M109 220V232M111 126V144M111 168V170M111 192V194M111 204V206M111 212V224M113 124V140M113 168V170M113 192V194M113 200V204M113 214V216M115 138V140M115 164V168M115 214V216M117 138V140M117 154V168M117 190V192M117 198V200M117 208V216M119 138V140M119 154V156M119 164V166M121 140V142M121 152V154M121 188V190M121 196V198M121 216V220M123 120V122M123 126V128M123 142V152M123 164V168M123 186V188M123 212V220M125 120V122M125 146V152M125 186V188M125 194V196M125 212V222M127 60V68M127 186V188M127 192V194M127 212V214M127 216V222M129 114V122M129 188V192M129 216V222M131 110V112M131 124V126M131 214V222M133 102V108M133 110V112M133 122V124M133 214V216M133 218V222M135 102V104M135 106V112M135 120V122M135 216V220M137 104V106M137 164V166M137 218V220M139 104V106M139 112V114M139 132V136M139 162V166M139 194V202M141 104V106M141 158V160M141 166V168M141 192V194M141 202V218M143 160V162M143 192V194M143 202V206M143 222V228M145 98V104M145 164V166M145 192V194M145 202V204M145 222V228M147 80V82M147 88V90M147 150V152M147 162V166M147 192V194M147 202V204M149 84V90M149 148V150M149 194V202M151 148V150M151 190V192M151 200V202M153 192V194M153 200V212M153 224V226M155 204V206M155 226V228M157 112V116M159 140V142M161 84V90M161 140V142M163 100V102M163 126V144M165 96V98M165 120V128M165 144V152M165 208V210M167 92V94M167 102V104M167 124V138M167 150V162M167 192V206M167 210V212M169 88V90M169 100V102M169 140V142M169 146V148M169 152V166M169 206V212M171 76V80M171 84V86M171 96V98M171 140V142M171 158V160M171 164V166M171 208V210M173 74V76M173 92V96M173 104V106M173 140V142M173 156V158M173 166V168M173 208V210M175 72V74M175 90V108M175 140V142M175 190V192M175 196V198M175 208V210M177 72V74M177 88V112M177 140V142M177 188V190M177 206V210M179 72V74M179 86V110M179 140V142M179 192V198M179 204V206M179 208V210M181 72V74M181 84V86M181 140V142M181 156V158M181 166V168M181 176V210M183 74V76M183 82V84M183 140V142M183 156V160M183 164V166M183 178V212M185 76V82M185 138V164M185 188V210M187 130V146M187 208V210M189 122V144M189 208V210M189 214V222M191 122V126M191 138V144M191 160V172M191 208V210M191 212V214M191 222V224M193 120V126M193 140V142M193 208V214M193 222V224M195 120V126M195 140V142M195 150V154M195 208V214M195 222V224M197 120V126M197 140V142M197 208V210M197 212V214M197 222V224M199 120V126M199 140V142M199 148V150M199 154V156M199 178V180M199 184V186M199 208V210M199 214V222M201 124V126M201 140V142M201 146V150M201 208V210M203 108V110M203 140V142M203 208V210M205 104V106M205 140V142M205 204V208M205 210V234M207 106V108M207 140V142M207 200V206M207 222V242M209 112V116M209 118V122M209 138V140M209 142V144M209 204V208M209 212V244M211 136V138M211 144V146M211 190V196M211 208V210M211 220V224M213 196V198M213 208V210M215 134V136M215 172V174M217 114V116M217 124V126M217 144V146M217 186V188M217 194V196M219 112V128M219 144V148M219 184V186M219 192V194M221 112V124M221 146V152M221 184V186M223 112V134M223 146V152M223 186V188M223 196V198M225 114V118M225 132V134M225 142V144M225 188V190M225 198V200M227 114V116M227 136V138M227 190V192M227 198V200M229 114V116M229 192V194M229 198V200M229 216V218M231 114V116M231 212V214M231 218V220M233 76V80M233 114V116M235 78V82M235 88V96M235 114V116M235 154V162M235 214V218M237 80V84M237 94V96M237 114V116M239 84V86M239 114V116M239 152V154M239 162V164M241 84V86M241 96V98M241 114V116M241 152V154M241 162V164M243 114V116M245 88V90M245 114V116M245 154V162M247 108V112M247 114V116M247 142V150M249 68V108M249 114V118M249 128V164M249 168V174M249 190V198M251 62V74M251 78V86M251 94V108M251 116V176M251 206V210M253 68V100M253 102V112M253 116V126M253 200V204M253 212V216M255 92V96M255 114V116M255 192V194M255 198V202M255 214V218M257 92V96M257 114V116M257 184V188M257 198V202M257 214V218M259 92V98M259 114V116M259 196V204M259 212V216M261 92V98M261 114V116M261 184V188M261 196V198M261 206V210M263 92V98M263 114V116M263 186V188M263 194V196M265 92V98M265 112V118M265 192V194M267 92V96M267 114V116M267 170V172M267 178V180M267 184V186M267 190V192M269 92V94M269 114V116M269 182V184M269 198V216M269 222V224M271 92V94M271 114V116M271 126V128M271 136V138M271 188V190M271 200V226M273 102V106M273 110V122M273 136V138M273 180V182M273 186V188M273 222V228M275 100V102M275 132V136M275 172V178M275 186V188M275 204V210M275 222V228M277 100V102M277 126V128M277 168V172M277 186V188M277 202V204M279 0V2M279 118V122M279 168V170M279 184V190M281 0V16M281 98V100M281 116V118M281 168V170M281 182V188M283 0V14M283 100V102M283 114V116M283 182V186M285 102V104M285 112V114M285 182V186M285 214V218M287 104V112M287 126V128M287 136V138M287 182V186M287 216V218M289 128V130M289 134V136M289 168V170M289 182V186M289 214V220M291 100V102M291 124V154M291 168V170M291 180V182M291 184V188M291 212V214M291 220V222M293 68V72M293 124V126M293 142V148M293 170V172M293 178V180M293 184V188M293 214V218M295 68V72M295 102V110M295 124V126M295 166V172M295 178V190M297 166V190M299 124V138M299 184V188M299 214V218M301 96V130M301 186V188M301 202V218M303 92V112M303 174V180M303 184V188M303 198V214M303 216V220M305 52V64M305 68V70M305 172V174M305 180V188M305 214V218M307 52V66M307 170V172M307 182V188M309 184V188M309 216V218M311 184V188M311 214V218M313 170V172M313 182V188M313 202V206M315 170V172M315 182V188M317 172V180M317 184V186"/>
<path stroke="#4e0000" d="M9 176V178M9 182V184M11 176V178M11 184V186M27 198V200M27 202V204M29 196V198M31 152V154M31 202V204M33 148V150M33 194V196M33 200V202M35 146V148M35 152V154M37 140V142M37 150V152M37 192V194M37 198V200M39 148V150M41 136V138M41 190V192M41 196V198M43 136V138M43 142V144M45 134V136M45 188V190M45 194V196M47 138V140M47 186V188M49 132V134M49 136V138M49 184V186M49 192V194M51 76V78M51 82V84M51 130V132M51 134V136M51 184V186M53 72V74M53 78V80M53 128V130M53 190V192M55 68V70M55 74V76M55 132V134M55 182V184M57 58V60M57 70V72M57 126V128M57 130V132M57 180V182M57 188V190M59 124V126M59 128V130M59 188V190M61 120V122M61 176V178M61 188V190M63 58V60M63 64V66M63 118V120M63 126V128M63 176V178M63 188V190M65 176V178M65 190V192M67 176V178M67 188V190M69 114V116M69 178V180M69 186V188M71 178V180M73 120V124M73 184V186M75 178V180M75 184V186M75 220V222M75 226V228M77 178V180M77 184V186M77 226V228M79 178V180M81 178V180M81 184V186M83 174V176M83 178V180M85 172V176M85 180V182M87 104V108M87 182V184M87 188V190M89 190V192M91 164V166M91 174V176M91 192V194M93 138V140M93 142V144M93 176V178M95 138V140M95 168V176M95 188V190M95 194V196M97 214V220M97 228V230M99 140V142M99 190V192M99 216V218M99 228V230M101 140V142M101 152V154M101 168V170M101 190V192M101 196V198M101 216V220M101 228V230M103 144V146M103 150V152M103 154V156M103 172V174M103 190V192M103 220V228M105 146V148M107 170V172M107 198V200M107 212V214M107 218V220M109 154V156M109 160V162M109 192V194M109 198V200M109 212V220M111 144V150M111 198V200M111 206V208M111 210V212M113 140V142M115 140V142M115 160V164M115 192V194M115 198V200M119 152V154M119 190V192M119 196V198M121 150V152M123 188V190M123 194V196M131 112V114M131 122V124M133 112V114M133 216V218M135 104V106M135 112V114M137 112V114M139 118V120M141 194V196M141 200V202M143 162V166M147 82V88M147 152V154M147 160V162M147 194V196M147 200V202M149 150V152M149 158V160M151 192V194M153 194V200M153 212V216M153 222V224M155 206V216M155 224V226M163 102V106M165 98V100M165 104V106M165 128V144M167 94V96M167 138V150M167 206V210M169 90V92M169 98V100M171 80V84M171 86V88M171 94V96M171 160V164M173 76V78M175 74V76M175 88V90M175 156V158M175 166V168M175 192V196M177 86V88M177 156V158M177 166V168M177 190V192M177 204V206M179 84V86M179 156V158M179 166V168M179 198V204M181 74V76M181 82V84M183 76V78M183 80V82M183 160V164M191 214V222M193 214V216M193 220V222M195 214V216M195 220V222M197 150V156M197 214V222M199 150V154M199 180V184M201 114V116M201 122V124M203 124V126M205 106V108M205 124V126M205 208V210M207 122V124M207 206V222M209 140V142M209 208V212M211 138V140M211 142V144M213 136V138M213 144V146M213 190V192M215 136V138M215 144V146M215 188V190M215 194V196M217 126V130M217 192V194M219 128V138M221 124V138M221 144V146M221 192V194M223 134V136M223 144V146M223 194V196M225 134V136M225 190V192M225 196V198M227 192V194M229 194V198M231 214V218M233 212V218M237 84V88M237 154V156M237 160V162M239 94V96M243 86V88M243 96V98M243 154V156M243 160V162M245 90V92M245 98V100M249 108V114M251 74V78M251 86V94M251 108V110M253 112V116M253 204V212M255 194V198M255 202V204M255 212V214M257 192V194M257 202V204M257 212V214M259 182V184M259 188V192M259 204V212M261 188V190M261 194V196M263 192V194M265 186V188M269 188V190M271 128V132M271 182V184M273 106V110M273 122V124M275 102V104M275 114V116M275 130V132M275 178V180M275 184V186M277 124V126M277 172V174M277 184V186M277 204V210M279 100V102M279 170V172M279 182V184M281 100V102M281 114V116M283 168V170M285 104V106M285 110V112M285 168V170M285 180V182M287 128V130M287 132V136M287 168V170M287 180V182M289 130V134M289 180V182M291 170V172M291 178V180M291 218V220M293 172V178M295 172V178M303 214V216M305 178V180M309 170V172M309 182V184M309 200V202M311 170V172M311 182V184M311 200V202M315 172V174M315 180V182"/>
<path stroke="#6f0000" d="M9 178V182M11 178V184M27 200V202M29 202V204M31 154V158M31 196V198M33 150V156M35 148V152M35 194V196M35 198V200M37 148V150M39 138V140M39 192V194M39 196V198M41 146V148M43 138V142M43 190V192M43 194V196M45 136V140M47 134V138M47 192V194M49 134V136M49 186V188M51 78V82M51 132V134M51 190V192M53 74V78M53 130V134M53 184V186M55 70V74M55 128V132M55 188V190M57 60V70M57 128V130M59 58V60M59 66V68M59 126V128M59 178V180M61 58V60M61 64V66M61 122V128M63 60V64M65 188V190M67 116V118M71 116V118M71 126V128M71 184V186M75 222V226M77 218V220M83 184V186M85 186V188M89 184V186M91 172V174M91 186V188M93 140V142M93 164V166M93 188V190M93 192V194M95 142V144M97 140V142M97 144V146M97 190V192M97 194V196M97 220V228M99 146V148M99 194V196M99 218V222M99 226V228M101 142V144M101 148V150M101 154V158M101 220V228M103 156V158M103 170V172M103 196V198M105 150V152M105 160V162M105 172V176M105 192V194M105 196V198M107 148V150M107 152V154M107 162V164M107 168V170M107 192V194M107 214V218M109 150V152M109 166V168M111 194V196M111 208V210M113 142V150M113 194V196M113 198V200M113 212V214M115 154V160M115 204V206M117 140V142M117 192V194M117 196V198M119 140V142M121 142V144M121 148V150M121 190V192M121 194V196M125 188V190M125 192V194M127 188V192M133 120V122M135 118V120M137 118V120M139 114V118M141 160V162M141 164V166M141 196V200M143 194V196M143 200V202M145 194V196M145 200V202M147 154V160M147 196V200M149 152V158M151 194V200M153 216V222M155 216V224M165 100V104M167 96V102M169 92V94M169 96V98M171 88V94M173 78V80M173 82V86M173 90V92M173 158V160M173 164V166M175 86V88M177 74V76M177 192V194M177 198V204M179 74V76M181 158V160M181 164V166M183 78V80M201 116V118M203 110V112M207 108V110M207 120V122M211 140V142M213 194V196M217 130V138M217 142V144M217 188V190M219 138V140M219 142V144M219 186V188M219 190V192M221 138V144M221 186V188M221 190V192M223 188V190M223 192V194M225 140V142M227 196V198M237 88V90M237 92V94M237 156V160M239 86V88M239 154V156M239 160V162M241 94V96M241 154V156M241 160V162M243 156V160M245 92V98M251 110V112M251 114V116M255 204V206M255 210V212M257 196V198M257 204V206M257 210V212M259 184V188M259 192V196M263 188V190M265 190V192M267 172V174M267 186V190M269 172V174M269 178V180M269 184V186M271 132V136M271 186V188M273 124V126M273 134V136M273 182V186M275 104V106M275 112V114M275 116V120M275 128V130M275 180V182M277 102V104M277 122V124M277 174V178M277 182V184M279 116V118M281 170V172M281 180V182M283 102V104M283 112V114M283 180V182M285 106V110M287 130V132M289 170V172M291 214V218M305 174V178M307 172V174M307 180V182M309 206V208M311 206V208M313 172V174M313 180V182M315 174V180"/>
<path stroke="#910000" d="M29 198V202M31 198V202M33 196V200M35 196V198M37 142V144M37 194V198M39 194V196M41 192V196M43 192V194M45 190V194M47 188V190M49 190V192M51 186V190M53 186V190M55 184V186M57 182V184M61 178V180M63 120V122M63 124V126M65 118V120M65 124V126M67 124V126M67 178V180M67 186V188M69 126V128M69 184V186M71 180V182M73 180V184M75 180V184M77 180V184M77 220V226M79 180V184M81 180V184M83 180V182M85 182V184M87 184V188M89 186V190M91 166V168M91 170V172M91 188V192M93 190V192M95 140V142M95 190V194M97 142V144M97 192V194M99 142V146M99 192V194M99 222V226M101 144V146M101 158V162M101 166V168M101 192V196M103 146V150M103 158V160M103 192V196M105 148V150M105 170V172M105 194V196M107 150V152M107 164V168M107 196V198M109 152V154M109 162V166M109 194V198M111 150V152M111 196V198M113 166V168M113 196V198M113 204V206M115 142V144M115 152V154M115 194V198M115 212V214M117 152V154M117 194V196M119 192V196M121 144V146M121 192V194M123 190V194M125 190V192M131 114V116M131 120V122M133 114V116M135 114V118M137 114V118M141 162V164M143 196V200M145 196V200M169 94V96M173 80V82M173 86V90M173 160V164M175 76V78M175 158V160M175 164V166M177 84V86M177 194V198M179 158V160M179 164V166M181 76V78M181 80V82M181 160V164M193 216V220M195 216V220M201 118V122M205 108V110M213 138V140M213 142V144M213 192V194M215 142V144M215 190V194M217 138V140M217 190V192M219 140V142M219 188V190M221 188V190M223 136V138M223 142V144M223 190V192M225 136V138M225 192V196M227 194V196M237 90V92M239 92V94M239 156V160M241 86V88M241 156V160M243 88V90M243 94V96M251 112V114M255 206V210M257 194V196M257 206V210M261 190V194M263 190V192M265 188V190M267 176V178M269 186V188M271 184V186M273 126V128M273 132V134M275 106V108M275 110V112M275 120V122M275 126V128M275 182V184M277 118V122M277 178V180M279 172V174M279 180V182M281 102V104M287 170V172M289 178V180M291 172V174M291 176V178M309 180V182M309 202V206M311 180V182M311 202V206"/>
<path stroke="#b20000" d="M37 144V148M39 146V148M41 138V140M41 144V146M47 190V192M49 188V190M55 186V188M57 186V188M59 60V62M59 64V66M59 180V182M59 186V188M63 122V124M63 178V180M63 186V188M65 178V180M65 186V188M69 116V118M69 180V182M71 182V184M83 182V184M85 184V186M91 168V170M93 174V176M101 146V148M101 162V166M103 168V170M105 162V164M105 168V170M107 194V196M111 166V168M113 150V152M115 150V152M115 206V208M119 150V152M121 146V148M133 116V120M175 82V86M177 158V160M177 164V166M179 82V84M181 78V80M203 112V114M203 122V124M205 122V124M207 110V112M207 116V120M213 140V142M215 138V140M217 140V142M223 138V140M225 138V140M239 88V92M243 90V94M267 174V176M269 174V178M273 128V132M275 108V110M275 122V126M277 116V118M277 180V182M279 102V104M279 114V116M279 174V176M281 112V114M283 104V106M283 110V112M283 170V172M285 170V172M287 178V180M291 174V176M307 174V176M307 178V180M309 172V174M311 172V174M313 174V176M313 178V180"/>
<path stroke="#d30000" d="M39 140V142M57 184V186M59 62V64M61 60V64M61 186V188M67 118V120M71 118V120M71 124V126M93 166V168M93 172V174M103 160V164M103 166V168M105 164V168M111 156V160M113 152V154M113 206V208M113 210V212M115 144V146M115 148V150M115 208V212M131 116V120M175 78V82M177 76V78M179 76V78M205 110V112M207 112V116M215 140V142M223 140V142M241 88V90M241 92V94M277 104V106M277 114V116M279 176V180M281 172V174M289 172V174M307 176V178M313 176V178"/>
<path stroke="#f50000" d="M39 144V146M41 140V144M65 120V124M67 184V186M69 182V184M93 168V172M103 164V166M111 152V156M111 160V162M111 164V166M113 154V158M113 164V166M113 208V210M115 146V148M117 142V144M119 142V144M175 160V164M177 82V84M179 160V164M205 120V122M241 90V92M277 112V114M281 178V180M283 106V110M283 178V180M285 178V180M289 176V178M309 178V180M311 178V180"/>
<path stroke="#ff1700" d="M39 142V144M59 182V184M61 180V182M67 122V124M67 180V182M69 124V126M71 120V124M111 162V164M113 158V164M117 150V152M177 160V164M179 80V82M203 114V116M203 120V122M205 112V114M281 104V106M287 172V174M289 174V176M309 174V176M311 174V176"/>
<path stroke="#ff3900" d="M59 184V186M69 118V120M177 78V82M179 78V80M205 118V120M277 106V108M277 110V112M279 104V106M279 112V114M281 174V176M283 172V174M287 176V178M309 176V178M311 176V178"/>
<path stroke="#ff5a00" d="M61 184V186M63 180V182M63 184V186M65 180V182M65 184V186M67 120V122M67 182V184M119 148V150M203 116V120M205 114V118M277 108V110M281 110V112M281 176V178M285 172V174"/>
<path stroke="#ff7c00" d="M61 182V184M69 122V124M117 144V146M119 144V146M287 174V176"/>
<path stroke="#ff9d00" d="M69 120V122M117 148V150M283 176V178M285 176V178"/>
<path stroke="#ffbf00" d="M63 182V184M65 182V184M117 146V148M119 146V148M279 110V112M281 106V110M283 174V176"/>
<path stroke="#ffe000" d="M285 174V176"/>
<path stroke="#ffff04" d="M279 106V108"/>
<path stroke="#ffff36" d="M279 108V110"/></g></g>
<g fill="#a9c4eb" stroke="#4a4a4a" stroke-width="1">
<polygon points="330,198.65 535,198.65 535,189.4 551.75,202.9 535,216.4 535,207.15 330,207.15"/>
<polygon points="330,261.75 524.5,261.75 524.5,252.5 540.75,266 524.5,279.5 524.5,270.25 330,270.25"/>
<polygon points="356.5,336.85 502.5,336.85 502.5,327.6 519,341.1 502.5,354.6 502.5,345.35 356.5,345.35"/>
<polygon points="391.25,425.0 474,425.0 474,415.75 491.25,429.25 474,442.75 474,433.5 391.25,433.5"/>
<polygon points="420,522.35 465,522.35 465,513.1 481.75,526.6 465,540.1 465,530.85 420,530.85"/>
</g>
<g class="t">
<text x="426.5" y="192.85" textLength="42" lengthAdjust="spacingAndGlyphs">Concat</text>
<text x="426.5" y="255.20" textLength="42" lengthAdjust="spacingAndGlyphs">Concat</text>
<text x="426.5" y="329.90" textLength="42" lengthAdjust="spacingAndGlyphs">Concat</text>
<text x="426.5" y="417.40" textLength="42" lengthAdjust="spacingAndGlyphs">Concat</text>
<text x="428" y="515.35" textLength="42" lengthAdjust="spacingAndGlyphs">Concat</text>
</g>
<g fill="#e8f8ff" stroke="#4a4a4a" stroke-width="1" stroke-linejoin="miter">
<polygon points="418.0,557.6 457.0,557.6 488.5,588.5 449.5,588.5"/>
<polygon points="418.0,557.6 449.5,588.5 449.5,663.5 418.0,632.6"/>
<rect x="449.5" y="588.5" width="39.0" height="75.0"/>
<polygon points="320.5,459.5 378.5,459.5 426.5,507.5 368.5,507.5"/>
<polygon points="320.5,459.5 368.5,507.5 368.5,574.5 320.5,526.5"/>
<rect x="368.5" y="507.5" width="58.0" height="67.0"/>
<polygon points="250.5,363.5 329.25,363.5 391.25,425.5 312.5,425.5"/>
<polygon points="250.5,363.5 312.5,425.5 312.5,477.5 250.5,415.5"/>
<rect x="312.5" y="425.5" width="78.75" height="52.0"/>
<polygon points="188.5,274.25 287.5,274.25 364.5,351.25 265.5,351.25"/>
<polygon points="188.5,274.25 265.5,351.25 265.5,389.25 188.5,312.25"/>
<rect x="265.5" y="351.25" width="99.0" height="38.0"/>
<polygon points="135.75,199.75 256.75,199.75 347.5,290.5 226.5,290.5"/>
<polygon points="135.75,199.75 226.5,290.5 226.5,314.5 135.75,223.75"/>
<rect x="226.5" y="290.5" width="121.0" height="24.0"/>
<polygon points="100.0,142.5 240.75,142.5 347.5,249.25 206.75,249.25"/>
<polygon points="100.0,142.5 206.75,249.25 206.75,257.25 100.0,150.5"/>
<rect x="206.75" y="249.25" width="140.75" height="8.0"/>
</g>
<g transform="matrix(1.00313 0 1.00410 1.00410 64.5 88)" clip-path="url(#cp)"><rect x="0" y="0" width="160" height="122" fill="#0b0000"/><g fill="none" stroke-width="2.6" transform="scale(.5)"><path stroke="#2c0000" d="M1 122V124M1 126V128M1 138V142M1 146V154M1 166V174M1 210V212M1 224V228M3 74V92M3 122V124M3 126V128M3 138V142M3 212V216M5 68V80M5 118V126M5 206V208M5 212V216M7 66V76M7 118V126M7 176V182M7 206V208M7 212V214M7 218V222M7 236V240M9 118V122M9 162V164M9 186V188M9 206V208M9 212V214M11 108V110M11 118V122M11 162V164M11 174V176M11 212V214M11 238V240M13 106V108M13 112V114M13 118V122M13 162V164M13 212V220M13 228V234M15 118V122M15 136V138M15 160V164M15 208V210M15 220V236M15 238V240M17 118V122M17 134V136M17 160V164M17 200V206M17 210V212M17 238V242M19 118V122M19 134V136M19 156V158M19 160V164M19 228V234M21 92V100M21 118V122M21 132V134M21 160V162M21 226V228M23 92V96M23 108V110M23 116V118M23 156V158M23 184V192M23 226V228M25 64V68M25 88V92M25 98V102M25 110V112M25 132V148M25 196V200M25 202V204M25 228V232M27 40V52M27 56V64M27 96V100M27 104V106M27 110V114M27 128V132M27 192V196M27 204V206M27 236V238M29 34V42M29 50V62M29 96V98M29 106V108M29 110V114M29 130V136M29 152V154M29 182V186M29 204V206M31 34V68M31 98V100M31 110V112M31 130V132M31 142V146M31 150V152M31 158V160M31 174V176M33 68V74M33 98V102M33 110V112M33 116V118M33 132V138M33 140V148M33 174V178M33 188V194M33 202V204M35 78V94M35 104V112M35 120V122M35 140V142M35 154V156M35 182V184M35 192V194M35 202V204M37 22V32M37 100V104M37 120V122M37 152V154M37 180V184M37 200V202M39 120V122M39 150V152M39 180V184M39 190V192M39 198V200M41 54V62M41 86V94M41 102V104M41 120V122M41 148V150M41 180V184M41 188V190M41 224V230M43 56V60M43 100V104M43 114V116M43 124V130M43 134V136M43 144V146M43 180V184M43 188V190M43 196V198M45 100V104M45 114V116M45 120V122M45 140V142M45 178V182M45 186V188M45 228V232M47 100V104M47 118V120M47 132V134M47 158V160M47 166V172M47 196V198M49 78V80M49 82V84M49 100V104M49 120V122M49 130V132M49 138V140M49 154V156M49 162V164M49 196V198M51 6V16M51 74V76M51 100V104M51 118V120M51 128V130M51 138V154M51 192V194M51 230V232M53 70V72M53 82V84M53 100V104M53 136V156M53 180V182M53 230V232M55 58V68M55 76V80M55 100V104M55 124V128M55 134V136M55 180V182M55 190V192M55 232V234M57 56V58M57 72V76M57 100V104M57 132V134M57 178V180M57 190V192M57 234V236M57 242V244M59 56V58M59 70V72M59 102V104M59 130V132M59 176V178M61 116V118M61 128V130M61 190V192M63 56V58M63 66V68M63 116V118M63 174V176M63 208V212M65 40V54M65 58V66M65 126V128M65 170V174M65 212V214M65 234V236M67 10V12M67 38V42M67 54V60M67 114V116M67 126V128M67 170V174M67 210V212M67 234V238M69 8V14M69 40V46M69 56V92M69 106V110M69 112V114M69 128V130M69 176V178M69 206V208M69 236V238M71 4V16M71 46V70M71 104V108M71 112V114M71 128V130M71 186V188M71 202V206M71 234V238M73 0V6M73 10V16M73 50V54M73 64V70M73 98V102M73 116V118M73 124V126M73 202V216M73 236V238M75 4V14M75 48V52M75 66V72M75 94V96M75 100V102M75 124V126M75 198V202M77 48V50M77 64V80M77 84V90M77 98V102M77 172V178M77 194V202M79 48V52M79 54V60M79 74V88M79 98V102M79 176V178M79 186V188M79 190V204M79 212V214M81 70V78M81 90V98M81 100V102M81 166V170M81 186V188M81 212V214M81 218V220M81 232V236M83 60V70M83 92V96M83 100V102M83 104V108M83 154V156M83 162V166M83 188V190M83 212V214M83 218V220M85 58V90M85 100V102M85 104V106M85 108V110M85 116V118M85 124V126M85 152V156M85 188V190M85 212V214M85 218V220M87 22V34M87 100V102M87 110V112M87 142V144M87 166V170M87 178V182M87 190V192M87 212V214M87 218V220M87 238V244M89 20V30M89 94V96M89 100V104M89 140V144M89 160V164M89 170V172M89 182V184M89 192V194M89 212V214M89 218V220M89 224V228M91 2V6M91 94V96M91 110V112M91 140V142M91 184V186M91 212V214M91 218V220M91 224V226M93 2V16M93 94V96M93 98V100M93 110V112M93 128V130M93 144V146M93 162V164M93 212V214M93 218V222M93 224V240M95 4V26M95 94V100M95 110V112M95 124V130M95 164V166M95 176V178M95 186V188M95 196V198M95 210V212M95 232V234M97 6V22M97 94V98M97 110V112M97 124V128M97 130V138M97 146V148M97 176V178M97 188V190M97 196V198M97 204V208M97 234V236M99 6V16M99 60V64M99 94V96M99 104V106M99 162V166M99 176V178M99 188V190M99 208V210M99 234V236M101 8V16M101 60V68M101 104V110M101 170V172M101 178V186M101 210V212M101 232V244M103 54V76M103 104V106M103 108V110M103 124V126M103 152V154M103 198V202M103 206V212M105 58V76M105 118V120M105 124V126M105 128V130M105 144V146M105 200V208M107 120V124M107 146V148M107 154V156M109 122V124M109 140V144M109 146V148M109 156V158M109 170V172M109 188V192M111 82V88M111 174V176M111 200V204M113 120V122M113 168V170M113 192V194M113 200V202M113 218V220M113 242V244M115 0V4M115 120V122M115 130V136M115 168V170M115 200V204M115 218V220M117 120V122M117 138V140M117 190V192M117 198V200M117 206V208M119 32V36M119 40V44M119 94V98M119 154V156M119 170V172M119 188V190M119 210V212M119 220V222M121 30V34M121 40V42M121 70V80M121 118V120M121 138V140M121 152V154M121 160V162M121 188V190M121 196V198M121 210V212M121 232V234M123 30V40M123 90V94M123 142V144M123 148V152M123 186V188M123 210V212M123 222V224M123 226V238M125 32V34M125 88V94M125 116V118M125 144V152M125 182V186M125 194V196M125 210V212M125 222V224M127 24V34M127 58V68M127 88V94M127 122V124M127 182V184M127 210V212M127 222V224M129 22V34M129 88V90M129 92V94M129 102V106M129 114V118M129 122V124M129 148V150M129 182V184M129 188V192M129 222V224M131 88V94M131 102V104M131 106V112M131 148V152M131 222V224M133 44V46M133 82V84M133 88V94M133 98V102M133 148V152M133 222V224M135 82V84M135 88V94M135 122V124M135 148V152M135 212V214M137 82V84M137 108V112M137 120V124M137 148V152M137 212V214M139 4V12M139 102V104M139 112V114M139 120V122M139 130V136M139 146V148M139 150V154M139 160V162M139 176V178M139 182V184M139 194V202M139 212V214M141 4V20M141 32V42M141 130V134M141 148V158M141 176V178M141 182V184M141 192V194M141 224V226M143 34V38M143 148V150M143 158V160M143 176V178M143 182V184M143 192V194M143 212V220M143 230V232M145 98V104M145 148V150M145 156V160M145 176V178M145 182V184M145 192V194M145 202V204M145 228V230M147 78V82M147 90V94M147 106V108M147 176V178M147 182V184M147 192V194M147 202V204M147 232V236M147 238V240M149 82V86M149 88V94M149 160V162M149 176V178M149 182V184M149 186V202M149 220V222M149 224V226M149 232V234M149 236V238M151 88V94M151 146V148M151 150V154M151 160V162M151 176V178M151 182V184M151 188V192M151 200V202M151 220V222M151 224V226M151 242V244M153 146V148M153 176V178M153 182V184M153 192V194M153 204V210M153 240V242M155 130V134M155 140V142M155 146V148M155 176V178M155 182V184M155 202V204M155 228V230M155 232V234M155 240V242M157 92V94M157 112V114M157 130V132M157 146V150M157 174V178M157 182V184M157 220V224M157 232V234M159 28V30M159 70V80M159 88V94M159 136V138M159 146V150M159 172V178M159 182V184M159 232V234M161 72V80M161 84V92M161 102V104M161 106V108M161 134V138M161 144V150M161 172V174M161 176V178M161 182V184M161 208V210M163 98V102M163 106V108M163 122V124M163 148V150M163 166V168M163 172V174M163 176V178M163 182V184M163 234V240M165 92V94M165 106V108M165 118V120M165 154V156M165 164V166M165 172V174M165 176V178M165 182V184M165 194V202M165 204V206M165 234V238M167 84V92M167 104V106M167 120V124M167 162V164M167 172V174M167 176V178M167 182V184M167 188V190M167 212V214M167 224V228M167 234V240M169 82V86M169 100V102M169 136V138M169 164V166M169 172V178M169 182V184M169 190V192M169 212V214M169 218V222M169 228V240M171 76V78M171 98V100M171 136V138M171 144V148M171 156V158M171 166V168M171 174V178M171 182V184M171 204V206M171 234V236M173 74V76M173 112V114M173 136V138M173 144V148M173 156V158M173 166V168M173 176V178M173 182V184M173 240V242M175 72V74M175 114V118M175 136V138M175 144V148M175 176V178M175 182V184M175 190V192M175 198V206M175 240V242M177 72V74M177 118V120M177 136V138M177 144V146M177 154V156M177 168V170M177 176V178M177 182V184M177 188V190M177 240V242M179 72V74M179 112V114M179 136V138M179 144V146M179 176V178M179 182V192M179 226V228M179 232V234M179 240V242M181 72V74M181 84V86M181 114V118M181 136V138M181 144V146M181 156V158M181 166V168M181 174V176M181 212V214M181 220V228M181 232V234M181 240V242M183 74V76M183 82V84M183 116V118M183 136V138M183 166V168M183 176V178M183 214V216M183 232V234M183 240V242M185 76V84M185 116V118M185 122V124M185 134V136M185 160V164M185 176V178M185 212V214M185 230V234M187 120V122M187 154V162M187 176V178M187 182V184M187 188V206M187 212V214M187 230V232M187 240V244M189 66V74M189 80V86M189 146V178M189 182V184M189 212V222M191 34V40M191 70V86M191 90V92M191 128V136M191 144V156M191 182V184M191 212V214M191 222V224M191 226V228M191 238V240M193 136V138M193 158V166M193 172V182M193 222V224M193 228V232M193 234V236M195 88V90M195 118V120M195 136V138M195 148V156M195 222V224M195 230V232M197 88V90M197 118V120M197 136V138M197 148V150M197 212V214M197 222V224M197 232V234M199 64V74M199 86V88M199 90V92M199 116V118M199 136V138M199 144V148M199 154V156M199 168V170M199 174V182M199 184V188M199 212V222M199 232V234M201 64V72M201 86V88M201 136V138M201 144V152M201 168V170M201 174V176M201 212V214M203 86V88M203 106V108M203 126V128M203 136V138M203 168V170M203 174V176M203 204V206M203 212V214M203 228V232M203 242V244M205 86V88M205 102V106M205 126V128M205 136V138M205 168V170M205 174V176M205 198V200M207 136V138M207 168V170M207 174V176M207 196V198M209 110V118M209 122V124M209 136V138M209 144V146M209 168V170M209 174V176M209 200V202M211 112V118M211 120V122M211 144V146M211 168V170M211 174V176M211 190V192M211 194V196M211 204V206M213 112V122M213 134V136M213 168V170M213 174V176M213 188V190M213 196V198M213 212V214M213 242V244M215 120V122M215 134V136M215 146V148M215 168V170M215 174V176M217 100V108M217 110V112M217 120V124M217 146V148M217 168V170M217 174V176M217 194V196M217 208V210M217 234V238M219 42V62M219 86V88M219 104V112M219 148V150M219 168V170M219 174V176M219 184V186M219 192V194M219 230V236M221 38V58M221 92V110M221 154V156M221 168V170M221 174V176M221 184V186M221 222V226M223 104V110M223 154V162M223 168V170M223 174V176M223 186V188M223 196V198M223 220V222M223 226V228M225 126V130M225 144V146M225 168V170M225 174V176M225 188V190M225 198V200M225 216V222M225 226V228M227 118V120M227 134V136M227 138V140M227 168V170M227 174V176M227 190V192M227 214V220M227 226V228M229 118V120M229 168V170M229 174V176M229 192V194M229 198V200M229 214V216M229 226V228M231 118V120M231 168V170M231 174V176M231 212V214M231 226V228M233 76V82M233 118V120M233 168V170M233 174V176M233 218V222M233 226V228M235 58V68M235 76V88M235 94V96M235 118V120M235 154V162M235 168V170M235 174V176M235 212V214M235 216V218M235 220V222M237 46V78M237 96V98M237 118V120M237 152V154M237 162V164M237 168V170M237 174V176M237 220V222M237 228V230M239 6V14M239 44V56M239 62V72M239 82V84M239 118V120M239 150V152M239 168V170M239 174V176M239 220V222M241 6V14M241 42V66M241 96V98M241 118V120M241 150V152M241 162V164M241 168V170M241 174V176M241 220V222M243 46V54M243 84V86M243 98V100M243 118V120M243 150V154M243 162V164M243 168V170M243 174V176M243 220V222M245 86V88M245 100V102M245 118V120M245 142V154M245 160V162M245 168V170M245 174V176M245 220V222M245 230V232M247 76V78M247 86V88M247 100V112M247 118V120M247 134V136M247 158V162M247 168V170M247 174V176M247 186V194M247 204V208M247 210V214M247 220V222M247 230V232M247 242V244M249 40V46M249 58V66M249 118V120M249 122V128M249 176V178M249 190V200M249 204V206M249 208V214M249 220V222M249 230V232M249 242V244M251 54V60M251 156V160M251 178V182M251 204V206M251 210V212M251 220V222M251 230V232M251 234V240M253 54V62M253 126V134M253 144V146M253 170V174M253 196V204M253 212V216M253 220V222M255 54V78M255 86V88M255 98V110M255 118V120M255 144V148M255 192V194M255 216V218M255 220V222M255 230V242M257 74V78M257 118V120M257 146V148M257 184V192M257 216V218M257 220V222M257 228V230M259 74V78M259 118V120M259 144V148M259 182V184M259 198V204M259 212V216M259 220V222M259 240V242M261 74V76M261 88V90M261 98V100M261 118V120M261 144V148M261 182V184M261 196V198M261 204V206M261 208V210M261 220V222M261 226V228M261 240V242M263 74V76M263 106V112M263 118V120M263 184V186M263 196V198M263 206V208M263 220V222M263 226V228M263 242V244M265 74V76M265 100V112M265 118V120M265 174V176M265 184V186M265 192V194M265 206V208M265 220V222M265 226V228M265 242V244M267 68V76M267 96V98M267 118V120M267 178V180M267 192V198M267 212V214M267 220V222M267 226V228M267 242V244M269 96V98M269 118V120M269 132V134M269 182V184M269 190V192M269 194V196M269 242V244M271 110V112M271 118V120M271 126V128M271 136V138M271 180V182M271 188V190M271 196V198M271 228V232M271 242V244M273 24V32M273 90V92M273 94V96M273 102V106M273 118V122M273 136V138M273 166V180M273 202V206M273 240V244M275 24V34M275 90V94M275 100V102M275 134V136M275 166V168M275 188V190M275 204V210M275 220V222M275 228V230M275 240V244M277 26V34M277 126V128M277 166V168M277 200V204M277 208V210M277 220V222M277 226V228M277 238V240M279 0V18M279 98V100M279 120V122M279 166V168M279 190V208M279 214V218M279 220V222M279 226V228M279 236V238M281 10V26M281 98V100M281 116V118M281 188V190M281 212V214M281 218V222M281 226V228M281 238V240M281 242V244M283 8V24M283 100V102M283 114V116M283 188V190M283 212V214M283 226V230M285 0V8M285 100V102M285 112V114M285 188V190M285 206V212M285 222V226M287 100V112M287 124V128M287 136V138M287 188V190M287 212V214M287 218V220M289 68V70M289 88V100M289 122V124M289 142V148M289 168V170M289 200V202M289 212V214M289 220V222M291 68V72M291 90V100M291 104V106M291 118V122M291 154V158M291 168V170M291 180V184M291 198V202M293 66V68M293 70V72M293 104V106M293 122V124M293 128V130M293 156V160M293 168V172M293 180V182M293 198V202M293 212V214M293 218V220M295 66V68M295 106V110M295 122V124M295 126V136M295 148V164M295 190V192M295 198V200M295 212V214M295 218V220M297 66V68M297 70V72M297 104V108M297 122V124M297 144V146M297 162V166M297 190V192M297 198V200M297 212V214M297 218V220M297 236V238M297 240V244M299 66V68M299 70V72M299 104V106M299 120V122M299 142V144M299 170V174M299 190V192M299 198V200M299 210V212M299 218V220M299 236V240M301 66V68M301 70V72M301 92V94M301 118V124M301 140V142M301 182V184M301 190V192M301 194V200M301 222V224M303 48V62M303 66V72M303 88V90M303 114V116M303 160V164M303 174V184M303 190V192M303 194V198M303 222V224M305 44V50M305 70V72M305 90V98M305 104V108M305 152V158M305 162V168M305 170V172M305 202V206M307 44V50M307 70V72M307 100V102M307 154V168M307 170V172M307 202V206M307 218V220M309 46V52M309 66V72M309 100V102M309 188V190M309 208V210M309 220V230M311 50V68M311 100V102M311 188V190M311 212V214M311 230V240M311 242V244M313 100V102M313 190V194M313 202V206M313 212V214M313 218V220M313 222V224M315 100V102M315 114V116M315 170V172M315 190V194M315 212V214M315 218V220M315 222V224M317 114V116M317 158V160M317 168V172M317 180V182M317 188V190M317 212V214M317 218V220M317 222V224M319 116V118M319 158V160M319 174V178M319 182V184M319 188V190M319 214V218M319 236V242"/>
<path stroke="#4e0000" d="M1 124V126M1 154V166M1 208V210M1 228V232M3 124V126M3 208V212M3 216V220M5 138V142M5 216V218M7 138V142M7 222V236M9 138V142M9 174V176M11 138V142M11 186V188M11 240V242M13 108V112M13 140V142M13 208V210M13 220V228M13 238V240M15 140V142M15 210V212M15 240V242M17 136V138M17 140V142M17 242V244M19 136V138M19 142V144M19 152V156M19 234V244M21 134V136M21 156V160M21 228V232M23 96V108M23 118V134M23 154V156M23 228V230M25 68V76M25 82V88M25 102V110M25 112V116M25 128V132M25 200V202M25 232V234M27 64V68M27 92V96M27 106V110M27 114V118M27 122V128M27 196V198M29 42V50M29 62V68M29 94V96M29 108V110M29 118V120M29 154V158M29 186V190M31 68V72M31 94V98M31 118V120M31 132V142M31 176V180M31 202V204M33 74V78M33 94V98M33 138V140M33 148V150M33 156V158M33 178V188M33 194V196M35 94V104M35 116V118M35 142V146M35 152V154M35 200V202M37 138V140M37 150V152M37 192V194M39 136V138M41 190V192M41 196V198M43 120V124M43 136V138M43 142V144M45 116V120M45 134V136M45 182V184M45 194V196M47 138V140M47 172V178M47 194V196M49 80V82M49 136V138M49 156V158M49 160V162M49 164V170M49 194V196M51 76V78M51 82V84M51 120V124M51 136V138M51 154V156M51 162V170M51 232V234M53 72V74M53 80V82M53 118V120M53 122V124M53 128V130M53 134V136M53 156V158M53 160V162M53 182V184M53 190V192M53 232V234M55 68V70M55 118V120M55 122V124M55 132V134M55 156V158M55 160V162M57 58V60M57 118V120M57 122V126M57 130V132M57 156V158M57 160V162M57 236V242M59 68V70M59 118V120M59 156V158M59 160V162M59 188V190M61 56V58M61 66V68M61 118V120M61 156V158M61 160V162M61 176V178M63 58V60M63 64V66M63 126V128M63 156V158M63 160V162M63 190V208M65 116V118M65 156V158M65 160V162M65 174V176M65 208V212M67 42V54M67 156V158M67 160V162M67 174V176M67 208V210M69 46V56M69 92V106M69 156V158M69 160V162M69 188V206M69 234V236M71 70V76M71 102V104M71 114V116M71 156V158M71 160V162M71 178V180M73 6V10M73 54V64M73 70V74M73 94V98M73 156V158M73 160V162M73 178V180M73 184V186M75 52V56M75 62V66M75 72V78M75 90V94M75 118V120M75 122V124M75 156V158M75 160V162M75 178V180M75 184V186M75 202V210M75 214V218M75 230V232M77 50V56M77 58V64M77 80V84M77 118V120M77 122V124M77 156V158M77 160V162M77 178V180M77 184V186M77 202V214M77 234V244M79 52V54M79 118V120M79 122V124M79 156V158M79 160V162M79 172V176M79 178V180M79 184V186M79 214V222M81 78V90M81 98V100M81 118V120M81 122V124M81 160V162M81 170V172M81 184V186M81 214V218M81 236V244M83 70V92M83 96V100M83 118V120M83 122V124M83 160V162M83 166V170M83 186V188M83 214V218M85 96V100M85 106V108M85 118V120M85 122V124M85 162V168M85 214V218M87 96V100M87 102V104M87 118V120M87 122V124M87 144V150M87 162V166M87 170V172M87 214V218M89 96V100M89 118V120M89 122V124M89 144V150M89 154V160M89 176V178M89 190V192M89 214V218M89 228V230M91 96V100M91 104V106M91 118V120M91 122V124M91 164V166M91 176V178M91 192V194M91 214V218M91 226V230M93 96V98M93 104V106M93 118V120M93 122V124M93 138V140M93 142V144M93 186V188M93 194V196M95 104V106M95 118V120M95 122V124M95 138V140M95 144V146M95 166V170M95 188V190M95 212V214M97 104V106M97 118V120M97 122V124M97 128V130M97 138V140M97 172V174M97 208V210M97 232V234M99 106V110M99 118V120M99 124V126M99 148V150M99 172V174M99 190V192M99 196V198M99 210V212M99 232V234M101 118V120M101 122V126M101 150V156M101 168V170M101 172V174M101 176V178M101 186V190M101 196V198M101 212V214M101 230V232M103 118V120M103 122V124M103 126V128M103 150V152M103 154V156M103 178V190M103 212V214M103 230V240M103 242V244M105 122V124M105 126V128M105 152V154M105 158V160M105 188V190M105 198V200M105 208V212M105 240V244M107 124V126M107 128V130M107 160V162M107 200V204M107 242V244M109 132V140M109 148V150M109 158V160M109 168V170M109 172V174M109 176V188M109 200V204M111 122V124M111 148V150M111 168V170M111 192V194M113 122V124M113 202V204M115 122V126M115 128V130M115 136V140M115 166V168M115 192V194M117 122V126M117 128V130M117 154V160M117 170V172M117 208V212M117 218V220M119 36V40M119 120V126M119 128V130M119 138V140M119 152V154M119 160V162M119 168V170M119 190V192M119 196V198M121 34V40M121 94V98M121 120V126M121 128V130M121 140V142M121 150V152M121 162V164M121 166V168M121 220V222M121 226V232M123 94V98M123 118V120M123 128V130M123 144V148M123 162V164M123 166V168M123 194V196M125 94V98M125 118V120M125 122V124M125 128V130M125 162V164M125 166V168M125 186V188M127 94V98M127 118V122M127 124V126M127 128V130M127 162V164M127 166V168M127 186V188M127 192V194M129 90V92M129 94V98M129 120V122M129 124V126M129 128V130M129 162V164M129 166V168M129 212V214M131 94V98M131 104V106M131 122V126M131 128V130M131 162V164M131 166V168M131 212V214M133 94V98M133 122V126M133 128V130M133 162V164M133 166V168M133 212V214M135 94V102M135 120V122M135 124V126M135 128V130M135 162V164M135 166V168M135 222V224M137 94V98M137 102V104M137 106V108M137 112V114M137 124V126M137 128V130M137 162V164M137 166V168M137 214V216M137 222V224M139 94V98M139 106V108M139 114V120M139 124V126M139 128V130M139 148V150M139 166V168M139 178V182M139 222V224M141 94V98M141 106V108M141 124V126M141 128V130M141 158V160M141 194V196M143 94V98M143 104V108M143 124V126M143 128V130M143 160V162M143 204V212M143 228V230M145 94V98M145 104V108M145 124V126M145 128V130M145 160V162M145 166V168M145 220V222M145 226V228M147 82V84M147 86V90M147 94V98M147 104V106M147 124V126M147 128V130M147 148V152M147 166V168M147 194V196M147 200V202M147 220V222M147 224V226M149 86V88M149 94V98M149 104V108M149 124V126M149 128V130M149 156V160M149 162V164M149 166V168M149 234V236M149 238V240M151 94V98M151 104V108M151 124V126M151 128V130M151 148V150M151 162V164M151 166V168M151 192V194M151 232V234M151 240V242M153 94V98M153 104V108M153 124V126M153 128V130M153 148V150M153 162V164M153 166V168M153 194V204M153 210V214M153 226V228M153 232V234M153 238V240M155 94V98M155 104V108M155 124V126M155 128V130M155 148V150M155 162V164M155 166V168M155 204V214M155 226V228M155 238V240M157 94V98M157 104V108M157 124V126M157 128V130M157 132V134M157 138V140M157 142V144M157 162V164M157 166V168M159 94V98M159 104V108M159 124V126M159 128V134M159 138V140M159 142V144M159 162V164M159 166V168M161 94V98M161 104V106M161 124V126M161 128V134M161 142V144M161 162V164M161 166V168M161 174V176M161 234V244M163 94V98M163 144V148M163 162V164M163 174V176M163 206V208M163 210V212M165 94V96M165 120V122M165 152V154M165 174V176M165 210V212M167 92V94M167 102V104M167 124V128M167 158V162M167 174V176M167 190V194M167 202V204M169 86V90M169 144V146M169 148V160M169 162V164M169 192V196M169 202V206M169 222V228M171 78V86M171 96V98M171 138V140M171 142V144M171 158V160M171 164V166M171 206V208M171 210V212M171 236V240M173 94V112M173 138V140M173 142V144M173 206V208M173 210V212M173 234V236M173 238V240M175 110V114M175 138V140M175 142V144M175 156V158M175 166V168M175 192V198M175 206V208M175 210V212M175 234V236M177 110V118M177 138V140M177 142V144M177 156V158M177 166V168M177 190V192M177 204V206M177 210V212M179 86V94M179 100V112M179 114V118M179 138V140M179 142V144M179 156V158M179 166V168M179 192V196M179 204V206M179 210V212M181 138V140M181 142V144M181 176V178M183 144V160M183 162V166M183 212V214M183 226V230M185 136V138M185 156V160M185 182V186M185 226V230M187 122V130M187 148V154M187 206V208M187 210V212M187 226V228M187 232V234M189 74V80M189 120V122M189 144V146M189 206V208M189 210V212M189 226V228M189 230V232M191 120V122M191 126V128M191 136V138M191 156V166M191 170V178M191 206V208M191 210V212M191 214V216M191 220V222M191 228V238M193 120V122M193 142V144M193 166V172M193 206V208M193 212V214M193 232V234M195 138V140M195 142V144M195 206V208M195 212V214M195 232V234M197 138V140M197 142V144M197 150V156M197 206V208M197 210V212M197 214V216M197 220V222M199 88V90M199 118V120M199 138V140M199 142V144M199 148V150M199 152V154M199 170V174M199 182V184M199 206V208M199 210V212M201 88V92M201 114V116M201 142V144M201 170V174M201 206V208M201 210V212M203 88V92M203 108V110M203 142V144M203 170V174M203 232V242M205 88V92M205 106V108M205 142V144M205 170V174M205 200V202M207 88V92M207 106V108M207 124V126M207 142V144M207 170V174M207 198V202M209 88V92M209 118V122M209 170V174M209 202V204M211 88V92M211 118V120M211 136V138M211 170V174M211 192V194M211 212V214M213 88V92M213 144V146M213 170V174M213 190V192M213 206V208M213 210V212M215 88V92M215 112V114M215 116V120M215 188V190M215 194V196M215 206V208M215 210V212M217 88V92M217 112V114M217 118V120M217 124V126M217 170V174M217 186V188M217 238V242M219 88V104M219 146V148M219 170V174M219 236V244M221 88V92M221 110V112M221 150V154M221 170V174M221 192V194M223 88V92M223 110V112M223 148V154M223 170V174M223 194V196M223 224V226M225 88V92M225 112V114M225 118V120M225 130V134M225 142V144M225 170V174M225 196V198M227 88V92M227 112V114M227 136V138M227 170V174M227 198V200M227 220V222M229 88V92M229 112V114M229 170V174M229 194V198M229 216V222M231 88V92M231 112V114M231 170V174M231 214V222M233 88V92M233 112V114M233 170V174M233 212V214M233 216V218M235 92V94M235 112V114M235 170V172M235 214V216M235 226V228M237 78V82M237 94V96M237 112V114M237 160V162M237 170V172M239 56V62M239 84V86M239 94V96M239 112V114M239 152V154M239 162V164M239 170V174M239 228V230M241 84V86M241 112V114M241 152V154M241 170V174M243 86V88M243 96V98M243 112V114M243 160V162M243 170V174M245 88V90M245 98V100M245 112V114M245 154V160M245 170V174M247 92V100M247 112V114M247 136V140M247 152V158M249 66V74M249 100V108M249 128V132M249 158V168M249 174V176M249 206V208M251 60V66M251 100V108M251 146V156M251 160V168M251 174V178M251 208V210M251 240V242M253 62V74M253 98V108M253 120V126M253 210V212M253 230V234M255 88V90M255 96V98M255 110V112M255 198V202M255 214V216M255 228V230M255 242V244M257 88V90M257 96V98M257 112V114M257 144V146M257 192V194M257 198V202M257 214V216M257 226V228M257 242V244M259 88V90M259 96V98M259 112V114M259 184V186M259 190V192M259 196V198M259 204V206M259 210V212M259 226V228M261 112V114M261 184V186M261 206V208M261 242V244M263 90V92M263 98V106M263 194V196M265 90V92M265 98V100M267 90V92M267 112V114M267 172V174M267 184V186M267 190V192M267 198V206M267 208V212M269 90V92M269 94V96M269 112V114M269 172V174M269 178V180M269 196V198M269 216V222M269 226V228M271 90V96M271 112V114M271 128V130M271 198V200M273 92V94M273 106V112M273 122V124M273 180V182M273 186V188M273 206V222M273 228V230M275 102V104M275 132V134M275 168V170M277 100V102M277 124V126M277 168V170M277 188V190M277 204V208M277 240V244M279 100V102M279 118V120M279 168V170M279 188V190M279 238V240M281 0V10M281 100V102M281 168V170M281 182V184M281 240V242M283 0V8M283 168V170M283 182V184M283 218V226M285 102V104M285 168V170M285 182V184M285 212V214M285 220V222M287 128V136M287 168V170M287 182V184M289 100V104M289 126V128M289 136V142M289 180V184M289 188V190M289 218V220M291 102V104M291 122V124M291 126V130M291 152V154M291 170V172M291 188V190M291 212V214M291 220V222M293 68V70M293 100V104M293 126V128M293 130V138M293 152V156M293 172V174M293 178V180M293 182V184M293 188V190M295 68V72M295 100V102M295 104V106M295 124V126M295 136V148M295 164V168M297 68V70M297 100V104M297 126V132M297 138V144M297 166V168M297 238V240M299 68V70M299 100V104M299 122V124M299 140V142M299 174V182M299 212V214M301 68V70M301 94V98M301 112V118M301 124V140M301 200V206M301 220V222M303 90V94M303 110V114M303 188V190M303 198V202M303 220V222M305 50V70M305 98V104M305 158V162M305 172V174M305 180V184M305 188V190M305 206V210M305 218V220M307 50V56M307 62V70M307 182V184M307 188V190M307 212V214M309 52V66M309 170V172M309 200V202M309 206V208M309 212V214M309 218V220M311 170V172M311 200V202M311 206V208M311 220V230M313 170V172M313 188V190M315 172V174M317 172V180M317 182V184M319 114V116M319 222V224M319 242V244"/>
<path stroke="#6f0000" d="M1 232V244M3 220V224M5 208V212M5 218V222M5 234V244M7 208V212M9 184V186M9 208V212M11 176V178M11 184V186M11 208V212M11 242V244M13 138V140M13 210V212M15 138V140M17 138V140M19 138V142M19 144V152M21 136V138M21 154V156M21 232V236M23 134V138M23 150V154M23 230V232M25 76V82M25 116V118M25 122V128M25 234V244M27 68V72M27 88V92M27 120V122M29 68V74M29 92V94M29 190V196M31 72V76M31 92V94M31 152V154M31 156V158M31 180V186M31 188V196M33 78V80M33 88V94M33 118V120M33 150V152M33 154V156M33 200V202M35 118V120M35 146V148M35 194V196M37 116V120M37 198V200M39 116V120M39 148V150M41 116V120M41 136V138M43 116V118M43 194V196M45 136V140M45 188V190M47 134V138M47 178V182M47 184V186M49 132V134M49 158V160M49 170V174M49 192V194M51 78V82M51 130V132M51 156V158M51 160V162M51 170V182M51 190V192M51 234V244M53 74V80M53 120V122M53 132V134M53 158V160M55 70V76M55 120V122M55 128V132M55 158V160M55 182V184M55 188V190M55 234V236M57 60V62M57 68V72M57 120V122M57 126V128M57 158V160M57 180V182M57 188V190M59 66V68M59 122V126M59 128V130M59 158V160M59 178V180M61 126V128M61 158V160M61 188V190M63 62V64M63 158V160M63 176V178M65 158V160M65 206V208M67 158V160M67 176V178M67 204V208M69 114V116M69 158V160M69 178V180M69 186V188M71 76V102M71 126V128M71 158V160M71 184V186M73 74V78M73 90V94M73 118V120M73 158V160M75 56V62M75 78V90M75 210V214M75 218V220M77 56V58M77 120V122M77 158V160M77 214V216M77 232V234M79 120V122M79 222V224M79 226V232M79 240V244M81 120V122M81 156V158M81 176V180M83 120V122M83 156V158M83 170V172M85 156V158M85 160V162M85 168V172M87 104V106M87 108V110M87 120V122M87 150V162M87 176V178M87 182V184M87 188V190M89 104V106M89 108V110M89 120V122M89 150V154M89 184V186M89 230V236M91 108V110M91 120V122M91 166V168M91 230V234M91 242V244M93 108V110M93 120V122M93 140V142M93 164V166M93 176V178M93 214V218M95 106V110M95 120V122M95 170V172M95 194V196M95 230V232M97 106V110M97 120V122M97 190V192M97 210V212M99 120V124M99 126V128M99 130V134M99 212V214M99 230V232M101 120V122M101 126V128M101 156V160M101 166V168M101 190V192M101 228V230M103 120V122M103 128V144M103 156V158M103 176V178M103 190V192M103 220V222M103 224V230M103 240V242M105 120V122M105 146V148M105 160V162M105 178V188M105 190V192M105 212V214M105 220V240M107 126V128M107 148V150M107 152V154M107 184V192M107 198V200M107 204V208M107 228V242M109 124V126M109 130V132M109 154V156M109 160V162M109 174V176M109 192V194M109 198V200M109 204V206M111 146V148M111 198V200M111 204V206M111 222V244M113 198V200M113 204V206M113 216V218M115 126V128M115 156V162M115 198V200M115 204V206M115 216V218M117 126V128M117 160V162M117 168V170M117 192V194M117 212V218M119 126V128M119 212V216M119 218V220M121 126V128M121 194V196M121 212V216M123 120V126M123 164V166M123 188V190M123 212V214M123 220V222M125 120V122M125 124V128M125 164V166M125 192V194M125 212V214M127 126V128M127 164V166M127 212V214M129 118V120M129 126V128M129 164V166M129 214V216M131 112V114M131 126V128M131 164V166M131 214V216M133 102V104M133 106V112M133 126V128M133 164V166M135 126V128M135 164V166M135 214V218M137 114V116M137 118V120M137 126V128M137 164V166M137 216V218M137 220V222M139 104V106M139 126V128M139 162V164M139 214V222M141 104V106M141 126V128M141 160V162M141 166V168M141 178V182M141 196V198M141 202V214M141 216V224M143 126V128M143 166V168M143 178V182M143 194V196M143 202V204M143 220V222M143 226V228M145 126V128M145 178V182M145 194V196M145 200V202M147 84V86M147 126V128M147 152V162M147 178V182M147 196V200M147 222V224M149 126V128M149 148V156M149 164V166M149 178V182M149 222V224M151 126V128M151 164V166M151 178V182M151 194V200M151 222V224M151 234V240M153 126V128M153 164V166M153 178V182M153 214V216M153 234V238M155 126V128M155 164V166M155 178V182M155 214V218M155 234V238M157 126V128M157 140V142M157 164V166M157 178V182M157 234V236M157 240V244M159 126V128M159 164V166M159 178V182M159 234V236M161 126V128M161 138V140M161 164V166M161 178V182M163 102V106M163 124V126M163 164V166M163 178V182M163 208V210M165 96V100M165 104V106M165 122V124M165 150V152M165 178V182M165 206V208M167 100V102M167 128V134M167 154V158M167 178V182M167 194V202M167 204V206M167 210V212M169 90V92M169 98V100M169 138V140M169 142V144M169 146V148M169 160V162M169 178V182M169 196V202M169 210V212M171 86V88M171 160V164M171 178V182M173 76V78M173 92V94M173 164V166M173 178V182M173 236V238M175 74V76M175 90V110M175 178V182M175 238V240M177 88V92M177 100V110M177 178V182M177 192V204M177 206V208M177 234V236M177 238V240M179 84V86M179 94V100M179 178V182M179 196V204M179 206V208M179 234V236M181 74V76M181 82V84M181 158V160M181 164V166M181 200V206M183 76V82M183 138V140M183 142V144M183 160V162M183 202V204M183 238V240M185 152V156M185 178V182M185 186V206M185 238V240M187 130V136M187 144V148M187 178V182M187 228V230M187 234V236M187 238V240M189 126V138M189 178V182M189 228V230M189 232V234M189 240V244M191 124V126M191 142V144M191 166V170M191 178V182M191 216V220M193 124V126M193 138V140M193 210V212M193 214V216M193 220V222M195 120V122M195 124V126M195 210V212M195 214V216M195 220V222M197 120V122M197 124V126M197 216V220M199 120V122M199 124V126M199 150V152M201 124V126M201 138V140M203 110V112M203 138V140M203 206V208M203 210V212M205 138V140M205 202V204M207 108V110M207 138V140M207 202V204M209 138V140M209 142V144M209 204V206M211 206V208M211 214V220M213 136V138M213 194V196M215 114V116M215 136V138M215 144V146M215 170V174M215 208V210M217 116V118M217 126V128M217 144V146M217 192V194M217 242V244M219 112V114M219 120V124M219 186V188M219 190V192M221 148V150M221 186V188M223 120V122M223 146V148M223 188V190M223 222V224M225 190V192M225 222V226M227 192V194M227 224V226M229 116V118M229 224V226M231 116V118M231 222V226M233 116V118M233 214V216M233 222V226M235 88V92M235 116V118M235 172V174M235 222V226M237 82V86M237 92V94M237 116V118M237 154V156M237 172V174M237 222V228M239 116V118M239 222V228M241 94V96M241 116V118M241 222V226M241 228V230M243 116V118M243 154V156M243 222V224M243 228V230M245 90V98M245 116V118M245 222V224M245 228V230M247 88V92M247 116V118M247 140V152M247 170V174M247 222V224M247 228V230M249 74V86M249 96V100M249 108V112M249 116V118M249 132V136M249 150V158M249 168V170M249 222V226M249 228V230M251 66V74M251 98V100M251 118V146M251 168V170M251 206V208M251 222V226M251 228V230M251 242V244M253 74V88M253 96V98M253 108V110M253 118V120M253 204V206M253 208V210M253 222V224M253 234V242M255 90V96M255 112V114M255 116V118M255 194V198M255 202V204M255 212V214M255 222V228M257 90V92M257 94V96M257 116V118M257 196V198M257 202V204M257 210V214M257 222V226M259 90V92M259 116V118M259 186V190M259 208V210M259 222V226M259 242V244M261 90V92M261 96V98M261 116V118M261 222V226M263 96V98M263 112V114M263 116V118M263 222V226M265 96V98M265 112V114M265 116V118M265 222V226M267 92V96M267 116V118M267 174V178M267 206V208M267 222V226M269 92V94M269 116V118M269 176V178M269 188V190M269 198V200M269 214V216M271 116V118M271 130V132M271 134V136M271 182V184M271 200V204M271 216V220M271 226V228M273 112V114M273 116V118M273 124V126M273 134V136M273 226V228M275 112V118M275 130V132M275 170V174M275 186V188M275 222V224M275 226V228M277 122V124M277 222V226M279 116V118M279 222V226M279 240V244M281 114V116M281 186V188M281 214V218M281 222V226M283 102V104M283 112V114M283 180V182M283 184V188M285 104V106M285 110V112M285 180V182M285 184V188M285 218V220M287 180V182M287 184V188M287 214V216M289 124V126M289 128V136M289 184V188M291 100V102M291 130V138M291 148V152M291 178V180M291 184V186M291 218V220M293 124V126M293 138V152M293 174V178M293 214V216M295 102V104M295 168V172M295 180V182M295 188V190M295 214V218M297 124V126M297 132V138M297 168V172M297 214V218M299 124V130M299 136V140M299 182V184M299 188V190M301 98V100M301 106V112M301 188V190M301 206V210M303 94V98M303 104V110M303 184V186M303 202V204M305 174V176M305 178V180M305 184V186M305 210V214M307 56V62M307 180V182M307 186V188M309 182V184M309 186V188M309 202V206M311 182V184M311 202V206M311 218V220M313 214V218M315 180V184M315 188V190M315 214V218M317 186V188M317 214V218M319 184V188"/>
<path stroke="#910000" d="M3 224V230M3 236V240M5 222V234M9 176V180M9 182V184M11 178V180M11 182V184M13 240V242M15 242V244M21 138V144M21 150V154M21 236V244M23 138V150M23 232V236M25 118V122M27 72V78M27 84V88M27 118V120M27 198V200M27 202V204M29 74V78M29 86V92M29 196V198M29 202V204M31 76V80M31 88V92M31 154V156M31 186V188M31 196V198M31 200V202M33 80V88M33 152V154M33 196V198M35 148V152M35 198V200M37 140V142M37 148V150M39 192V194M39 196V198M41 146V148M43 118V120M43 138V142M43 190V192M45 192V194M47 182V184M47 186V188M47 192V194M49 134V136M49 174V182M51 132V136M51 158V160M51 182V184M53 130V132M53 184V186M53 188V190M53 234V238M53 240V244M55 236V238M55 240V244M57 62V68M57 128V130M59 58V60M59 120V122M59 126V128M61 58V60M61 64V66M61 124V126M63 60V62M63 118V120M63 188V190M65 176V178M65 190V206M67 116V118M67 190V204M69 126V128M71 116V118M73 78V90M73 122V124M73 180V182M75 120V122M75 158V160M75 180V182M75 220V222M75 228V230M77 182V184M77 216V218M77 230V232M79 158V160M79 182V184M79 224V226M79 232V240M81 158V160M81 172V174M83 158V160M85 120V122M85 158V160M85 178V182M85 186V188M87 106V108M89 106V108M89 172V174M89 236V240M89 242V244M91 106V108M91 168V172M91 186V188M91 190V192M91 234V242M93 106V108M93 188V190M93 192V194M95 140V144M95 172V174M95 190V192M95 214V216M95 218V230M97 140V142M97 144V146M97 174V176M97 194V196M99 128V130M99 134V138M99 174V176M99 194V196M101 128V134M101 160V166M101 174V176M101 214V216M101 226V228M103 144V146M103 158V160M103 170V174M103 196V198M103 214V216M103 218V220M103 222V224M105 148V152M105 176V178M105 196V198M105 218V220M107 150V152M107 162V164M107 170V174M107 176V184M107 192V194M107 208V210M107 222V228M109 128V130M109 150V152M109 206V208M109 236V244M111 124V126M111 142V146M111 150V152M111 194V196M111 206V208M111 220V222M113 124V126M113 130V134M113 194V196M113 212V216M115 140V142M115 154V156M115 194V196M115 206V208M115 214V216M117 140V142M117 196V198M119 140V142M119 162V164M119 166V168M119 216V218M121 142V144M121 148V150M121 164V166M121 190V192M121 216V220M123 126V128M123 192V194M123 214V216M125 188V190M125 214V216M125 220V222M127 188V192M127 214V216M127 220V222M129 216V218M129 220V222M131 114V116M131 216V218M131 220V222M133 112V114M133 120V122M133 214V216M133 220V222M135 102V104M135 106V112M135 218V222M137 104V106M137 116V118M137 218V220M139 164V166M141 198V202M141 214V216M143 162V164M143 224V226M145 162V166M145 224V226M147 162V166M153 216V220M153 224V226M155 218V220M155 224V226M157 236V240M159 140V142M159 236V244M161 140V142M163 130V132M163 134V138M163 142V144M165 100V104M165 124V126M165 148V150M165 208V210M167 94V96M167 134V136M167 152V154M167 206V208M169 206V208M171 88V90M171 94V96M171 140V142M171 208V210M173 78V86M173 90V92M173 140V142M173 158V160M173 208V210M175 88V90M175 140V142M175 208V210M175 236V238M177 74V76M177 86V88M177 92V100M177 140V142M177 208V210M179 74V76M179 140V142M179 208V210M179 238V240M181 140V142M181 182V190M181 192V200M181 210V212M181 234V236M181 238V240M183 140V142M183 178V180M183 182V190M183 194V202M183 204V206M183 234V236M185 144V152M185 206V208M185 210V212M185 234V236M187 136V138M187 208V210M187 236V238M189 122V126M189 142V144M189 208V210M189 234V236M189 238V240M191 122V124M191 138V140M191 208V210M193 122V124M193 140V142M193 208V210M193 216V220M195 122V124M195 140V142M195 208V210M195 216V220M197 122V124M197 140V142M197 208V210M199 122V124M199 140V142M199 208V210M201 116V118M201 122V124M201 140V142M201 208V210M203 112V114M203 124V126M203 140V142M203 208V210M205 108V110M205 124V126M205 140V142M205 204V206M205 212V222M205 242V244M207 110V112M207 122V124M207 140V142M207 204V206M211 142V144M211 210V212M211 220V244M213 192V194M213 208V210M215 190V194M217 114V116M217 128V132M217 188V190M219 118V120M219 124V126M219 144V146M221 112V114M221 120V122M221 146V148M221 190V192M223 112V114M223 118V120M223 122V126M223 144V146M223 192V194M225 114V118M225 134V136M225 194V196M227 114V118M227 194V198M227 222V224M229 114V116M229 222V224M231 114V116M233 114V116M235 114V116M237 86V88M237 114V116M237 156V160M239 86V88M239 92V94M239 114V116M239 160V162M241 86V88M241 114V116M241 154V156M241 160V162M241 226V228M243 94V96M243 114V116M243 156V160M243 224V228M245 114V116M245 224V226M247 114V116M247 224V226M249 86V88M249 94V96M249 112V114M249 136V150M249 170V174M249 226V228M251 74V86M251 96V98M251 108V110M251 170V174M251 226V228M253 88V90M253 92V96M253 110V112M253 206V208M253 224V226M253 228V230M253 242V244M255 204V206M255 210V212M257 92V94M257 114V116M257 194V196M257 204V206M259 92V96M259 114V116M259 192V196M259 206V208M261 92V96M261 114V116M261 186V188M261 194V196M263 92V96M263 114V116M263 186V188M263 192V194M265 92V96M265 114V116M265 186V188M265 190V192M267 114V116M269 114V116M269 174V176M269 184V186M269 200V206M269 208V214M269 222V226M271 114V116M271 132V134M271 186V188M271 204V208M271 212V216M271 220V222M273 114V116M273 182V184M273 222V224M275 104V106M275 110V112M275 118V120M275 128V130M275 174V180M275 224V226M277 102V104M277 120V122M277 170V172M277 186V188M279 170V172M279 182V184M281 170V172M281 180V182M281 184V186M283 214V218M285 106V110M287 216V218M289 170V172M289 214V218M291 124V126M291 138V148M291 172V174M291 186V188M293 184V188M293 216V218M295 172V180M295 182V184M297 172V182M297 188V190M299 130V136M299 214V218M301 100V102M301 104V106M301 184V188M301 210V212M301 218V220M303 98V100M303 102V104M303 186V188M303 204V208M303 218V220M305 176V178M305 186V188M307 172V174M307 184V186M307 214V218M309 184V186M309 214V218M311 184V188M311 214V218M313 172V174M313 182V184M315 174V176M315 178V180M317 184V186"/>
<path stroke="#b20000" d="M3 230V236M3 240V244M9 180V182M11 180V182M13 242V244M21 144V150M23 236V244M27 78V84M27 200V202M29 78V86M31 80V88M31 198V200M33 198V200M35 196V198M37 194V198M39 138V140M39 194V196M41 192V196M43 192V194M45 190V192M49 182V186M51 184V186M53 186V188M53 238V240M55 238V240M61 120V124M61 178V180M63 124V126M65 124V126M65 188V190M67 124V126M67 188V190M69 184V186M71 180V182M73 120V122M73 182V184M75 182V184M75 222V228M77 180V182M77 218V220M79 180V182M81 174V176M81 180V184M83 176V180M83 184V186M85 176V178M87 172V174M87 184V188M89 174V176M89 186V190M89 240V242M91 172V176M91 188V190M93 166V170M93 190V192M95 174V176M95 192V194M95 216V218M97 142V144M97 192V194M97 212V214M97 230V232M99 138V142M99 146V148M99 192V194M99 228V230M101 134V140M101 148V150M101 192V196M101 216V226M103 146V150M103 160V164M103 166V170M103 174V176M103 216V218M105 162V164M105 192V194M105 214V218M107 164V170M107 196V198M107 210V212M107 220V222M109 126V128M109 152V154M109 166V168M109 194V198M109 208V210M109 220V236M111 130V142M111 156V160M111 196V198M111 208V214M111 218V220M113 126V130M113 134V142M113 146V152M113 166V168M113 196V198M113 206V212M115 152V154M115 162V166M115 196V198M115 208V214M117 152V154M117 162V164M117 166V168M117 194V196M119 164V166M119 192V196M121 192V194M123 190V192M123 216V220M125 190V192M125 216V218M127 216V218M131 116V118M131 120V122M131 218V220M133 104V106M133 114V118M133 216V218M135 112V120M141 162V164M143 164V166M143 196V198M143 200V202M143 222V224M145 196V200M145 222V224M153 220V222M155 220V224M163 126V130M163 132V134M165 126V130M165 134V136M165 144V148M167 96V100M167 136V138M167 148V152M167 208V210M169 92V94M169 96V98M169 140V142M169 208V210M171 90V94M173 86V90M173 162V164M175 76V78M175 86V88M175 158V160M175 164V166M177 236V238M179 158V160M179 164V166M179 236V238M181 76V78M181 80V82M181 160V164M181 178V182M181 190V192M181 206V208M183 180V182M183 190V194M183 206V208M183 210V212M183 236V238M185 138V140M185 236V238M187 142V144M189 138V140M189 236V238M191 140V142M201 118V122M205 110V112M205 222V228M205 238V242M207 112V118M207 120V122M209 140V142M209 206V208M209 212V216M211 138V140M211 208V210M217 132V136M217 190V192M219 114V118M219 126V130M219 188V190M221 118V120M221 122V126M221 188V190M223 126V134M223 190V192M225 136V138M225 140V142M225 192V194M237 88V92M239 154V156M241 92V94M243 88V90M243 92V94M245 226V228M247 226V228M249 88V94M249 114V116M251 86V88M251 92V96M251 110V112M251 116V118M253 90V92M253 112V114M253 116V118M253 226V228M255 114V116M255 208V210M257 208V210M261 188V190M267 188V190M269 206V208M271 184V186M271 208V212M271 222V226M273 126V130M273 132V134M273 184V186M273 224V226M275 106V110M275 120V122M275 124V128M275 180V182M275 184V186M277 118V120M277 172V174M279 102V104M279 184V188M281 102V104M283 170V172M285 214V218M287 170V172M289 178V180M291 174V178M291 214V216M295 186V188M297 182V184M299 184V188M301 102V104M301 212V214M303 100V102M303 208V212M305 214V218M309 172V174M309 180V182M311 172V174M311 180V182M313 180V182M313 184V188M315 176V178M315 184V188"/>
<path stroke="#d30000" d="M29 198V202M37 142V144M37 146V148M41 138V140M47 188V190M49 186V188M49 190V192M51 186V190M55 184V188M57 182V184M57 186V188M59 60V62M59 64V66M59 180V182M59 186V188M65 118V120M67 178V180M69 116V118M69 180V182M71 124V126M71 182V184M77 228V230M83 172V174M83 180V182M85 172V174M85 182V186M87 174V176M93 170V172M99 214V216M101 140V142M103 164V166M103 192V196M105 164V174M105 194V196M107 174V176M107 194V196M107 218V220M109 162V164M109 210V212M109 218V220M111 126V130M111 154V156M111 160V162M111 166V168M111 214V218M113 142V146M113 152V160M115 142V144M117 164V166M119 150V152M121 144V148M125 218V220M127 218V220M129 218V220M131 118V120M133 118V120M133 218V220M135 104V106M141 164V166M143 198V200M153 222V224M163 138V140M165 130V134M165 136V138M167 144V148M169 94V96M173 160V162M175 84V86M177 84V86M177 158V160M177 164V166M179 82V84M181 78V80M181 208V210M181 236V238M183 208V210M185 142V144M185 208V210M187 138V140M189 140V142M203 114V116M205 112V114M205 122V124M205 206V208M205 210V212M205 228V230M205 234V238M207 118V120M207 206V208M207 212V218M207 242V244M209 210V212M209 216V222M213 142V144M217 136V138M219 130V136M221 114V118M221 126V130M221 144V146M223 114V118M223 134V136M225 138V140M239 88V92M239 158V160M241 88V90M241 156V160M243 90V92M251 88V92M255 206V208M257 206V208M261 190V194M263 188V192M265 188V190M267 186V188M269 186V188M273 130V132M275 122V124M275 182V184M277 116V118M277 174V178M277 182V186M279 114V116M279 172V174M279 180V182M281 112V114M283 104V106M283 110V112M285 170V172M287 178V180M291 216V218M295 184V186M297 184V188M301 216V218M303 212V214M307 174V176M307 178V180"/>
<path stroke="#f50000" d="M37 144V146M39 146V148M41 144V146M47 190V192M59 62V64M61 60V64M61 186V188M63 120V124M63 178V180M67 186V188M77 220V222M83 174V176M83 182V184M85 174V176M93 172V176M97 214V216M97 218V222M99 142V146M99 216V228M101 142V144M105 174V176M107 212V214M109 164V166M109 212V214M111 152V154M113 160V162M115 150V152M163 140V142M165 142V144M167 138V140M167 142V144M175 78V84M177 76V78M179 76V78M185 140V142M187 140V142M203 122V124M205 114V116M205 208V210M205 230V234M207 210V212M207 218V224M207 238V242M209 208V210M209 222V236M209 240V244M211 140V142M213 138V140M215 142V144M217 142V144M219 136V138M221 130V136M239 156V158M241 90V92M251 112V114M253 114V116M277 114V116M277 178V182M289 172V174M301 214V216M303 216V218M307 176V178M313 174V176M313 178V180"/>
<path stroke="#ff1700" d="M39 140V142M49 188V190M57 184V186M63 186V188M65 178V180M65 186V188M69 124V126M69 182V184M71 118V120M77 222V228M97 216V218M97 222V224M97 228V230M101 144V148M111 162V164M113 162V166M115 144V146M115 148V150M117 142V144M117 150V152M119 142V144M165 138V140M167 140V142M175 162V164M179 160V164M203 116V118M203 120V122M205 116V118M205 120V122M207 224V238M209 236V240M215 138V140M219 142V144M221 136V138M223 136V138M223 142V144M251 114V116M277 104V106M277 112V114M279 174V180M281 172V174M281 178V180M283 106V110M283 178V180M285 178V180M289 176V178M303 214V216M313 176V178"/>
<path stroke="#ff3900" d="M39 144V146M41 140V144M65 122V124M67 118V120M97 224V228M107 214V218M109 214V218M111 164V166M115 146V148M165 140V142M175 160V162M177 82V84M177 162V164M203 118V120M205 118V120M207 208V210M213 140V142M217 138V140M221 142V144M289 174V176M309 174V176M309 178V180M311 174V176M311 178V180"/>
<path stroke="#ff5a00" d="M39 142V144M59 182V184M61 180V182M65 120V122M71 122V124M119 148V150M177 160V162M179 80V82M215 140V142M219 138V140M221 138V140M223 138V140M279 112V114M281 104V106M283 172V174M287 172V174"/>
<path stroke="#ff7c00" d="M59 184V186M67 122V124M67 180V182M67 184V186M69 118V120M71 120V122M119 144V146M177 78V80M179 78V80M217 140V142M219 140V142M221 140V142M223 140V142M277 106V108M277 110V112M279 104V106M281 110V112M281 174V178M287 176V178M309 176V178M311 176V178"/>
<path stroke="#ff9d00" d="M117 144V146M117 148V150M119 146V148M177 80V82M277 108V110M285 172V174"/>
<path stroke="#ffbf00" d="M61 184V186M63 180V182M63 184V186M67 182V184M69 122V124M117 146V148M287 174V176"/>
<path stroke="#ffe000" d="M61 182V184M65 180V182M65 184V186M67 120V122M285 176V178"/>
<path stroke="#ffff04" d="M69 120V122M279 110V112M281 106V108M283 174V178"/>
<path stroke="#ffff36" d="M63 182V184M281 108V110M285 174V176"/>
<path stroke="#ffff68" d="M65 182V184M279 106V108"/>
<path stroke="#ffffcd" d="M279 108V110"/></g></g>
<g fill="#a9c4eb" stroke="#4a4a4a" stroke-width="1">
<polygon points="576.75,145.0 285.5,145.0 285.5,135.75 268.5,149.25 285.5,162.75 285.5,153.5 576.75,153.5"/>
</g>
<g class="t">
<text x="426.5" y="140.10" textLength="47" lengthAdjust="spacingAndGlyphs">Multiply</text>
<text x="55.5" y="130.85">Input</text>
<text x="55.5" y="147.45" textLength="67" lengthAdjust="spacingAndGlyphs">512x128x1</text>
<text x="91" y="193.10" textLength="48" lengthAdjust="spacingAndGlyphs">Conv2D</text>
<text x="91" y="209.70" textLength="67" lengthAdjust="spacingAndGlyphs">256x64x16</text>
<text x="126.5" y="259.10" textLength="48" lengthAdjust="spacingAndGlyphs">Conv2D</text>
<text x="126.5" y="275.70" textLength="67" lengthAdjust="spacingAndGlyphs">128x32x32</text>
<text x="179.2" y="351.35" textLength="48" lengthAdjust="spacingAndGlyphs">Conv2D</text>
<text x="179.2" y="367.95" textLength="59.5" lengthAdjust="spacingAndGlyphs">64x16x64</text>
<text x="223.5" y="426.60" textLength="48" lengthAdjust="spacingAndGlyphs">Conv2D</text>
<text x="223.5" y="443.20" textLength="59.5" lengthAdjust="spacingAndGlyphs">32x8x128</text>
<text x="285.2" y="514.85" textLength="48" lengthAdjust="spacingAndGlyphs">Conv2D</text>
<text x="285.2" y="531.45" textLength="59.5" lengthAdjust="spacingAndGlyphs">16x4x256</text>
<text x="382.8" y="607.60" textLength="48" lengthAdjust="spacingAndGlyphs">Conv2D</text>
<text x="382.8" y="624.20" textLength="51.75" lengthAdjust="spacingAndGlyphs">8x2x512</text>
<text x="770.8" y="69.10" textLength="42.5" lengthAdjust="spacingAndGlyphs">Output</text>
<text x="770.8" y="85.70" textLength="67" lengthAdjust="spacingAndGlyphs">512x128x1</text>
<text x="788.5" y="166.60" textLength="30.75" lengthAdjust="spacingAndGlyphs">Mask</text>
<text x="788.5" y="183.20" textLength="67" lengthAdjust="spacingAndGlyphs">512x128x1</text>
<text x="779.9" y="237.10" textLength="63" lengthAdjust="spacingAndGlyphs">Deconv2D</text>
<text x="779.9" y="253.70" textLength="67" lengthAdjust="spacingAndGlyphs">256x16x16</text>
<text x="744.6" y="290.10" textLength="63" lengthAdjust="spacingAndGlyphs">Deconv2D</text>
<text x="744.6" y="306.70" textLength="67" lengthAdjust="spacingAndGlyphs">128x32x32</text>
<text x="700" y="343.85" textLength="63" lengthAdjust="spacingAndGlyphs">Deconv2D</text>
<text x="700" y="360.45" textLength="49.5" lengthAdjust="spacingAndGlyphs">Dropout</text>
<text x="700" y="377.05" textLength="59.5" lengthAdjust="spacingAndGlyphs">64x16x64</text>
<text x="639.2" y="427.60" textLength="63" lengthAdjust="spacingAndGlyphs">Deconv2D</text>
<text x="639.2" y="444.20" textLength="49.5" lengthAdjust="spacingAndGlyphs">Dropout</text>
<text x="639.2" y="460.80" textLength="59.5" lengthAdjust="spacingAndGlyphs">32x8x128</text>
<text x="595.2" y="515.85" textLength="63" lengthAdjust="spacingAndGlyphs">Deconv2D</text>
<text x="595.2" y="532.45" textLength="49.5" lengthAdjust="spacingAndGlyphs">Dropout</text>
<text x="595.2" y="549.05" textLength="59.5" lengthAdjust="spacingAndGlyphs">16x4x256</text>
</g>
</svg>
</body></html>
